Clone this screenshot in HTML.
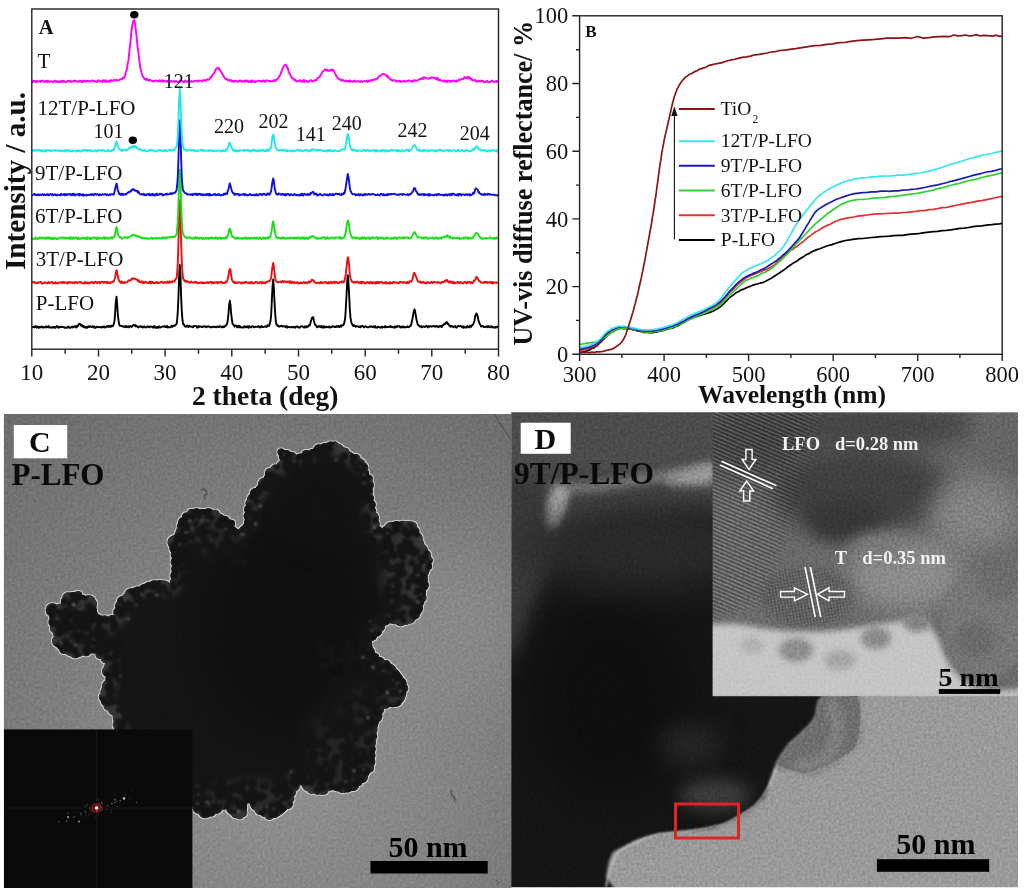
<!DOCTYPE html>
<html><head><meta charset="utf-8"><style>
html,body{margin:0;padding:0;background:#fff;}
body{width:1024px;height:891px;position:relative;overflow:hidden;font-family:"Liberation Serif",serif;}
</style></head><body>
<svg width="1024" height="891" viewBox="0 0 1024 891" style="position:absolute;left:0;top:0;will-change:transform">
<defs>
<clipPath id="clipC"><rect x="3.9" y="414" width="507.3" height="474"/></clipPath>
<clipPath id="clipD"><rect x="511.2" y="412.2" width="506.8" height="475.1"/></clipPath>
<clipPath id="clipI"><rect x="712.6" y="412.3" width="305.4" height="283.9"/></clipPath>
<radialGradient id="gC" cx="280" cy="760" r="480" gradientUnits="userSpaceOnUse"><stop offset="0" stop-color="#929292"/><stop offset="1" stop-color="#686868"/></radialGradient>
<radialGradient id="glowC" cx="470" cy="610" r="130" gradientUnits="userSpaceOnUse"><stop offset="0" stop-color="#fff" stop-opacity="0.09"/><stop offset="1" stop-color="#fff" stop-opacity="0"/></radialGradient>
<filter id="b0_8" x="-50%" y="-50%" width="200%" height="200%" color-interpolation-filters="sRGB"><feGaussianBlur stdDeviation="0.8"/></filter>
<filter id="b1_5" x="-50%" y="-50%" width="200%" height="200%" color-interpolation-filters="sRGB"><feGaussianBlur stdDeviation="1.5"/></filter>
<filter id="b3" x="-50%" y="-50%" width="200%" height="200%" color-interpolation-filters="sRGB"><feGaussianBlur stdDeviation="3"/></filter>
<filter id="b5" x="-50%" y="-50%" width="200%" height="200%" color-interpolation-filters="sRGB"><feGaussianBlur stdDeviation="5"/></filter>
<filter id="b8" x="-50%" y="-50%" width="200%" height="200%" color-interpolation-filters="sRGB"><feGaussianBlur stdDeviation="8"/></filter>
<filter id="b12" x="-50%" y="-50%" width="200%" height="200%" color-interpolation-filters="sRGB"><feGaussianBlur stdDeviation="12"/></filter>
<filter id="b18" x="-50%" y="-50%" width="200%" height="200%" color-interpolation-filters="sRGB"><feGaussianBlur stdDeviation="18"/></filter>
<filter id="b25" x="-50%" y="-50%" width="200%" height="200%" color-interpolation-filters="sRGB"><feGaussianBlur stdDeviation="25"/></filter>
<filter id="noise" x="0" y="0" width="100%" height="100%" color-interpolation-filters="sRGB"><feTurbulence type="fractalNoise" baseFrequency="0.38" numOctaves="2" seed="4"/><feColorMatrix type="matrix" values="1 0 0 0 0  1 0 0 0 0  1 0 0 0 0  0 0 0 0 1"/></filter>
<filter id="spots" x="0" y="0" width="100%" height="100%" color-interpolation-filters="sRGB"><feTurbulence type="fractalNoise" baseFrequency="0.11" numOctaves="2" seed="9"/><feColorMatrix type="matrix" values="0 0 0 0 1  0 0 0 0 1  0 0 0 0 1  2.2 0 0 0 -1.15"/></filter>
<filter id="rim" x="-5%" y="-5%" width="110%" height="110%" color-interpolation-filters="sRGB"><feMorphology in="SourceAlpha" operator="dilate" radius="1.1" result="d"/><feGaussianBlur in="d" stdDeviation="0.7" result="db"/><feFlood flood-color="#cfcfcf" result="f"/><feComposite in="f" in2="db" operator="in" result="r"/><feMerge><feMergeNode in="r"/><feMergeNode in="SourceGraphic"/></feMerge></filter>
<g id="blobCshape"><path d="M49.8,609.3 L50.0,607.6 L50.3,606.2 L50.8,605.1 L51.7,604.4 L53.3,604.5 L55.4,605.2 L57.5,605.8 L59.5,605.4 L61.0,603.5 L62.3,600.7 L63.7,597.8 L65.4,595.6 L67.5,594.2 L69.9,593.3 L72.5,592.8 L75.2,592.7 L78.1,593.2 L81.2,594.2 L84.2,595.4 L86.9,596.6 L89.2,597.6 L91.4,598.6 L93.2,599.8 L94.7,601.5 L95.7,604.2 L96.2,607.5 L96.7,610.7 L97.6,613.2 L99.0,614.6 L100.6,615.4 L102.5,615.8 L104.5,616.1 L106.9,616.4 L109.5,616.7 L112.1,616.4 L114.2,615.2 L115.5,612.5 L116.3,608.8 L117.0,604.8 L118.1,601.5 L119.7,599.1 L121.5,597.1 L123.6,595.4 L125.9,593.7 L128.6,592.1 L131.7,590.6 L134.8,589.2 L137.7,587.8 L140.2,586.4 L142.4,585.0 L144.7,583.7 L147.3,582.7 L150.3,581.9 L153.7,581.3 L157.0,581.0 L160.0,581.0 L162.6,581.6 L165.1,582.8 L167.2,583.8 L168.9,584.0 L170.0,583.2 L170.6,581.9 L171.0,579.9 L171.4,577.4 L171.9,574.2 L172.3,570.3 L172.5,566.0 L172.5,561.5 L171.9,556.6 L170.8,551.2 L169.9,546.0 L169.7,541.8 L170.5,539.0 L172.1,537.2 L173.8,535.5 L175.3,533.4 L176.3,530.5 L177.1,527.2 L178.0,523.9 L179.5,520.8 L181.8,518.0 L184.7,515.2 L187.7,512.8 L190.7,511.0 L193.5,510.0 L196.2,509.5 L199.0,509.5 L202.0,509.6 L205.3,509.9 L208.8,510.4 L212.4,511.2 L216.0,512.4 L219.7,514.1 L223.4,516.2 L227.0,518.6 L230.0,520.8 L232.2,523.2 L233.9,525.9 L235.4,528.1 L237.0,529.2 L238.8,529.1 L240.8,528.2 L242.5,526.4 L244.0,523.6 L245.0,519.1 L245.6,513.3 L246.1,507.3 L246.8,502.6 L247.6,499.7 L248.5,498.0 L249.6,496.4 L251.2,494.2 L253.7,491.0 L256.8,487.2 L259.9,483.4 L262.5,480.2 L264.1,477.7 L265.2,475.7 L266.4,473.8 L268.0,471.8 L270.7,469.7 L274.0,467.7 L277.1,465.6 L279.3,463.3 L279.9,460.4 L279.5,457.1 L279.0,454.1 L279.3,452.0 L280.8,451.1 L283.0,451.1 L285.4,451.5 L287.7,452.0 L289.6,452.7 L291.3,453.9 L293.3,454.8 L296.0,455.0 L299.8,454.2 L304.3,452.7 L309.0,450.9 L313.0,449.3 L316.2,447.8 L319.0,446.2 L321.5,444.8 L324.2,443.7 L327.0,442.9 L329.8,442.2 L332.6,442.0 L335.4,442.3 L338.2,443.4 L341.1,445.2 L343.9,447.3 L346.7,449.3 L349.6,451.3 L352.5,453.4 L355.3,455.6 L357.9,457.7 L360.3,459.7 L362.5,461.5 L364.6,463.6 L366.3,466.1 L367.7,469.1 L368.8,472.5 L369.7,476.2 L370.5,480.2 L371.0,484.8 L371.3,489.8 L371.5,495.0 L372.0,499.8 L372.8,504.3 L373.9,508.6 L375.0,512.7 L376.1,516.7 L377.1,520.9 L378.0,525.1 L379.0,528.6 L380.4,530.7 L382.1,530.6 L384.0,529.0 L386.2,526.8 L388.8,525.1 L392.0,524.1 L395.6,523.3 L399.4,522.6 L402.8,522.3 L405.9,522.1 L408.9,522.0 L411.7,522.5 L414.0,523.7 L415.8,526.0 L417.1,529.2 L418.2,532.8 L419.6,536.3 L421.3,539.8 L423.2,543.3 L425.1,546.9 L426.7,550.4 L428.2,553.6 L429.5,556.6 L430.5,559.7 L430.9,563.0 L430.4,566.6 L429.1,570.4 L427.7,574.4 L426.7,578.4 L426.3,582.5 L426.1,586.8 L425.9,591.0 L425.3,595.3 L424.3,599.6 L423.1,604.1 L421.5,608.3 L419.6,612.1 L417.4,615.6 L414.9,618.8 L411.9,621.4 L408.4,623.3 L403.8,623.9 L398.4,623.5 L393.1,623.0 L388.8,623.3 L385.9,624.8 L383.9,627.0 L382.2,629.5 L380.4,631.8 L378.0,633.8 L375.5,635.8 L373.3,637.9 L372.0,640.2 L371.7,643.0 L372.2,646.1 L373.2,649.2 L374.6,652.0 L376.5,654.5 L379.0,656.9 L381.7,659.0 L384.3,661.0 L386.8,662.6 L389.3,664.0 L391.7,665.4 L394.0,667.0 L396.2,669.0 L398.4,671.1 L400.3,673.5 L402.0,676.0 L403.4,678.8 L404.6,681.8 L405.5,684.9 L406.0,688.0 L406.1,691.1 L405.8,694.3 L405.1,697.4 L404.0,700.0 L402.5,702.1 L400.6,703.9 L398.4,705.4 L396.0,706.5 L393.2,707.0 L390.0,707.0 L386.8,707.2 L384.3,708.0 L382.6,709.7 L381.3,712.0 L380.3,714.7 L379.4,717.8 L378.4,721.4 L377.6,725.5 L376.8,729.8 L376.2,734.0 L375.7,738.0 L375.4,741.9 L375.1,745.9 L374.6,750.2 L374.0,755.0 L373.5,760.2 L372.6,765.2 L371.3,769.7 L369.4,773.5 L367.1,776.9 L364.4,779.9 L361.6,782.7 L358.7,785.3 L355.5,787.6 L352.2,789.5 L348.6,790.8 L344.6,791.1 L340.3,790.6 L336.1,790.0 L332.4,789.8 L329.6,790.4 L327.3,791.5 L325.2,792.5 L322.7,793.0 L319.6,793.0 L316.2,792.6 L312.8,791.9 L309.7,790.8 L306.9,788.8 L304.3,786.0 L302.0,783.6 L300.0,782.7 L298.4,783.8 L297.2,786.2 L296.2,789.3 L295.1,792.4 L294.1,795.5 L293.2,798.8 L292.0,802.2 L290.2,805.4 L287.5,808.6 L284.3,811.9 L280.7,814.7 L277.3,816.7 L274.0,817.7 L270.6,817.9 L267.3,817.5 L264.3,816.7 L261.6,815.2 L259.0,813.1 L256.7,810.7 L254.6,808.6 L252.7,806.4 L250.9,804.0 L249.4,802.2 L248.1,802.0 L247.2,804.1 L246.7,808.0 L246.1,812.1 L244.9,815.0 L242.9,816.4 L240.3,817.2 L237.6,817.2 L235.0,816.7 L232.6,815.1 L230.2,812.6 L227.8,810.1 L225.4,808.6 L223.0,808.6 L220.6,809.4 L218.1,810.7 L215.7,811.9 L213.3,813.2 L210.9,814.8 L208.4,816.1 L206.0,816.7 L203.5,816.3 L200.9,815.2 L198.4,813.7 L196.2,811.9 L194.5,810.1 L193.1,808.0 L191.7,805.4 L190.0,802.0 L188.2,797.3 L186.5,791.6 L184.0,785.6 L180.0,780.0 L173.9,774.9 L166.2,769.9 L158.0,765.0 L150.0,760.0 L141.9,754.8 L133.4,749.5 L125.7,744.4 L120.0,740.0 L116.9,736.3 L115.8,733.2 L115.5,730.6 L115.2,728.4 L114.7,727.0 L114.5,726.3 L114.4,725.7 L114.2,724.5 L113.9,722.4 L113.7,719.9 L113.2,717.2 L112.3,714.8 L110.7,712.7 L108.5,710.8 L106.3,708.9 L104.5,707.0 L103.1,705.1 L101.9,703.2 L101.0,701.2 L100.5,699.1 L100.5,696.8 L101.0,694.5 L101.7,692.0 L102.5,689.4 L103.5,686.5 L104.7,683.3 L105.8,680.3 L106.4,677.7 L106.3,675.9 L105.6,674.6 L104.9,673.4 L104.5,671.8 L104.7,669.5 L105.1,666.8 L105.5,664.2 L105.4,662.0 L104.6,660.4 L103.4,659.2 L101.9,658.1 L100.5,657.1 L99.2,655.9 L97.8,654.8 L96.3,653.8 L94.7,653.2 L93.0,653.1 L91.2,653.3 L89.2,653.7 L86.9,654.2 L84.3,655.0 L81.3,656.0 L78.2,656.9 L75.2,657.1 L72.2,656.5 L69.1,655.4 L66.1,653.9 L63.4,652.3 L61.0,650.6 L58.9,648.7 L57.0,646.7 L55.6,644.5 L54.8,642.3 L54.4,640.1 L54.2,637.6 L53.7,634.7 L52.8,631.0 L51.6,626.8 L50.5,622.6 L49.8,619.0 L49.5,616.0 L49.4,613.5 L49.6,611.2 Z"/><circle cx="53.3" cy="609.7" r="5.1"/><circle cx="52.4" cy="609.9" r="6.7"/><circle cx="59.6" cy="609.1" r="5.3"/><circle cx="65.0" cy="601.5" r="4.1"/><circle cx="68.1" cy="598.0" r="5.7"/><circle cx="72.8" cy="595.8" r="3.8"/><circle cx="78.2" cy="594.8" r="3.8"/><circle cx="82.4" cy="600.9" r="5.9"/><circle cx="88.9" cy="602.1" r="6.9"/><circle cx="91.3" cy="604.1" r="5.8"/><circle cx="92.5" cy="609.6" r="4.1"/><circle cx="96.8" cy="619.4" r="5.3"/><circle cx="104.9" cy="619.7" r="4.2"/><circle cx="112.1" cy="618.7" r="3.6"/><circle cx="118.3" cy="612.2" r="5.0"/><circle cx="120.4" cy="605.9" r="5.3"/><circle cx="122.3" cy="601.3" r="5.2"/><circle cx="126.7" cy="598.5" r="5.1"/><circle cx="131.5" cy="595.3" r="7.0"/><circle cx="137.5" cy="592.8" r="6.4"/><circle cx="143.4" cy="589.1" r="4.6"/><circle cx="148.7" cy="586.8" r="4.5"/><circle cx="154.3" cy="586.4" r="6.2"/><circle cx="159.9" cy="586.4" r="6.5"/><circle cx="164.0" cy="587.3" r="6.9"/><circle cx="173.6" cy="581.9" r="3.5"/><circle cx="177.1" cy="575.7" r="6.7"/><circle cx="178.2" cy="568.8" r="6.9"/><circle cx="174.5" cy="561.9" r="3.8"/><circle cx="177.0" cy="554.4" r="6.2"/><circle cx="173.3" cy="548.6" r="3.8"/><circle cx="174.5" cy="542.4" r="6.9"/><circle cx="174.5" cy="539.3" r="3.9"/><circle cx="179.4" cy="532.8" r="3.9"/><circle cx="183.1" cy="527.0" r="6.3"/><circle cx="183.7" cy="522.3" r="5.5"/><circle cx="186.3" cy="516.6" r="4.2"/><circle cx="191.4" cy="513.1" r="4.0"/><circle cx="196.5" cy="512.2" r="3.9"/><circle cx="202.7" cy="513.2" r="4.2"/><circle cx="208.4" cy="515.1" r="6.9"/><circle cx="215.0" cy="514.3" r="4.6"/><circle cx="219.9" cy="517.9" r="4.2"/><circle cx="224.2" cy="522.3" r="6.5"/><circle cx="231.1" cy="523.6" r="3.9"/><circle cx="233.5" cy="531.1" r="4.2"/><circle cx="245.1" cy="531.4" r="6.2"/><circle cx="248.6" cy="523.0" r="4.5"/><circle cx="247.5" cy="515.9" r="3.8"/><circle cx="248.6" cy="509.4" r="4.4"/><circle cx="250.3" cy="503.3" r="4.8"/><circle cx="253.8" cy="500.0" r="6.9"/><circle cx="255.6" cy="493.5" r="5.5"/><circle cx="260.1" cy="489.0" r="4.1"/><circle cx="264.8" cy="484.3" r="6.7"/><circle cx="268.4" cy="478.0" r="4.4"/><circle cx="271.0" cy="473.8" r="6.1"/><circle cx="275.2" cy="468.8" r="4.2"/><circle cx="282.9" cy="466.7" r="6.6"/><circle cx="284.1" cy="456.2" r="5.0"/><circle cx="281.1" cy="452.1" r="3.6"/><circle cx="286.5" cy="454.2" r="4.3"/><circle cx="292.0" cy="456.5" r="4.4"/><circle cx="300.2" cy="459.0" r="5.6"/><circle cx="306.1" cy="454.2" r="4.1"/><circle cx="312.6" cy="452.8" r="3.7"/><circle cx="318.8" cy="449.8" r="5.5"/><circle cx="325.0" cy="448.7" r="5.7"/><circle cx="330.7" cy="448.3" r="6.7"/><circle cx="334.7" cy="445.0" r="3.6"/><circle cx="338.6" cy="449.4" r="5.1"/><circle cx="344.9" cy="451.8" r="4.1"/><circle cx="349.0" cy="457.2" r="5.5"/><circle cx="355.7" cy="458.8" r="4.8"/><circle cx="358.9" cy="465.1" r="6.9"/><circle cx="362.4" cy="468.0" r="5.9"/><circle cx="365.0" cy="473.4" r="4.0"/><circle cx="369.2" cy="478.7" r="3.6"/><circle cx="367.8" cy="485.1" r="6.0"/><circle cx="369.5" cy="491.5" r="3.6"/><circle cx="368.7" cy="498.2" r="5.2"/><circle cx="371.1" cy="504.8" r="4.6"/><circle cx="372.3" cy="511.2" r="3.8"/><circle cx="372.7" cy="517.7" r="6.1"/><circle cx="373.6" cy="524.1" r="6.1"/><circle cx="376.4" cy="531.5" r="6.3"/><circle cx="386.5" cy="530.4" r="4.7"/><circle cx="391.0" cy="528.8" r="6.7"/><circle cx="396.5" cy="525.9" r="5.0"/><circle cx="403.0" cy="527.2" r="6.5"/><circle cx="408.3" cy="526.6" r="5.7"/><circle cx="411.6" cy="526.9" r="5.5"/><circle cx="415.6" cy="531.1" r="3.8"/><circle cx="415.7" cy="538.6" r="7.0"/><circle cx="418.3" cy="544.6" r="6.0"/><circle cx="421.6" cy="550.0" r="6.1"/><circle cx="425.9" cy="555.1" r="5.0"/><circle cx="428.9" cy="560.3" r="3.8"/><circle cx="428.5" cy="566.3" r="3.6"/><circle cx="424.1" cy="571.2" r="5.2"/><circle cx="422.1" cy="578.5" r="5.9"/><circle cx="423.1" cy="585.3" r="5.7"/><circle cx="421.4" cy="591.4" r="4.4"/><circle cx="422.0" cy="597.7" r="4.6"/><circle cx="419.4" cy="603.3" r="4.2"/><circle cx="416.1" cy="608.4" r="6.7"/><circle cx="414.9" cy="614.5" r="5.0"/><circle cx="410.7" cy="618.8" r="4.6"/><circle cx="406.4" cy="620.5" r="4.2"/><circle cx="400.6" cy="619.9" r="6.3"/><circle cx="394.3" cy="617.6" r="6.6"/><circle cx="385.3" cy="619.9" r="5.5"/><circle cx="380.8" cy="627.0" r="4.0"/><circle cx="376.0" cy="630.2" r="6.4"/><circle cx="371.4" cy="635.1" r="6.0"/><circle cx="367.8" cy="644.1" r="4.5"/><circle cx="369.6" cy="651.6" r="5.1"/><circle cx="375.0" cy="657.3" r="4.2"/><circle cx="379.4" cy="662.7" r="5.7"/><circle cx="386.3" cy="664.9" r="4.6"/><circle cx="389.7" cy="670.9" r="6.9"/><circle cx="395.2" cy="673.2" r="3.8"/><circle cx="396.4" cy="679.3" r="6.6"/><circle cx="400.5" cy="683.2" r="6.0"/><circle cx="403.6" cy="688.3" r="4.6"/><circle cx="402.6" cy="693.7" r="3.6"/><circle cx="399.5" cy="697.6" r="5.1"/><circle cx="395.9" cy="700.1" r="6.4"/><circle cx="392.9" cy="703.2" r="4.0"/><circle cx="385.1" cy="703.1" r="5.7"/><circle cx="378.3" cy="709.4" r="5.7"/><circle cx="376.0" cy="716.3" r="6.3"/><circle cx="372.7" cy="722.6" r="5.9"/><circle cx="372.2" cy="729.4" r="5.2"/><circle cx="373.7" cy="736.2" r="3.5"/><circle cx="369.8" cy="742.5" r="6.0"/><circle cx="371.2" cy="749.1" r="4.5"/><circle cx="369.5" cy="755.4" r="5.9"/><circle cx="369.6" cy="761.8" r="5.7"/><circle cx="369.1" cy="767.9" r="4.9"/><circle cx="363.5" cy="770.8" r="6.7"/><circle cx="361.2" cy="776.5" r="6.8"/><circle cx="358.3" cy="782.0" r="4.0"/><circle cx="353.3" cy="785.3" r="5.7"/><circle cx="347.9" cy="787.6" r="4.8"/><circle cx="343.0" cy="786.5" r="6.6"/><circle cx="336.9" cy="784.5" r="6.8"/><circle cx="328.5" cy="785.3" r="5.8"/><circle cx="322.9" cy="789.1" r="6.0"/><circle cx="317.6" cy="789.0" r="5.7"/><circle cx="311.5" cy="789.6" r="4.2"/><circle cx="308.8" cy="784.6" r="6.9"/><circle cx="302.2" cy="780.2" r="5.4"/><circle cx="295.0" cy="786.4" r="4.6"/><circle cx="289.6" cy="791.4" r="6.5"/><circle cx="290.5" cy="798.6" r="3.8"/><circle cx="287.4" cy="803.7" r="5.4"/><circle cx="282.4" cy="806.5" r="5.2"/><circle cx="277.2" cy="809.6" r="6.3"/><circle cx="273.6" cy="811.7" r="6.3"/><circle cx="269.2" cy="815.3" r="4.7"/><circle cx="264.4" cy="812.7" r="4.0"/><circle cx="260.1" cy="809.4" r="5.3"/><circle cx="256.6" cy="804.1" r="6.4"/><circle cx="250.0" cy="796.8" r="6.8"/><circle cx="240.3" cy="806.5" r="6.8"/><circle cx="242.9" cy="812.6" r="4.3"/><circle cx="239.8" cy="814.8" r="4.5"/><circle cx="236.5" cy="812.6" r="5.7"/><circle cx="232.9" cy="808.4" r="6.5"/><circle cx="224.1" cy="805.1" r="4.6"/><circle cx="216.3" cy="807.2" r="6.5"/><circle cx="211.3" cy="812.3" r="4.2"/><circle cx="205.3" cy="811.3" r="6.9"/><circle cx="202.9" cy="810.7" r="5.5"/><circle cx="198.1" cy="808.2" r="5.4"/><circle cx="196.7" cy="803.0" r="5.6"/><circle cx="194.2" cy="797.6" r="6.9"/><circle cx="189.6" cy="792.6" r="4.9"/><circle cx="188.5" cy="785.7" r="5.5"/><circle cx="186.0" cy="778.5" r="5.9"/><circle cx="179.4" cy="774.0" r="5.4"/><circle cx="173.9" cy="769.7" r="6.8"/><circle cx="167.7" cy="767.1" r="4.4"/><circle cx="161.9" cy="764.1" r="3.9"/><circle cx="157.0" cy="759.8" r="6.4"/><circle cx="151.8" cy="756.0" r="5.2"/><circle cx="145.3" cy="754.1" r="4.2"/><circle cx="141.9" cy="747.2" r="6.7"/><circle cx="136.4" cy="744.0" r="6.2"/><circle cx="129.5" cy="742.6" r="4.2"/><circle cx="125.4" cy="737.8" r="5.9"/><circle cx="120.0" cy="735.3" r="4.7"/><circle cx="117.4" cy="731.1" r="3.9"/><circle cx="116.7" cy="724.4" r="3.9"/><circle cx="117.2" cy="717.8" r="4.4"/><circle cx="113.4" cy="709.6" r="5.4"/><circle cx="108.5" cy="705.9" r="4.8"/><circle cx="106.1" cy="700.6" r="5.4"/><circle cx="103.0" cy="697.0" r="4.2"/><circle cx="106.2" cy="691.9" r="5.7"/><circle cx="108.7" cy="686.2" r="6.5"/><circle cx="111.9" cy="679.7" r="6.5"/><circle cx="108.3" cy="671.3" r="6.1"/><circle cx="111.0" cy="666.7" r="6.7"/><circle cx="105.4" cy="658.4" r="4.6"/><circle cx="99.9" cy="654.6" r="4.3"/><circle cx="93.7" cy="646.9" r="6.6"/><circle cx="86.2" cy="652.0" r="4.3"/><circle cx="79.5" cy="652.2" r="4.4"/><circle cx="75.2" cy="651.8" r="6.4"/><circle cx="70.7" cy="649.6" r="6.3"/><circle cx="64.2" cy="649.2" r="4.9"/><circle cx="59.9" cy="645.3" r="3.6"/><circle cx="57.9" cy="641.1" r="5.9"/><circle cx="60.3" cy="634.1" r="6.9"/><circle cx="55.2" cy="628.1" r="5.3"/><circle cx="53.8" cy="622.0" r="5.3"/><circle cx="53.4" cy="615.8" r="4.2"/><circle cx="53.5" cy="610.2" r="3.9"/></g>
<mask id="mBlobC"><use href="#blobCshape" fill="#fff"/></mask>
<pattern id="fringeA" width="3.6" height="3.6" patternUnits="userSpaceOnUse" patternTransform="rotate(23)"><rect width="3.6" height="1.6" fill="#000" fill-opacity="0.32"/><rect y="1.8" width="3.6" height="1.6" fill="#fff" fill-opacity="0.10"/></pattern>
<pattern id="fringeB" width="3.2" height="3.2" patternUnits="userSpaceOnUse" patternTransform="rotate(80)"><rect width="3.2" height="1.5" fill="#000" fill-opacity="0.18"/></pattern>
<pattern id="fringeC" width="3.2" height="3.2" patternUnits="userSpaceOnUse" patternTransform="rotate(-10)"><rect width="3.2" height="1.5" fill="#000" fill-opacity="0.12"/></pattern>
</defs>
<g clip-path="url(#clipC)">
<rect x="0" y="410" width="512" height="481" fill="url(#gC)"/>
<rect x="0" y="410" width="512" height="481" fill="url(#glowC)"/>
<use href="#blobCshape" fill="#151515" filter="url(#rim)"/>
<g mask="url(#mBlobC)">
<path d="M49.8,609.3 L50.0,607.6 L50.3,606.2 L50.8,605.1 L51.7,604.4 L53.3,604.5 L55.4,605.2 L57.5,605.8 L59.5,605.4 L61.0,603.5 L62.3,600.7 L63.7,597.8 L65.4,595.6 L67.5,594.2 L69.9,593.3 L72.5,592.8 L75.2,592.7 L78.1,593.2 L81.2,594.2 L84.2,595.4 L86.9,596.6 L89.2,597.6 L91.4,598.6 L93.2,599.8 L94.7,601.5 L95.7,604.2 L96.2,607.5 L96.7,610.7 L97.6,613.2 L99.0,614.6 L100.6,615.4 L102.5,615.8 L104.5,616.1 L106.9,616.4 L109.5,616.7 L112.1,616.4 L114.2,615.2 L115.5,612.5 L116.3,608.8 L117.0,604.8 L118.1,601.5 L119.7,599.1 L121.5,597.1 L123.6,595.4 L125.9,593.7 L128.6,592.1 L131.7,590.6 L134.8,589.2 L137.7,587.8 L140.2,586.4 L142.4,585.0 L144.7,583.7 L147.3,582.7 L150.3,581.9 L153.7,581.3 L157.0,581.0 L160.0,581.0 L162.6,581.6 L165.1,582.8 L167.2,583.8 L168.9,584.0 L170.0,583.2 L170.6,581.9 L171.0,579.9 L171.4,577.4 L171.9,574.2 L172.3,570.3 L172.5,566.0 L172.5,561.5 L171.9,556.6 L170.8,551.2 L169.9,546.0 L169.7,541.8 L170.5,539.0 L172.1,537.2 L173.8,535.5 L175.3,533.4 L176.3,530.5 L177.1,527.2 L178.0,523.9 L179.5,520.8 L181.8,518.0 L184.7,515.2 L187.7,512.8 L190.7,511.0 L193.5,510.0 L196.2,509.5 L199.0,509.5 L202.0,509.6 L205.3,509.9 L208.8,510.4 L212.4,511.2 L216.0,512.4 L219.7,514.1 L223.4,516.2 L227.0,518.6 L230.0,520.8 L232.2,523.2 L233.9,525.9 L235.4,528.1 L237.0,529.2 L238.8,529.1 L240.8,528.2 L242.5,526.4 L244.0,523.6 L245.0,519.1 L245.6,513.3 L246.1,507.3 L246.8,502.6 L247.6,499.7 L248.5,498.0 L249.6,496.4 L251.2,494.2 L253.7,491.0 L256.8,487.2 L259.9,483.4 L262.5,480.2 L264.1,477.7 L265.2,475.7 L266.4,473.8 L268.0,471.8 L270.7,469.7 L274.0,467.7 L277.1,465.6 L279.3,463.3 L279.9,460.4 L279.5,457.1 L279.0,454.1 L279.3,452.0 L280.8,451.1 L283.0,451.1 L285.4,451.5 L287.7,452.0 L289.6,452.7 L291.3,453.9 L293.3,454.8 L296.0,455.0 L299.8,454.2 L304.3,452.7 L309.0,450.9 L313.0,449.3 L316.2,447.8 L319.0,446.2 L321.5,444.8 L324.2,443.7 L327.0,442.9 L329.8,442.2 L332.6,442.0 L335.4,442.3 L338.2,443.4 L341.1,445.2 L343.9,447.3 L346.7,449.3 L349.6,451.3 L352.5,453.4 L355.3,455.6 L357.9,457.7 L360.3,459.7 L362.5,461.5 L364.6,463.6 L366.3,466.1 L367.7,469.1 L368.8,472.5 L369.7,476.2 L370.5,480.2 L371.0,484.8 L371.3,489.8 L371.5,495.0 L372.0,499.8 L372.8,504.3 L373.9,508.6 L375.0,512.7 L376.1,516.7 L377.1,520.9 L378.0,525.1 L379.0,528.6 L380.4,530.7 L382.1,530.6 L384.0,529.0 L386.2,526.8 L388.8,525.1 L392.0,524.1 L395.6,523.3 L399.4,522.6 L402.8,522.3 L405.9,522.1 L408.9,522.0 L411.7,522.5 L414.0,523.7 L415.8,526.0 L417.1,529.2 L418.2,532.8 L419.6,536.3 L421.3,539.8 L423.2,543.3 L425.1,546.9 L426.7,550.4 L428.2,553.6 L429.5,556.6 L430.5,559.7 L430.9,563.0 L430.4,566.6 L429.1,570.4 L427.7,574.4 L426.7,578.4 L426.3,582.5 L426.1,586.8 L425.9,591.0 L425.3,595.3 L424.3,599.6 L423.1,604.1 L421.5,608.3 L419.6,612.1 L417.4,615.6 L414.9,618.8 L411.9,621.4 L408.4,623.3 L403.8,623.9 L398.4,623.5 L393.1,623.0 L388.8,623.3 L385.9,624.8 L383.9,627.0 L382.2,629.5 L380.4,631.8 L378.0,633.8 L375.5,635.8 L373.3,637.9 L372.0,640.2 L371.7,643.0 L372.2,646.1 L373.2,649.2 L374.6,652.0 L376.5,654.5 L379.0,656.9 L381.7,659.0 L384.3,661.0 L386.8,662.6 L389.3,664.0 L391.7,665.4 L394.0,667.0 L396.2,669.0 L398.4,671.1 L400.3,673.5 L402.0,676.0 L403.4,678.8 L404.6,681.8 L405.5,684.9 L406.0,688.0 L406.1,691.1 L405.8,694.3 L405.1,697.4 L404.0,700.0 L402.5,702.1 L400.6,703.9 L398.4,705.4 L396.0,706.5 L393.2,707.0 L390.0,707.0 L386.8,707.2 L384.3,708.0 L382.6,709.7 L381.3,712.0 L380.3,714.7 L379.4,717.8 L378.4,721.4 L377.6,725.5 L376.8,729.8 L376.2,734.0 L375.7,738.0 L375.4,741.9 L375.1,745.9 L374.6,750.2 L374.0,755.0 L373.5,760.2 L372.6,765.2 L371.3,769.7 L369.4,773.5 L367.1,776.9 L364.4,779.9 L361.6,782.7 L358.7,785.3 L355.5,787.6 L352.2,789.5 L348.6,790.8 L344.6,791.1 L340.3,790.6 L336.1,790.0 L332.4,789.8 L329.6,790.4 L327.3,791.5 L325.2,792.5 L322.7,793.0 L319.6,793.0 L316.2,792.6 L312.8,791.9 L309.7,790.8 L306.9,788.8 L304.3,786.0 L302.0,783.6 L300.0,782.7 L298.4,783.8 L297.2,786.2 L296.2,789.3 L295.1,792.4 L294.1,795.5 L293.2,798.8 L292.0,802.2 L290.2,805.4 L287.5,808.6 L284.3,811.9 L280.7,814.7 L277.3,816.7 L274.0,817.7 L270.6,817.9 L267.3,817.5 L264.3,816.7 L261.6,815.2 L259.0,813.1 L256.7,810.7 L254.6,808.6 L252.7,806.4 L250.9,804.0 L249.4,802.2 L248.1,802.0 L247.2,804.1 L246.7,808.0 L246.1,812.1 L244.9,815.0 L242.9,816.4 L240.3,817.2 L237.6,817.2 L235.0,816.7 L232.6,815.1 L230.2,812.6 L227.8,810.1 L225.4,808.6 L223.0,808.6 L220.6,809.4 L218.1,810.7 L215.7,811.9 L213.3,813.2 L210.9,814.8 L208.4,816.1 L206.0,816.7 L203.5,816.3 L200.9,815.2 L198.4,813.7 L196.2,811.9 L194.5,810.1 L193.1,808.0 L191.7,805.4 L190.0,802.0 L188.2,797.3 L186.5,791.6 L184.0,785.6 L180.0,780.0 L173.9,774.9 L166.2,769.9 L158.0,765.0 L150.0,760.0 L141.9,754.8 L133.4,749.5 L125.7,744.4 L120.0,740.0 L116.9,736.3 L115.8,733.2 L115.5,730.6 L115.2,728.4 L114.7,727.0 L114.5,726.3 L114.4,725.7 L114.2,724.5 L113.9,722.4 L113.7,719.9 L113.2,717.2 L112.3,714.8 L110.7,712.7 L108.5,710.8 L106.3,708.9 L104.5,707.0 L103.1,705.1 L101.9,703.2 L101.0,701.2 L100.5,699.1 L100.5,696.8 L101.0,694.5 L101.7,692.0 L102.5,689.4 L103.5,686.5 L104.7,683.3 L105.8,680.3 L106.4,677.7 L106.3,675.9 L105.6,674.6 L104.9,673.4 L104.5,671.8 L104.7,669.5 L105.1,666.8 L105.5,664.2 L105.4,662.0 L104.6,660.4 L103.4,659.2 L101.9,658.1 L100.5,657.1 L99.2,655.9 L97.8,654.8 L96.3,653.8 L94.7,653.2 L93.0,653.1 L91.2,653.3 L89.2,653.7 L86.9,654.2 L84.3,655.0 L81.3,656.0 L78.2,656.9 L75.2,657.1 L72.2,656.5 L69.1,655.4 L66.1,653.9 L63.4,652.3 L61.0,650.6 L58.9,648.7 L57.0,646.7 L55.6,644.5 L54.8,642.3 L54.4,640.1 L54.2,637.6 L53.7,634.7 L52.8,631.0 L51.6,626.8 L50.5,622.6 L49.8,619.0 L49.5,616.0 L49.4,613.5 L49.6,611.2 Z" fill="none" stroke="#363636" stroke-width="24" filter="url(#b3)"/>
<ellipse cx="90" cy="625" rx="24" ry="22" fill="#303030" filter="url(#b5)"/>
<ellipse cx="405" cy="575" rx="24" ry="45" fill="#363636" filter="url(#b5)"/>
<ellipse cx="210" cy="535" rx="28" ry="20" fill="#2c2c2c" filter="url(#b5)"/>
<ellipse cx="350" cy="730" rx="45" ry="55" fill="#2a2a2a" filter="url(#b8)"/>
<ellipse cx="250" cy="795" rx="45" ry="16" fill="#2a2a2a" filter="url(#b5)"/>
<ellipse cx="290" cy="630" rx="90" ry="110" fill="#0f0f0f" filter="url(#b25)"/>
<ellipse cx="320" cy="505" rx="35" ry="40" fill="#121212" filter="url(#b12)"/>
<g fill="#141414" filter="url(#b0_8)"><circle cx="112.4" cy="701.3" r="3.9"/><circle cx="351.8" cy="745.7" r="3.6"/><circle cx="242.1" cy="530.7" r="2.6"/><circle cx="331.2" cy="770.9" r="3.8"/><circle cx="412.6" cy="580.5" r="2.9"/><circle cx="361.3" cy="488.9" r="4.5"/><circle cx="379.7" cy="530.3" r="4.2"/><circle cx="340.4" cy="660.3" r="4.1"/><circle cx="96.2" cy="621.0" r="4.3"/><circle cx="388.0" cy="596.0" r="3.3"/><circle cx="204.7" cy="813.8" r="4.5"/><circle cx="356.6" cy="732.9" r="3.6"/><circle cx="369.2" cy="740.9" r="4.4"/><circle cx="374.3" cy="661.6" r="3.1"/><circle cx="204.2" cy="802.4" r="4.4"/><circle cx="380.3" cy="688.3" r="2.9"/><circle cx="320.6" cy="770.5" r="4.1"/><circle cx="259.0" cy="798.4" r="2.8"/><circle cx="422.1" cy="575.5" r="3.2"/><circle cx="360.1" cy="727.7" r="3.5"/><circle cx="202.6" cy="526.7" r="2.7"/><circle cx="215.0" cy="534.8" r="4.0"/><circle cx="361.2" cy="714.1" r="3.5"/><circle cx="139.6" cy="586.9" r="3.6"/><circle cx="290.5" cy="804.0" r="2.8"/><circle cx="323.0" cy="776.7" r="4.2"/><circle cx="304.3" cy="764.9" r="4.0"/><circle cx="399.1" cy="587.1" r="3.8"/><circle cx="412.3" cy="563.1" r="3.1"/><circle cx="371.9" cy="499.6" r="4.0"/><circle cx="155.3" cy="584.4" r="4.5"/><circle cx="318.2" cy="449.1" r="3.6"/><circle cx="351.4" cy="751.1" r="3.7"/><circle cx="135.3" cy="743.6" r="4.3"/><circle cx="334.4" cy="727.4" r="3.0"/><circle cx="178.4" cy="543.4" r="3.3"/><circle cx="75.2" cy="634.4" r="4.0"/><circle cx="365.0" cy="522.3" r="2.7"/><circle cx="357.2" cy="782.7" r="4.0"/><circle cx="132.3" cy="734.3" r="4.4"/><circle cx="252.9" cy="783.5" r="4.5"/><circle cx="198.3" cy="796.0" r="4.5"/><circle cx="345.3" cy="720.2" r="4.4"/><circle cx="141.0" cy="601.5" r="3.9"/><circle cx="343.5" cy="724.4" r="3.9"/><circle cx="363.3" cy="662.4" r="4.2"/><circle cx="330.4" cy="716.7" r="4.6"/><circle cx="364.7" cy="629.9" r="3.5"/><circle cx="192.5" cy="536.1" r="4.2"/><circle cx="385.3" cy="688.1" r="2.6"/><circle cx="325.9" cy="665.5" r="3.5"/><circle cx="240.4" cy="803.7" r="3.3"/><circle cx="337.4" cy="681.0" r="3.5"/><circle cx="245.4" cy="526.0" r="4.2"/><circle cx="223.0" cy="525.2" r="3.8"/><circle cx="271.8" cy="474.6" r="3.6"/><circle cx="174.2" cy="565.4" r="3.0"/><circle cx="107.3" cy="676.6" r="4.3"/><circle cx="62.5" cy="629.3" r="4.4"/><circle cx="343.7" cy="659.9" r="3.0"/><circle cx="324.0" cy="641.5" r="2.9"/><circle cx="355.1" cy="462.0" r="3.2"/><circle cx="351.9" cy="725.2" r="2.9"/><circle cx="188.2" cy="516.5" r="3.6"/><circle cx="211.8" cy="517.2" r="2.7"/><circle cx="366.8" cy="702.0" r="3.6"/><circle cx="308.5" cy="732.2" r="4.0"/><circle cx="174.4" cy="584.8" r="4.6"/><circle cx="350.8" cy="769.8" r="4.4"/><circle cx="245.5" cy="806.4" r="3.9"/><circle cx="91.9" cy="633.8" r="3.2"/><circle cx="181.4" cy="522.1" r="2.7"/><circle cx="403.7" cy="557.9" r="3.1"/><circle cx="132.1" cy="590.9" r="4.2"/><circle cx="375.5" cy="722.4" r="4.1"/><circle cx="399.8" cy="615.2" r="4.0"/><circle cx="284.4" cy="811.0" r="4.4"/><circle cx="258.8" cy="487.3" r="4.2"/><circle cx="325.1" cy="453.7" r="3.2"/><circle cx="289.8" cy="465.5" r="4.5"/><circle cx="417.7" cy="607.6" r="3.7"/><circle cx="206.2" cy="559.8" r="3.1"/><circle cx="93.7" cy="642.4" r="2.7"/><circle cx="160.5" cy="756.6" r="3.9"/><circle cx="290.8" cy="790.8" r="3.1"/><circle cx="250.9" cy="782.3" r="2.8"/><circle cx="193.2" cy="516.0" r="3.9"/><circle cx="414.4" cy="530.0" r="3.0"/><circle cx="115.3" cy="665.7" r="4.0"/><circle cx="416.7" cy="570.9" r="3.9"/><circle cx="249.4" cy="536.1" r="3.3"/><circle cx="239.6" cy="561.9" r="2.8"/><circle cx="360.7" cy="728.3" r="4.4"/><circle cx="295.2" cy="462.3" r="4.2"/><circle cx="229.6" cy="544.1" r="4.2"/><circle cx="350.1" cy="726.3" r="3.2"/><circle cx="219.7" cy="803.5" r="2.8"/><circle cx="420.3" cy="565.8" r="3.1"/><circle cx="102.7" cy="647.5" r="4.5"/><circle cx="201.7" cy="806.2" r="4.5"/><circle cx="330.0" cy="655.3" r="4.5"/><circle cx="311.7" cy="755.4" r="3.1"/><circle cx="181.1" cy="582.5" r="3.6"/><circle cx="255.2" cy="490.0" r="4.5"/><circle cx="320.3" cy="784.1" r="3.8"/><circle cx="347.7" cy="740.4" r="3.3"/><circle cx="112.1" cy="641.3" r="3.6"/><circle cx="401.1" cy="680.6" r="3.0"/><circle cx="169.2" cy="767.1" r="2.9"/><circle cx="413.8" cy="554.3" r="3.4"/><circle cx="383.8" cy="542.2" r="3.7"/><circle cx="109.2" cy="694.9" r="3.5"/><circle cx="65.6" cy="623.0" r="4.5"/><circle cx="422.8" cy="602.2" r="3.1"/><circle cx="406.6" cy="548.9" r="2.6"/><circle cx="359.4" cy="634.5" r="4.6"/><circle cx="359.6" cy="713.3" r="3.6"/><circle cx="357.4" cy="730.3" r="4.3"/><circle cx="230.0" cy="810.6" r="2.8"/><circle cx="361.6" cy="637.7" r="4.2"/><circle cx="353.3" cy="667.6" r="2.6"/><circle cx="286.7" cy="471.0" r="2.6"/><circle cx="347.2" cy="760.9" r="4.6"/><circle cx="221.9" cy="556.7" r="3.9"/><circle cx="215.0" cy="810.2" r="2.9"/><circle cx="392.3" cy="681.5" r="3.5"/><circle cx="321.2" cy="641.8" r="2.8"/><circle cx="107.7" cy="649.4" r="3.5"/><circle cx="379.8" cy="713.5" r="3.9"/><circle cx="183.2" cy="517.0" r="4.1"/><circle cx="94.9" cy="609.8" r="3.7"/><circle cx="158.2" cy="582.2" r="3.2"/><circle cx="232.3" cy="563.9" r="3.6"/><circle cx="259.3" cy="515.2" r="3.8"/><circle cx="413.3" cy="609.2" r="3.3"/><circle cx="223.0" cy="788.3" r="4.5"/><circle cx="429.0" cy="569.0" r="2.7"/><circle cx="360.3" cy="641.0" r="3.8"/><circle cx="131.5" cy="737.8" r="3.8"/><circle cx="285.7" cy="797.1" r="4.5"/><circle cx="420.9" cy="608.4" r="2.9"/><circle cx="360.7" cy="494.5" r="4.5"/><circle cx="186.4" cy="527.9" r="3.6"/><circle cx="399.8" cy="703.1" r="3.5"/><circle cx="88.0" cy="640.1" r="2.8"/><circle cx="214.0" cy="787.1" r="2.9"/><circle cx="382.8" cy="674.7" r="3.7"/><circle cx="184.3" cy="525.2" r="2.8"/><circle cx="408.6" cy="533.8" r="3.6"/><circle cx="99.4" cy="647.2" r="3.5"/><circle cx="418.2" cy="610.4" r="2.8"/><circle cx="238.9" cy="804.0" r="2.6"/><circle cx="336.6" cy="735.1" r="2.8"/><circle cx="87.5" cy="638.0" r="3.2"/><circle cx="274.4" cy="789.6" r="4.4"/><circle cx="359.8" cy="649.8" r="4.3"/><circle cx="285.5" cy="790.0" r="2.6"/><circle cx="364.2" cy="751.5" r="3.4"/><circle cx="313.3" cy="780.4" r="2.9"/><circle cx="73.5" cy="595.1" r="4.5"/><circle cx="352.2" cy="654.2" r="3.0"/><circle cx="416.5" cy="551.8" r="3.7"/><circle cx="384.1" cy="601.9" r="4.1"/><circle cx="185.9" cy="785.1" r="3.2"/><circle cx="365.1" cy="488.6" r="3.9"/><circle cx="207.4" cy="810.7" r="4.5"/><circle cx="261.3" cy="797.0" r="3.1"/><circle cx="118.5" cy="709.7" r="2.8"/><circle cx="370.8" cy="499.4" r="4.4"/><circle cx="306.8" cy="740.6" r="3.5"/><circle cx="346.6" cy="784.8" r="4.3"/><circle cx="98.9" cy="644.3" r="4.2"/><circle cx="74.5" cy="612.6" r="3.6"/><circle cx="77.7" cy="656.7" r="3.9"/><circle cx="362.5" cy="650.4" r="2.8"/><circle cx="126.1" cy="717.3" r="4.0"/><circle cx="388.9" cy="665.1" r="2.8"/><circle cx="353.1" cy="658.6" r="4.5"/><circle cx="269.5" cy="487.9" r="4.3"/><circle cx="314.2" cy="766.6" r="3.8"/><circle cx="357.4" cy="782.7" r="4.2"/><circle cx="82.1" cy="613.8" r="4.3"/><circle cx="322.6" cy="744.2" r="4.2"/><circle cx="239.4" cy="550.3" r="2.9"/><circle cx="314.6" cy="742.5" r="3.7"/><circle cx="219.4" cy="559.3" r="4.0"/><circle cx="261.4" cy="814.1" r="3.0"/><circle cx="250.5" cy="524.6" r="4.1"/><circle cx="356.6" cy="757.3" r="3.8"/><circle cx="222.4" cy="781.0" r="2.8"/><circle cx="321.5" cy="664.5" r="3.2"/><circle cx="389.7" cy="544.9" r="2.7"/><circle cx="141.6" cy="589.1" r="4.1"/><circle cx="158.3" cy="752.5" r="3.0"/><circle cx="189.0" cy="548.0" r="4.1"/><circle cx="314.8" cy="754.3" r="3.7"/><circle cx="343.5" cy="756.0" r="4.5"/><circle cx="365.2" cy="501.5" r="3.3"/><circle cx="281.4" cy="807.3" r="3.5"/><circle cx="104.9" cy="620.9" r="2.8"/><circle cx="148.9" cy="749.4" r="3.1"/><circle cx="360.8" cy="470.6" r="2.8"/><circle cx="208.8" cy="782.1" r="3.4"/><circle cx="367.6" cy="724.7" r="3.3"/><circle cx="346.6" cy="667.4" r="3.8"/><circle cx="214.3" cy="811.5" r="2.9"/><circle cx="87.0" cy="653.5" r="3.0"/><circle cx="344.1" cy="783.9" r="2.7"/><circle cx="97.0" cy="634.0" r="3.0"/><circle cx="137.8" cy="747.9" r="2.9"/><circle cx="361.0" cy="731.8" r="4.4"/><circle cx="198.3" cy="808.4" r="3.4"/><circle cx="360.6" cy="759.3" r="4.1"/><circle cx="217.1" cy="788.7" r="3.7"/><circle cx="185.0" cy="523.5" r="3.9"/><circle cx="428.6" cy="568.8" r="3.3"/><circle cx="223.4" cy="545.3" r="3.5"/><circle cx="353.9" cy="729.0" r="4.5"/><circle cx="405.5" cy="542.5" r="4.2"/><circle cx="235.5" cy="788.0" r="3.7"/><circle cx="234.2" cy="557.3" r="3.6"/><circle cx="241.3" cy="787.4" r="4.3"/><circle cx="363.2" cy="644.7" r="3.8"/><circle cx="283.3" cy="808.5" r="3.2"/><circle cx="311.5" cy="784.2" r="2.7"/><circle cx="353.3" cy="456.1" r="3.2"/><circle cx="349.5" cy="709.8" r="2.8"/><circle cx="345.6" cy="749.1" r="2.9"/><circle cx="325.2" cy="779.1" r="3.9"/><circle cx="227.1" cy="805.8" r="3.2"/><circle cx="181.1" cy="552.8" r="3.3"/><circle cx="404.1" cy="573.2" r="3.1"/><circle cx="351.6" cy="786.4" r="4.6"/><circle cx="330.9" cy="690.3" r="3.4"/><circle cx="209.1" cy="510.9" r="3.2"/><circle cx="280.1" cy="793.4" r="4.3"/><circle cx="341.7" cy="784.9" r="3.7"/><circle cx="367.9" cy="633.0" r="3.3"/><circle cx="392.9" cy="694.1" r="2.7"/><circle cx="75.7" cy="620.1" r="4.2"/><circle cx="365.7" cy="642.3" r="3.8"/><circle cx="330.9" cy="695.2" r="4.2"/><circle cx="230.2" cy="787.8" r="3.4"/><circle cx="297.0" cy="775.9" r="4.5"/><circle cx="224.2" cy="523.7" r="4.2"/><circle cx="176.5" cy="542.8" r="4.3"/><circle cx="403.4" cy="692.5" r="3.0"/><circle cx="365.5" cy="673.1" r="3.5"/><circle cx="116.5" cy="647.5" r="4.3"/><circle cx="374.2" cy="636.5" r="3.9"/><circle cx="58.7" cy="612.1" r="3.2"/><circle cx="229.0" cy="521.1" r="3.0"/><circle cx="423.0" cy="584.1" r="4.1"/><circle cx="224.1" cy="518.8" r="4.1"/><circle cx="331.7" cy="721.8" r="3.1"/><circle cx="215.3" cy="561.1" r="3.6"/><circle cx="416.9" cy="534.2" r="3.3"/><circle cx="390.3" cy="609.2" r="4.0"/><circle cx="378.7" cy="657.6" r="4.2"/><circle cx="275.3" cy="483.7" r="3.8"/><circle cx="172.2" cy="762.7" r="3.4"/><circle cx="227.0" cy="537.6" r="4.0"/><circle cx="366.7" cy="525.2" r="4.3"/><circle cx="193.2" cy="782.1" r="3.6"/><circle cx="181.2" cy="533.5" r="3.5"/><circle cx="356.7" cy="775.2" r="3.2"/><circle cx="417.9" cy="591.6" r="3.5"/><circle cx="315.7" cy="448.2" r="3.2"/><circle cx="356.3" cy="739.0" r="3.3"/><circle cx="330.2" cy="778.0" r="2.8"/><circle cx="357.9" cy="782.0" r="4.2"/><circle cx="347.2" cy="671.7" r="3.4"/><circle cx="102.8" cy="700.1" r="4.0"/><circle cx="406.3" cy="551.0" r="3.4"/><circle cx="380.4" cy="681.4" r="3.9"/><circle cx="350.5" cy="777.7" r="2.7"/><circle cx="305.1" cy="454.9" r="3.3"/><circle cx="82.7" cy="637.8" r="3.2"/><circle cx="395.1" cy="523.5" r="4.2"/><circle cx="277.0" cy="467.1" r="3.1"/><circle cx="319.0" cy="457.1" r="3.7"/><circle cx="343.3" cy="752.7" r="3.2"/><circle cx="186.4" cy="540.1" r="2.7"/><circle cx="155.6" cy="758.0" r="4.5"/><circle cx="218.1" cy="524.6" r="3.5"/><circle cx="301.1" cy="775.7" r="4.1"/><circle cx="395.7" cy="605.7" r="4.5"/><circle cx="306.6" cy="739.1" r="3.8"/><circle cx="172.3" cy="548.8" r="4.4"/><circle cx="371.6" cy="538.7" r="2.6"/><circle cx="108.6" cy="641.7" r="4.3"/><circle cx="227.3" cy="531.8" r="3.8"/><circle cx="350.7" cy="789.8" r="3.7"/><circle cx="118.9" cy="702.5" r="2.7"/><circle cx="375.0" cy="705.6" r="3.2"/><circle cx="68.9" cy="642.7" r="4.3"/><circle cx="197.2" cy="516.5" r="3.3"/><circle cx="252.3" cy="496.4" r="3.7"/><circle cx="160.2" cy="590.7" r="3.0"/><circle cx="335.6" cy="719.1" r="3.3"/><circle cx="373.9" cy="541.3" r="3.7"/><circle cx="407.2" cy="533.8" r="4.4"/><circle cx="389.6" cy="596.2" r="2.9"/><circle cx="399.6" cy="687.1" r="2.6"/><circle cx="185.6" cy="567.4" r="3.0"/><circle cx="219.5" cy="552.6" r="3.9"/><circle cx="368.4" cy="674.3" r="3.6"/><circle cx="313.7" cy="736.2" r="3.4"/><circle cx="364.4" cy="645.4" r="4.0"/><circle cx="386.6" cy="620.6" r="4.1"/><circle cx="415.0" cy="606.1" r="4.2"/><circle cx="362.1" cy="726.4" r="3.1"/><circle cx="410.1" cy="525.3" r="2.7"/><circle cx="378.7" cy="679.6" r="4.2"/><circle cx="184.8" cy="517.5" r="3.9"/><circle cx="85.4" cy="597.6" r="2.8"/><circle cx="394.0" cy="589.6" r="2.7"/><circle cx="348.5" cy="769.2" r="3.6"/><circle cx="174.5" cy="546.3" r="3.3"/><circle cx="149.8" cy="596.0" r="3.7"/><circle cx="355.0" cy="754.2" r="4.4"/><circle cx="266.0" cy="482.8" r="4.6"/><circle cx="377.2" cy="678.3" r="2.8"/><circle cx="351.2" cy="785.3" r="3.9"/><circle cx="168.6" cy="594.5" r="3.7"/><circle cx="122.7" cy="723.3" r="3.4"/><circle cx="329.8" cy="778.6" r="4.0"/><circle cx="98.0" cy="628.8" r="4.0"/><circle cx="343.3" cy="756.8" r="3.5"/><circle cx="133.0" cy="591.2" r="3.4"/><circle cx="397.2" cy="582.8" r="4.5"/><circle cx="399.0" cy="598.6" r="3.6"/><circle cx="324.0" cy="455.3" r="3.1"/><circle cx="322.8" cy="753.6" r="2.8"/><circle cx="418.1" cy="590.5" r="3.4"/><circle cx="283.9" cy="810.8" r="3.3"/><circle cx="349.2" cy="751.9" r="4.4"/><circle cx="253.3" cy="494.3" r="4.3"/><circle cx="91.0" cy="611.7" r="3.9"/><circle cx="358.5" cy="699.5" r="3.6"/><circle cx="404.0" cy="531.6" r="3.0"/><circle cx="102.3" cy="632.4" r="2.6"/><circle cx="346.2" cy="768.6" r="4.4"/><circle cx="75.7" cy="651.8" r="3.4"/><circle cx="254.6" cy="494.2" r="3.7"/><circle cx="351.2" cy="769.4" r="3.1"/><circle cx="119.0" cy="722.4" r="4.0"/><circle cx="354.9" cy="763.8" r="3.8"/><circle cx="356.8" cy="462.4" r="3.4"/><circle cx="234.1" cy="809.5" r="4.2"/><circle cx="208.2" cy="545.5" r="4.0"/><circle cx="388.3" cy="530.4" r="2.7"/><circle cx="384.9" cy="701.7" r="3.5"/><circle cx="408.6" cy="581.7" r="3.3"/><circle cx="356.6" cy="477.9" r="3.1"/><circle cx="308.4" cy="735.8" r="4.6"/><circle cx="407.3" cy="532.8" r="4.4"/><circle cx="289.3" cy="455.0" r="2.8"/><circle cx="305.4" cy="782.9" r="3.1"/><circle cx="331.7" cy="786.2" r="3.8"/><circle cx="262.4" cy="785.2" r="2.8"/><circle cx="398.2" cy="615.0" r="2.6"/><circle cx="137.0" cy="603.1" r="3.6"/><circle cx="327.9" cy="748.6" r="3.6"/><circle cx="130.8" cy="744.0" r="2.9"/><circle cx="366.4" cy="693.8" r="4.4"/><circle cx="64.6" cy="601.6" r="4.1"/><circle cx="366.2" cy="690.3" r="3.3"/><circle cx="374.0" cy="667.9" r="3.4"/><circle cx="322.1" cy="452.6" r="4.5"/><circle cx="234.6" cy="789.4" r="3.4"/><circle cx="141.0" cy="741.8" r="4.0"/><circle cx="177.8" cy="777.7" r="3.0"/><circle cx="412.4" cy="564.3" r="2.6"/><circle cx="272.7" cy="808.0" r="3.3"/><circle cx="64.6" cy="648.1" r="4.4"/><circle cx="398.2" cy="592.7" r="2.7"/><circle cx="329.0" cy="448.3" r="4.4"/><circle cx="96.0" cy="649.1" r="2.9"/><circle cx="372.4" cy="698.3" r="3.1"/><circle cx="121.0" cy="614.3" r="4.2"/><circle cx="72.1" cy="649.8" r="4.2"/><circle cx="401.4" cy="677.3" r="4.4"/><circle cx="113.8" cy="623.6" r="3.6"/><circle cx="366.5" cy="493.0" r="3.9"/><circle cx="113.5" cy="658.5" r="3.4"/><circle cx="322.2" cy="655.4" r="3.3"/><circle cx="173.7" cy="571.6" r="3.8"/><circle cx="363.9" cy="759.0" r="3.9"/><circle cx="187.4" cy="556.0" r="4.6"/><circle cx="185.1" cy="551.8" r="2.7"/><circle cx="340.4" cy="692.2" r="3.3"/><circle cx="350.2" cy="751.3" r="3.3"/><circle cx="349.6" cy="719.5" r="3.5"/><circle cx="57.7" cy="646.0" r="3.2"/><circle cx="175.7" cy="575.3" r="3.5"/><circle cx="388.5" cy="546.0" r="3.9"/><circle cx="323.3" cy="787.7" r="4.0"/><circle cx="331.2" cy="652.8" r="3.2"/><circle cx="257.1" cy="795.6" r="4.6"/><circle cx="243.9" cy="541.5" r="2.8"/><circle cx="286.6" cy="465.7" r="4.3"/><circle cx="351.6" cy="714.9" r="3.5"/><circle cx="307.1" cy="733.2" r="4.2"/><circle cx="358.1" cy="683.9" r="3.1"/><circle cx="339.7" cy="701.4" r="4.5"/><circle cx="337.6" cy="680.0" r="3.2"/><circle cx="307.8" cy="771.3" r="3.6"/><circle cx="203.8" cy="787.2" r="3.2"/><circle cx="330.7" cy="711.3" r="3.2"/><circle cx="220.6" cy="557.2" r="3.5"/><circle cx="156.7" cy="581.6" r="2.8"/><circle cx="349.9" cy="714.8" r="3.4"/><circle cx="386.2" cy="678.0" r="4.1"/><circle cx="245.9" cy="512.7" r="4.4"/><circle cx="332.7" cy="682.7" r="2.7"/><circle cx="277.2" cy="808.2" r="2.8"/><circle cx="387.4" cy="588.5" r="4.4"/><circle cx="258.8" cy="492.6" r="3.3"/><circle cx="132.1" cy="738.6" r="2.8"/><circle cx="393.2" cy="532.2" r="2.8"/><circle cx="57.1" cy="624.0" r="4.3"/><circle cx="204.5" cy="541.8" r="3.7"/><circle cx="412.5" cy="562.1" r="2.9"/><circle cx="330.1" cy="662.8" r="4.5"/><circle cx="51.6" cy="614.5" r="4.4"/><circle cx="381.6" cy="548.1" r="4.2"/><circle cx="334.5" cy="733.5" r="4.2"/><circle cx="378.4" cy="694.6" r="2.7"/><circle cx="196.9" cy="547.2" r="3.9"/><circle cx="387.0" cy="556.5" r="3.6"/><circle cx="417.3" cy="567.7" r="4.0"/><circle cx="332.2" cy="658.6" r="4.0"/><circle cx="394.6" cy="615.5" r="4.5"/><circle cx="70.7" cy="606.0" r="2.6"/><circle cx="374.4" cy="671.6" r="4.1"/><circle cx="361.7" cy="654.3" r="3.3"/><circle cx="399.2" cy="686.8" r="2.8"/><circle cx="91.8" cy="610.1" r="3.3"/><circle cx="403.7" cy="619.8" r="3.3"/><circle cx="377.1" cy="686.5" r="2.8"/><circle cx="179.6" cy="571.9" r="2.8"/><circle cx="353.8" cy="696.5" r="3.1"/><circle cx="309.4" cy="734.6" r="4.2"/><circle cx="201.2" cy="790.4" r="2.9"/><circle cx="345.2" cy="716.6" r="3.8"/><circle cx="295.8" cy="466.9" r="3.9"/><circle cx="357.9" cy="676.6" r="3.6"/><circle cx="393.3" cy="617.4" r="3.1"/><circle cx="212.5" cy="545.8" r="3.0"/><circle cx="321.6" cy="780.2" r="2.7"/><circle cx="344.1" cy="456.4" r="4.2"/><circle cx="263.6" cy="811.1" r="3.6"/><circle cx="376.8" cy="617.1" r="2.7"/><circle cx="106.2" cy="642.5" r="4.1"/><circle cx="254.1" cy="497.8" r="2.8"/><circle cx="361.5" cy="781.0" r="4.4"/><circle cx="245.3" cy="526.1" r="3.6"/><circle cx="148.6" cy="752.8" r="3.9"/><circle cx="78.0" cy="618.6" r="2.6"/><circle cx="203.7" cy="510.9" r="4.5"/><circle cx="75.8" cy="619.4" r="3.8"/><circle cx="352.1" cy="641.6" r="2.8"/><circle cx="390.1" cy="680.5" r="4.2"/><circle cx="367.9" cy="727.4" r="3.6"/><circle cx="253.9" cy="497.8" r="3.1"/><circle cx="204.3" cy="563.2" r="2.8"/><circle cx="182.9" cy="777.4" r="4.3"/><circle cx="365.0" cy="717.4" r="2.6"/><circle cx="101.6" cy="643.3" r="4.3"/><circle cx="383.8" cy="531.2" r="3.9"/><circle cx="264.7" cy="486.5" r="4.2"/><circle cx="405.0" cy="597.1" r="3.3"/><circle cx="220.9" cy="519.8" r="3.3"/><circle cx="119.7" cy="727.8" r="2.7"/><circle cx="250.6" cy="532.1" r="3.9"/><circle cx="394.0" cy="578.3" r="2.9"/><circle cx="283.0" cy="789.3" r="4.0"/><circle cx="272.7" cy="480.2" r="2.8"/><circle cx="367.1" cy="628.8" r="3.8"/><circle cx="413.7" cy="576.6" r="2.9"/><circle cx="197.2" cy="549.3" r="4.4"/><circle cx="204.9" cy="780.1" r="3.4"/><circle cx="224.0" cy="544.8" r="4.3"/><circle cx="375.5" cy="706.9" r="4.5"/><circle cx="75.0" cy="637.7" r="2.9"/><circle cx="103.3" cy="651.2" r="3.8"/><circle cx="243.6" cy="559.3" r="3.6"/><circle cx="122.2" cy="614.4" r="3.2"/><circle cx="60.1" cy="645.1" r="3.4"/><circle cx="230.6" cy="800.3" r="3.7"/><circle cx="51.2" cy="611.3" r="3.3"/><circle cx="336.6" cy="734.7" r="4.3"/><circle cx="311.1" cy="731.1" r="4.2"/><circle cx="304.1" cy="781.2" r="4.0"/><circle cx="356.0" cy="673.5" r="4.4"/><circle cx="346.6" cy="734.2" r="3.7"/><circle cx="246.1" cy="507.4" r="2.9"/><circle cx="51.2" cy="616.6" r="4.5"/><circle cx="377.1" cy="619.7" r="3.9"/><circle cx="356.8" cy="480.3" r="3.8"/><circle cx="148.5" cy="584.8" r="4.5"/><circle cx="213.0" cy="551.9" r="2.7"/><circle cx="359.6" cy="750.0" r="2.8"/><circle cx="63.3" cy="629.9" r="4.5"/><circle cx="353.6" cy="736.5" r="2.9"/><circle cx="253.0" cy="514.2" r="3.8"/><circle cx="347.4" cy="684.7" r="3.0"/><circle cx="309.7" cy="741.4" r="3.5"/><circle cx="206.6" cy="799.9" r="3.9"/><circle cx="352.2" cy="754.0" r="3.5"/><circle cx="168.8" cy="762.5" r="4.4"/><circle cx="282.6" cy="455.9" r="4.4"/><circle cx="193.5" cy="510.7" r="3.1"/><circle cx="391.7" cy="678.3" r="3.2"/><circle cx="317.2" cy="767.8" r="3.2"/><circle cx="113.8" cy="668.9" r="3.2"/><circle cx="122.0" cy="731.0" r="4.1"/><circle cx="354.9" cy="768.3" r="3.3"/><circle cx="325.8" cy="755.5" r="3.0"/><circle cx="109.9" cy="686.3" r="4.3"/><circle cx="385.1" cy="530.8" r="3.0"/><circle cx="395.9" cy="570.4" r="2.7"/><circle cx="346.8" cy="706.9" r="4.1"/><circle cx="361.3" cy="714.0" r="3.1"/><circle cx="341.0" cy="718.2" r="3.2"/><circle cx="383.2" cy="702.1" r="4.2"/><circle cx="376.0" cy="678.8" r="4.1"/><circle cx="373.6" cy="669.6" r="3.4"/><circle cx="393.8" cy="555.7" r="4.1"/><circle cx="366.3" cy="497.2" r="4.3"/><circle cx="198.3" cy="557.8" r="2.9"/><circle cx="322.2" cy="446.6" r="4.2"/><circle cx="355.2" cy="467.5" r="3.0"/><circle cx="416.4" cy="581.1" r="2.9"/><circle cx="369.9" cy="630.8" r="4.1"/><circle cx="424.4" cy="558.0" r="4.6"/><circle cx="322.1" cy="742.1" r="4.1"/><circle cx="191.6" cy="776.5" r="2.9"/><circle cx="186.7" cy="536.5" r="3.4"/><circle cx="388.0" cy="593.6" r="2.9"/><circle cx="347.9" cy="790.6" r="3.5"/><circle cx="303.7" cy="774.6" r="4.0"/><circle cx="328.9" cy="445.4" r="2.9"/><circle cx="237.2" cy="791.0" r="2.9"/><circle cx="245.2" cy="519.6" r="3.8"/><circle cx="116.5" cy="611.3" r="3.0"/><circle cx="60.3" cy="613.8" r="3.3"/><circle cx="196.7" cy="793.1" r="4.1"/><circle cx="72.2" cy="603.3" r="4.1"/><circle cx="354.4" cy="757.6" r="2.9"/><circle cx="304.3" cy="770.7" r="4.6"/><circle cx="108.2" cy="657.2" r="2.6"/><circle cx="417.7" cy="581.0" r="4.5"/><circle cx="104.6" cy="651.3" r="3.6"/><circle cx="332.1" cy="770.7" r="4.1"/><circle cx="183.1" cy="528.9" r="3.4"/><circle cx="386.8" cy="602.6" r="3.1"/><circle cx="185.4" cy="556.9" r="3.4"/><circle cx="109.7" cy="640.7" r="3.4"/><circle cx="217.5" cy="806.6" r="4.5"/><circle cx="193.8" cy="560.0" r="3.2"/><circle cx="368.2" cy="695.8" r="4.5"/><circle cx="168.7" cy="767.3" r="2.8"/><circle cx="280.8" cy="795.0" r="4.2"/><circle cx="400.0" cy="574.6" r="4.3"/><circle cx="362.4" cy="630.9" r="3.2"/><circle cx="53.1" cy="622.8" r="3.1"/><circle cx="196.4" cy="518.1" r="4.5"/><circle cx="284.2" cy="451.9" r="4.3"/><circle cx="385.3" cy="562.2" r="4.1"/><circle cx="362.6" cy="477.2" r="4.5"/><circle cx="65.2" cy="620.8" r="2.9"/><circle cx="389.5" cy="668.2" r="3.7"/><circle cx="287.9" cy="789.4" r="3.2"/><circle cx="410.9" cy="562.3" r="2.7"/><circle cx="99.6" cy="629.0" r="3.3"/><circle cx="387.0" cy="537.7" r="4.5"/><circle cx="174.5" cy="562.0" r="4.3"/><circle cx="370.3" cy="678.0" r="3.6"/><circle cx="364.8" cy="473.8" r="4.4"/><circle cx="245.6" cy="564.8" r="3.4"/><circle cx="339.8" cy="678.8" r="3.5"/><circle cx="68.0" cy="643.0" r="3.9"/><circle cx="181.9" cy="552.2" r="4.1"/><circle cx="385.8" cy="556.5" r="2.7"/><circle cx="350.2" cy="702.0" r="2.8"/><circle cx="404.2" cy="601.5" r="4.3"/><circle cx="305.1" cy="780.5" r="2.8"/><circle cx="388.8" cy="677.1" r="3.4"/><circle cx="289.4" cy="454.4" r="4.0"/><circle cx="366.8" cy="516.9" r="4.3"/><circle cx="62.6" cy="650.0" r="2.7"/><circle cx="182.5" cy="555.9" r="4.2"/><circle cx="347.4" cy="708.5" r="4.4"/><circle cx="89.9" cy="619.4" r="3.5"/><circle cx="196.2" cy="791.0" r="4.4"/><circle cx="175.1" cy="555.9" r="4.6"/><circle cx="270.7" cy="808.8" r="3.3"/><circle cx="338.6" cy="724.3" r="4.5"/><circle cx="114.9" cy="657.7" r="2.6"/><circle cx="347.3" cy="728.5" r="4.0"/><circle cx="256.5" cy="493.9" r="3.0"/><circle cx="371.8" cy="655.0" r="3.5"/><circle cx="294.6" cy="780.8" r="3.2"/><circle cx="87.7" cy="643.4" r="4.1"/><circle cx="385.6" cy="678.4" r="3.8"/><circle cx="344.1" cy="720.0" r="2.8"/><circle cx="325.6" cy="762.4" r="2.8"/><circle cx="338.9" cy="689.9" r="4.1"/><circle cx="154.1" cy="586.6" r="4.1"/><circle cx="218.1" cy="808.8" r="3.3"/><circle cx="396.9" cy="528.8" r="4.5"/><circle cx="232.5" cy="524.1" r="4.1"/><circle cx="333.6" cy="695.7" r="2.9"/><circle cx="321.2" cy="775.9" r="3.6"/><circle cx="235.8" cy="548.5" r="4.3"/><circle cx="252.0" cy="798.6" r="4.4"/><circle cx="313.2" cy="752.4" r="2.8"/><circle cx="396.1" cy="608.1" r="2.7"/><circle cx="157.4" cy="590.5" r="3.7"/><circle cx="118.6" cy="678.6" r="3.5"/><circle cx="198.2" cy="511.7" r="4.4"/><circle cx="198.3" cy="557.2" r="4.3"/><circle cx="373.4" cy="686.1" r="4.4"/><circle cx="110.7" cy="690.8" r="4.4"/><circle cx="347.7" cy="765.6" r="3.9"/><circle cx="366.7" cy="639.1" r="4.2"/><circle cx="341.2" cy="730.3" r="3.7"/><circle cx="203.7" cy="803.4" r="4.3"/><circle cx="281.0" cy="786.5" r="4.3"/><circle cx="398.5" cy="705.0" r="3.9"/><circle cx="359.6" cy="485.8" r="3.2"/><circle cx="365.6" cy="499.5" r="3.0"/><circle cx="83.1" cy="623.1" r="3.9"/><circle cx="381.2" cy="624.7" r="2.8"/><circle cx="208.2" cy="514.5" r="3.8"/><circle cx="96.0" cy="634.5" r="3.9"/><circle cx="331.6" cy="772.4" r="4.3"/><circle cx="210.3" cy="531.9" r="2.9"/><circle cx="349.8" cy="745.1" r="3.6"/><circle cx="345.2" cy="687.6" r="3.9"/><circle cx="369.6" cy="652.6" r="3.6"/><circle cx="339.5" cy="784.8" r="3.0"/><circle cx="209.3" cy="783.0" r="2.8"/><circle cx="310.1" cy="457.3" r="3.9"/><circle cx="81.4" cy="595.9" r="3.8"/><circle cx="175.1" cy="768.3" r="3.7"/><circle cx="113.5" cy="621.6" r="3.0"/><circle cx="229.1" cy="546.6" r="3.2"/><circle cx="203.7" cy="532.5" r="4.4"/><circle cx="176.1" cy="556.5" r="3.0"/><circle cx="124.4" cy="732.2" r="4.6"/><circle cx="308.6" cy="781.6" r="3.4"/><circle cx="195.4" cy="524.7" r="2.7"/><circle cx="337.6" cy="661.1" r="3.1"/><circle cx="361.1" cy="504.1" r="4.0"/><circle cx="396.3" cy="526.5" r="4.4"/><circle cx="201.8" cy="805.9" r="3.1"/><circle cx="241.5" cy="557.5" r="2.7"/><circle cx="219.4" cy="797.2" r="4.3"/><circle cx="112.8" cy="617.9" r="3.2"/><circle cx="389.3" cy="581.5" r="2.9"/><circle cx="338.7" cy="789.2" r="3.4"/><circle cx="356.5" cy="656.2" r="3.0"/><circle cx="171.6" cy="766.2" r="2.6"/><circle cx="350.0" cy="744.3" r="4.0"/><circle cx="212.6" cy="812.3" r="4.0"/><circle cx="299.2" cy="781.2" r="4.0"/><circle cx="189.9" cy="792.9" r="3.1"/><circle cx="328.2" cy="715.1" r="3.0"/><circle cx="380.6" cy="691.8" r="2.7"/><circle cx="217.3" cy="792.9" r="3.7"/><circle cx="396.6" cy="594.3" r="2.7"/><circle cx="371.6" cy="688.7" r="3.5"/><circle cx="369.0" cy="705.1" r="4.2"/><circle cx="66.2" cy="611.4" r="4.3"/><circle cx="365.3" cy="756.9" r="3.2"/><circle cx="400.0" cy="693.5" r="4.0"/><circle cx="332.2" cy="683.8" r="4.5"/><circle cx="88.3" cy="628.5" r="4.3"/><circle cx="305.6" cy="463.9" r="3.9"/><circle cx="135.4" cy="594.9" r="3.8"/><circle cx="307.4" cy="733.7" r="3.3"/><circle cx="335.1" cy="645.2" r="2.7"/><circle cx="95.8" cy="616.6" r="3.5"/><circle cx="64.6" cy="640.9" r="2.9"/><circle cx="280.1" cy="478.7" r="2.7"/><circle cx="126.0" cy="603.3" r="4.2"/><circle cx="373.6" cy="677.7" r="2.8"/><circle cx="362.1" cy="762.6" r="2.8"/><circle cx="401.6" cy="550.0" r="2.7"/><circle cx="341.6" cy="460.7" r="2.7"/><circle cx="140.1" cy="587.1" r="3.7"/><circle cx="379.5" cy="617.0" r="4.0"/><circle cx="371.4" cy="759.8" r="3.3"/><circle cx="398.2" cy="523.7" r="4.5"/><circle cx="383.6" cy="610.3" r="3.8"/><circle cx="397.3" cy="564.9" r="2.7"/><circle cx="371.3" cy="762.3" r="3.3"/><circle cx="380.9" cy="619.9" r="4.3"/><circle cx="347.5" cy="654.8" r="3.5"/><circle cx="131.4" cy="734.3" r="3.0"/><circle cx="89.0" cy="606.2" r="3.9"/><circle cx="358.8" cy="656.8" r="3.6"/><circle cx="122.0" cy="609.0" r="4.2"/><circle cx="82.1" cy="614.4" r="4.6"/><circle cx="165.1" cy="755.0" r="4.2"/><circle cx="147.7" cy="745.9" r="3.9"/><circle cx="197.8" cy="791.0" r="2.9"/><circle cx="87.0" cy="649.8" r="4.6"/><circle cx="201.9" cy="806.6" r="3.3"/><circle cx="245.7" cy="805.0" r="2.9"/><circle cx="369.0" cy="488.2" r="2.9"/><circle cx="322.9" cy="650.7" r="4.6"/><circle cx="116.3" cy="654.4" r="4.2"/><circle cx="337.2" cy="687.4" r="2.8"/><circle cx="161.4" cy="756.5" r="4.3"/><circle cx="317.2" cy="745.0" r="3.4"/><circle cx="320.5" cy="787.2" r="3.7"/><circle cx="123.8" cy="707.3" r="4.4"/><circle cx="412.8" cy="613.3" r="4.4"/><circle cx="288.8" cy="457.4" r="3.4"/><circle cx="235.4" cy="786.4" r="3.9"/><circle cx="344.7" cy="699.6" r="2.7"/><circle cx="424.1" cy="558.9" r="3.7"/><circle cx="115.6" cy="663.8" r="3.1"/><circle cx="325.4" cy="666.4" r="3.9"/><circle cx="106.7" cy="673.0" r="3.1"/><circle cx="418.6" cy="611.0" r="3.9"/><circle cx="89.0" cy="613.6" r="4.4"/><circle cx="163.4" cy="755.2" r="3.3"/><circle cx="129.1" cy="608.9" r="3.7"/><circle cx="391.0" cy="548.9" r="3.5"/><circle cx="78.5" cy="625.7" r="4.0"/><circle cx="162.7" cy="766.1" r="4.1"/><circle cx="169.4" cy="761.1" r="4.5"/><circle cx="353.7" cy="768.5" r="3.6"/><circle cx="371.4" cy="755.7" r="3.2"/><circle cx="325.6" cy="454.5" r="4.0"/><circle cx="390.2" cy="693.6" r="2.8"/><circle cx="296.7" cy="774.8" r="3.8"/><circle cx="374.0" cy="724.5" r="2.7"/><circle cx="338.2" cy="787.6" r="3.2"/><circle cx="272.8" cy="806.0" r="4.2"/><circle cx="190.8" cy="771.7" r="3.2"/><circle cx="179.8" cy="569.7" r="3.7"/><circle cx="119.9" cy="600.3" r="3.6"/><circle cx="231.7" cy="530.1" r="4.3"/><circle cx="273.0" cy="806.0" r="3.4"/><circle cx="173.1" cy="546.0" r="3.5"/><circle cx="204.2" cy="538.9" r="4.0"/><circle cx="99.9" cy="652.5" r="4.3"/><circle cx="189.6" cy="546.8" r="3.5"/><circle cx="293.8" cy="779.3" r="3.5"/><circle cx="117.1" cy="664.8" r="2.7"/><circle cx="369.1" cy="623.4" r="3.5"/><circle cx="323.5" cy="447.0" r="3.7"/><circle cx="390.0" cy="545.5" r="4.4"/><circle cx="353.0" cy="747.9" r="3.7"/><circle cx="398.7" cy="673.1" r="3.9"/><circle cx="391.1" cy="706.1" r="3.2"/><circle cx="110.4" cy="682.5" r="3.1"/><circle cx="228.1" cy="523.6" r="2.8"/><circle cx="299.5" cy="455.5" r="4.0"/><circle cx="392.4" cy="673.1" r="3.0"/><circle cx="275.5" cy="810.5" r="4.1"/><circle cx="99.4" cy="617.5" r="3.4"/><circle cx="375.7" cy="722.9" r="4.0"/><circle cx="375.6" cy="531.7" r="3.3"/><circle cx="399.3" cy="600.4" r="4.0"/><circle cx="212.3" cy="552.3" r="4.3"/><circle cx="237.1" cy="560.4" r="4.2"/><circle cx="327.4" cy="735.3" r="4.0"/><circle cx="333.4" cy="759.0" r="2.7"/><circle cx="96.3" cy="615.1" r="2.6"/><circle cx="278.5" cy="794.9" r="3.8"/><circle cx="430.6" cy="564.3" r="4.0"/><circle cx="347.1" cy="776.2" r="4.5"/><circle cx="253.9" cy="798.6" r="4.1"/><circle cx="345.4" cy="716.3" r="2.7"/><circle cx="332.8" cy="720.4" r="3.9"/><circle cx="405.6" cy="529.6" r="3.8"/><circle cx="286.7" cy="468.2" r="3.6"/><circle cx="224.8" cy="795.6" r="4.3"/><circle cx="101.2" cy="648.4" r="4.1"/><circle cx="135.1" cy="736.2" r="4.0"/><circle cx="409.8" cy="543.6" r="3.8"/><circle cx="348.5" cy="691.7" r="3.4"/><circle cx="219.2" cy="525.4" r="3.6"/><circle cx="362.0" cy="703.2" r="3.0"/><circle cx="380.5" cy="674.7" r="4.5"/><circle cx="303.7" cy="458.2" r="3.0"/><circle cx="425.2" cy="583.5" r="4.3"/><circle cx="268.1" cy="487.2" r="4.1"/><circle cx="361.9" cy="770.1" r="3.2"/><circle cx="158.5" cy="750.8" r="4.1"/><circle cx="410.5" cy="552.0" r="3.0"/><circle cx="371.5" cy="715.1" r="2.9"/><circle cx="244.8" cy="563.5" r="3.8"/><circle cx="244.9" cy="546.0" r="3.9"/><circle cx="99.1" cy="637.3" r="3.9"/><circle cx="325.1" cy="752.7" r="3.2"/><circle cx="413.2" cy="549.4" r="3.5"/><circle cx="216.3" cy="558.9" r="2.6"/><circle cx="80.3" cy="626.1" r="4.1"/><circle cx="337.1" cy="693.0" r="4.0"/><circle cx="370.5" cy="486.0" r="3.5"/><circle cx="358.5" cy="501.2" r="4.0"/><circle cx="327.6" cy="651.7" r="2.9"/><circle cx="362.9" cy="658.1" r="4.0"/><circle cx="200.4" cy="791.3" r="4.2"/><circle cx="117.1" cy="672.6" r="3.6"/><circle cx="298.3" cy="774.0" r="3.2"/><circle cx="354.8" cy="771.7" r="4.5"/><circle cx="346.8" cy="690.0" r="3.1"/><circle cx="423.5" cy="575.4" r="4.0"/><circle cx="90.3" cy="621.6" r="3.5"/><circle cx="73.7" cy="625.9" r="4.3"/><circle cx="284.8" cy="782.7" r="4.5"/><circle cx="199.5" cy="531.3" r="4.2"/><circle cx="179.2" cy="543.0" r="3.2"/><circle cx="277.6" cy="798.0" r="2.9"/><circle cx="373.0" cy="713.6" r="3.7"/><circle cx="77.0" cy="621.7" r="2.7"/><circle cx="106.8" cy="620.0" r="4.1"/><circle cx="367.4" cy="519.4" r="3.6"/><circle cx="322.4" cy="450.8" r="4.3"/><circle cx="270.8" cy="814.7" r="3.5"/><circle cx="397.6" cy="606.5" r="3.3"/><circle cx="223.2" cy="780.1" r="3.2"/><circle cx="399.9" cy="528.9" r="3.5"/><circle cx="367.5" cy="528.1" r="2.8"/><circle cx="395.3" cy="692.7" r="4.2"/><circle cx="400.5" cy="569.4" r="4.6"/><circle cx="382.8" cy="565.5" r="3.7"/><circle cx="80.2" cy="640.1" r="4.2"/><circle cx="289.2" cy="793.8" r="3.8"/><circle cx="61.2" cy="648.1" r="3.6"/><circle cx="358.0" cy="481.7" r="2.6"/><circle cx="250.4" cy="530.5" r="3.1"/><circle cx="163.3" cy="588.9" r="4.6"/><circle cx="312.2" cy="757.9" r="4.1"/><circle cx="294.8" cy="467.7" r="4.4"/><circle cx="117.8" cy="607.6" r="3.1"/><circle cx="301.2" cy="769.2" r="4.0"/><circle cx="365.2" cy="772.7" r="4.2"/><circle cx="335.0" cy="695.8" r="3.6"/><circle cx="407.8" cy="587.5" r="3.0"/><circle cx="59.0" cy="632.8" r="4.5"/><circle cx="292.9" cy="774.7" r="3.3"/><circle cx="314.4" cy="451.6" r="2.8"/><circle cx="333.9" cy="720.4" r="3.3"/><circle cx="205.4" cy="800.8" r="3.4"/><circle cx="356.8" cy="469.4" r="3.4"/><circle cx="313.2" cy="777.2" r="4.4"/><circle cx="300.7" cy="754.8" r="2.8"/><circle cx="365.1" cy="523.7" r="4.4"/><circle cx="255.7" cy="494.7" r="3.3"/><circle cx="334.1" cy="730.3" r="4.1"/><circle cx="120.4" cy="723.7" r="4.6"/><circle cx="333.6" cy="678.1" r="3.2"/><circle cx="331.8" cy="442.3" r="2.8"/><circle cx="400.9" cy="572.0" r="3.1"/><circle cx="383.0" cy="558.1" r="3.5"/><circle cx="332.3" cy="731.1" r="4.0"/><circle cx="208.6" cy="812.9" r="4.4"/><circle cx="400.4" cy="553.1" r="4.4"/><circle cx="226.1" cy="546.9" r="3.6"/><circle cx="340.0" cy="734.8" r="3.6"/><circle cx="183.4" cy="522.2" r="3.3"/><circle cx="332.7" cy="762.4" r="3.1"/><circle cx="252.5" cy="801.2" r="4.5"/><circle cx="239.5" cy="555.1" r="3.9"/><circle cx="368.8" cy="536.4" r="3.9"/><circle cx="180.0" cy="524.2" r="3.2"/><circle cx="187.0" cy="522.3" r="4.1"/><circle cx="400.2" cy="692.8" r="2.9"/><circle cx="367.7" cy="666.8" r="3.8"/><circle cx="336.8" cy="727.4" r="4.3"/><circle cx="388.4" cy="533.1" r="3.5"/><circle cx="353.6" cy="461.1" r="3.9"/><circle cx="130.8" cy="746.5" r="3.9"/><circle cx="194.1" cy="780.5" r="4.2"/><circle cx="223.0" cy="522.7" r="3.2"/><circle cx="329.0" cy="774.5" r="4.4"/><circle cx="177.8" cy="551.2" r="3.8"/><circle cx="349.1" cy="647.9" r="3.8"/><circle cx="356.1" cy="683.4" r="4.3"/><circle cx="110.6" cy="667.8" r="2.7"/><circle cx="120.9" cy="611.8" r="2.8"/><circle cx="82.1" cy="617.6" r="4.4"/><circle cx="196.2" cy="553.3" r="3.2"/><circle cx="325.5" cy="764.2" r="4.0"/><circle cx="332.2" cy="700.0" r="3.8"/><circle cx="114.1" cy="674.8" r="4.1"/><circle cx="409.5" cy="602.0" r="4.1"/><circle cx="114.0" cy="628.4" r="4.0"/><circle cx="186.9" cy="561.2" r="3.4"/><circle cx="114.7" cy="624.0" r="3.8"/><circle cx="328.9" cy="721.7" r="4.6"/><circle cx="167.9" cy="762.7" r="3.3"/><circle cx="182.4" cy="547.7" r="2.9"/><circle cx="202.6" cy="532.5" r="4.3"/><circle cx="285.4" cy="464.8" r="2.8"/><circle cx="331.3" cy="443.0" r="3.3"/><circle cx="329.9" cy="675.1" r="2.7"/><circle cx="75.4" cy="600.1" r="4.1"/><circle cx="172.0" cy="576.4" r="2.9"/><circle cx="388.0" cy="665.5" r="4.4"/><circle cx="114.7" cy="642.4" r="4.4"/><circle cx="331.4" cy="648.9" r="3.6"/><circle cx="176.0" cy="561.1" r="4.5"/><circle cx="372.8" cy="750.7" r="4.4"/><circle cx="399.7" cy="547.1" r="3.7"/><circle cx="421.8" cy="559.2" r="4.4"/><circle cx="195.0" cy="800.0" r="4.0"/><circle cx="195.1" cy="545.2" r="3.9"/><circle cx="252.2" cy="804.2" r="3.1"/><circle cx="350.3" cy="746.5" r="3.7"/><circle cx="191.3" cy="773.5" r="3.1"/><circle cx="345.3" cy="774.1" r="3.3"/><circle cx="83.6" cy="628.0" r="4.3"/><circle cx="375.6" cy="520.9" r="2.9"/><circle cx="301.8" cy="775.0" r="3.3"/><circle cx="241.7" cy="792.1" r="3.4"/><circle cx="208.1" cy="798.4" r="3.8"/><circle cx="190.1" cy="802.0" r="4.2"/><circle cx="329.8" cy="445.2" r="2.8"/><circle cx="370.3" cy="727.4" r="3.3"/><circle cx="392.2" cy="684.3" r="3.2"/><circle cx="100.0" cy="622.2" r="2.9"/><circle cx="265.5" cy="786.4" r="3.6"/><circle cx="254.0" cy="496.5" r="2.9"/><circle cx="373.5" cy="656.4" r="3.0"/><circle cx="107.7" cy="703.4" r="3.3"/><circle cx="182.4" cy="559.7" r="3.0"/><circle cx="66.5" cy="623.4" r="2.9"/><circle cx="376.5" cy="685.6" r="3.7"/><circle cx="372.9" cy="700.5" r="3.2"/><circle cx="332.2" cy="688.8" r="4.3"/><circle cx="410.6" cy="544.9" r="2.8"/><circle cx="419.5" cy="599.4" r="3.4"/><circle cx="366.6" cy="727.0" r="4.4"/><circle cx="320.8" cy="457.4" r="4.2"/><circle cx="68.2" cy="627.0" r="4.0"/><circle cx="382.0" cy="603.3" r="2.8"/><circle cx="340.3" cy="729.9" r="3.6"/><circle cx="281.9" cy="453.7" r="4.0"/><circle cx="91.8" cy="650.8" r="4.2"/><circle cx="351.7" cy="726.2" r="3.8"/><circle cx="368.8" cy="485.8" r="3.5"/><circle cx="216.5" cy="811.4" r="3.1"/><circle cx="342.2" cy="746.6" r="4.4"/><circle cx="205.9" cy="543.9" r="3.5"/><circle cx="414.7" cy="531.8" r="4.3"/><circle cx="156.7" cy="750.3" r="4.2"/><circle cx="191.0" cy="564.0" r="2.8"/><circle cx="279.4" cy="801.7" r="3.1"/><circle cx="72.1" cy="614.6" r="2.9"/><circle cx="113.2" cy="659.7" r="2.9"/><circle cx="223.1" cy="546.8" r="4.5"/><circle cx="335.9" cy="735.7" r="3.7"/><circle cx="62.9" cy="617.8" r="3.3"/><circle cx="198.0" cy="513.8" r="4.4"/><circle cx="359.7" cy="675.4" r="4.4"/><circle cx="236.5" cy="800.6" r="3.9"/><circle cx="235.1" cy="808.9" r="2.7"/><circle cx="328.9" cy="713.5" r="3.7"/><circle cx="100.9" cy="634.0" r="4.2"/><circle cx="248.8" cy="506.8" r="3.9"/><circle cx="184.6" cy="577.4" r="4.4"/><circle cx="67.3" cy="649.4" r="2.6"/><circle cx="184.3" cy="576.8" r="2.9"/><circle cx="213.1" cy="805.8" r="2.7"/><circle cx="227.7" cy="530.7" r="3.0"/><circle cx="218.0" cy="524.1" r="2.7"/><circle cx="110.6" cy="697.4" r="3.2"/><circle cx="173.7" cy="556.8" r="2.8"/><circle cx="209.6" cy="518.1" r="3.8"/><circle cx="417.3" cy="605.7" r="3.5"/><circle cx="166.7" cy="762.2" r="3.5"/><circle cx="373.2" cy="736.1" r="2.8"/><circle cx="415.3" cy="617.8" r="2.9"/><circle cx="367.7" cy="651.2" r="3.0"/><circle cx="262.8" cy="796.3" r="3.7"/><circle cx="127.4" cy="608.1" r="3.7"/><circle cx="365.5" cy="493.3" r="2.8"/><circle cx="208.0" cy="783.6" r="3.7"/><circle cx="254.3" cy="521.6" r="4.0"/><circle cx="365.7" cy="626.9" r="4.5"/><circle cx="357.1" cy="672.9" r="4.0"/><circle cx="354.7" cy="455.4" r="3.4"/><circle cx="335.6" cy="763.5" r="3.4"/><circle cx="308.5" cy="463.7" r="4.1"/><circle cx="115.0" cy="646.1" r="4.2"/><circle cx="246.3" cy="798.2" r="4.1"/><circle cx="123.9" cy="713.1" r="3.1"/><circle cx="276.5" cy="816.2" r="2.9"/><circle cx="412.6" cy="578.1" r="4.5"/><circle cx="204.0" cy="544.9" r="4.0"/><circle cx="52.5" cy="607.6" r="4.2"/><circle cx="321.6" cy="447.4" r="3.6"/><circle cx="194.3" cy="791.5" r="3.9"/><circle cx="335.7" cy="757.6" r="4.1"/><circle cx="218.7" cy="790.4" r="4.3"/><circle cx="364.8" cy="466.5" r="3.0"/><circle cx="402.9" cy="564.3" r="2.9"/><circle cx="124.3" cy="730.2" r="3.9"/><circle cx="393.8" cy="596.8" r="3.5"/><circle cx="346.2" cy="754.7" r="3.1"/><circle cx="317.6" cy="644.2" r="4.3"/><circle cx="367.7" cy="474.8" r="3.4"/><circle cx="352.4" cy="679.1" r="3.9"/><circle cx="228.6" cy="796.3" r="4.2"/><circle cx="207.2" cy="524.9" r="3.0"/><circle cx="172.9" cy="588.2" r="2.8"/><circle cx="128.9" cy="604.9" r="3.9"/><circle cx="262.5" cy="487.4" r="4.4"/><circle cx="342.9" cy="717.6" r="3.8"/><circle cx="360.2" cy="463.5" r="2.8"/><circle cx="418.4" cy="600.5" r="2.8"/><circle cx="402.7" cy="558.5" r="3.1"/><circle cx="404.0" cy="684.0" r="3.6"/><circle cx="221.9" cy="785.0" r="4.3"/><circle cx="236.1" cy="533.1" r="3.4"/><circle cx="220.9" cy="782.8" r="3.5"/><circle cx="321.3" cy="744.0" r="2.9"/><circle cx="380.1" cy="667.4" r="4.2"/><circle cx="424.8" cy="591.7" r="4.5"/><circle cx="363.6" cy="663.5" r="4.0"/><circle cx="170.6" cy="764.5" r="4.4"/><circle cx="196.6" cy="806.9" r="4.0"/><circle cx="422.7" cy="593.8" r="3.7"/><circle cx="367.2" cy="477.4" r="4.5"/><circle cx="119.9" cy="635.9" r="2.6"/><circle cx="243.5" cy="782.4" r="4.3"/><circle cx="177.4" cy="536.8" r="3.9"/><circle cx="87.4" cy="618.1" r="3.5"/><circle cx="244.2" cy="524.3" r="3.2"/><circle cx="296.5" cy="772.0" r="3.7"/><circle cx="252.2" cy="790.4" r="3.9"/><circle cx="367.6" cy="739.4" r="4.2"/><circle cx="181.1" cy="765.0" r="3.7"/><circle cx="103.6" cy="632.4" r="4.1"/><circle cx="372.7" cy="701.5" r="4.3"/><circle cx="74.3" cy="623.4" r="2.8"/><circle cx="371.9" cy="721.2" r="2.7"/><circle cx="173.5" cy="562.4" r="3.0"/><circle cx="370.0" cy="488.6" r="4.3"/><circle cx="347.9" cy="643.5" r="4.6"/><circle cx="422.1" cy="559.2" r="3.5"/><circle cx="260.8" cy="798.4" r="3.3"/><circle cx="302.7" cy="750.6" r="4.1"/><circle cx="107.0" cy="658.1" r="4.0"/><circle cx="332.0" cy="712.6" r="3.0"/><circle cx="344.9" cy="652.4" r="4.4"/><circle cx="116.9" cy="730.6" r="3.1"/><circle cx="355.6" cy="756.9" r="2.6"/><circle cx="176.5" cy="766.6" r="3.4"/><circle cx="101.5" cy="635.3" r="3.2"/><circle cx="325.7" cy="722.9" r="4.3"/><circle cx="375.0" cy="519.9" r="3.0"/><circle cx="241.8" cy="806.1" r="4.1"/><circle cx="363.5" cy="666.1" r="4.6"/><circle cx="367.2" cy="718.9" r="3.6"/><circle cx="297.4" cy="782.3" r="4.3"/><circle cx="426.6" cy="552.3" r="2.8"/><circle cx="279.4" cy="795.3" r="2.9"/><circle cx="275.6" cy="781.1" r="3.6"/><circle cx="293.3" cy="782.5" r="3.7"/><circle cx="208.7" cy="513.7" r="3.0"/><circle cx="415.8" cy="592.8" r="2.7"/><circle cx="266.3" cy="475.2" r="4.3"/><circle cx="373.1" cy="507.4" r="4.2"/><circle cx="126.9" cy="743.8" r="3.8"/><circle cx="51.5" cy="623.4" r="3.8"/><circle cx="356.5" cy="678.2" r="3.3"/><circle cx="68.0" cy="616.7" r="3.2"/><circle cx="74.2" cy="648.6" r="3.3"/><circle cx="349.3" cy="663.6" r="4.5"/><circle cx="377.6" cy="633.9" r="3.6"/><circle cx="285.7" cy="459.8" r="3.7"/><circle cx="367.2" cy="770.4" r="4.0"/><circle cx="351.7" cy="788.1" r="4.0"/><circle cx="122.9" cy="612.0" r="3.8"/><circle cx="107.6" cy="688.0" r="3.4"/><circle cx="366.7" cy="743.5" r="3.0"/><circle cx="106.5" cy="638.0" r="3.7"/><circle cx="76.6" cy="626.9" r="2.9"/><circle cx="192.3" cy="790.3" r="4.6"/><circle cx="371.0" cy="662.8" r="3.1"/><circle cx="364.6" cy="639.4" r="4.6"/><circle cx="340.8" cy="684.2" r="2.8"/><circle cx="97.3" cy="616.0" r="4.2"/><circle cx="358.7" cy="486.4" r="3.9"/><circle cx="50.7" cy="611.2" r="4.5"/><circle cx="370.9" cy="718.3" r="2.9"/><circle cx="81.3" cy="635.6" r="3.9"/><circle cx="88.9" cy="637.9" r="3.1"/><circle cx="169.7" cy="755.8" r="3.9"/><circle cx="384.6" cy="596.0" r="3.2"/><circle cx="179.4" cy="563.5" r="3.0"/><circle cx="229.8" cy="790.9" r="3.9"/><circle cx="360.6" cy="770.6" r="3.1"/><circle cx="65.0" cy="646.2" r="4.0"/><circle cx="390.4" cy="568.2" r="4.3"/><circle cx="295.2" cy="784.1" r="4.5"/><circle cx="403.2" cy="687.5" r="3.9"/><circle cx="72.8" cy="601.1" r="2.8"/><circle cx="364.2" cy="747.6" r="2.7"/><circle cx="358.7" cy="756.8" r="3.1"/><circle cx="275.7" cy="477.3" r="4.0"/><circle cx="246.4" cy="795.1" r="4.2"/><circle cx="256.3" cy="501.6" r="3.5"/><circle cx="403.5" cy="545.4" r="2.9"/><circle cx="376.1" cy="634.3" r="2.7"/><circle cx="313.3" cy="745.7" r="3.8"/><circle cx="226.7" cy="807.4" r="3.2"/><circle cx="144.5" cy="584.1" r="4.5"/><circle cx="309.6" cy="744.0" r="4.2"/><circle cx="392.2" cy="553.9" r="3.6"/><circle cx="58.2" cy="647.4" r="4.0"/><circle cx="307.4" cy="737.9" r="4.1"/><circle cx="136.7" cy="596.0" r="4.3"/><circle cx="213.2" cy="787.4" r="3.8"/><circle cx="353.5" cy="724.3" r="3.2"/><circle cx="309.4" cy="451.8" r="3.7"/><circle cx="317.6" cy="789.3" r="4.2"/><circle cx="352.1" cy="649.6" r="3.3"/><circle cx="110.7" cy="692.8" r="3.7"/><circle cx="80.6" cy="620.2" r="3.9"/><circle cx="316.8" cy="454.3" r="2.6"/><circle cx="424.0" cy="559.8" r="3.9"/><circle cx="183.6" cy="539.4" r="4.6"/><circle cx="365.7" cy="677.4" r="3.5"/><circle cx="309.3" cy="451.6" r="3.9"/><circle cx="333.0" cy="718.9" r="3.9"/><circle cx="403.9" cy="612.4" r="3.0"/><circle cx="117.3" cy="655.6" r="3.0"/><circle cx="84.5" cy="650.3" r="2.9"/><circle cx="395.2" cy="677.1" r="4.4"/><circle cx="200.5" cy="533.9" r="3.7"/><circle cx="370.8" cy="693.9" r="3.3"/><circle cx="384.1" cy="559.3" r="3.7"/><circle cx="362.4" cy="700.6" r="2.8"/><circle cx="384.3" cy="596.1" r="3.2"/><circle cx="347.6" cy="714.8" r="4.6"/><circle cx="64.9" cy="612.3" r="4.0"/><circle cx="200.4" cy="795.0" r="3.7"/></g>
<g fill="#b0b0b0" filter="url(#b0_8)"><circle cx="73.4" cy="604.5" r="1.5" fill-opacity="0.57"/><circle cx="73.8" cy="604.4" r="1.3" fill-opacity="0.43"/><circle cx="81.0" cy="609.5" r="1.3" fill-opacity="0.36"/><circle cx="95.2" cy="623.9" r="0.8" fill-opacity="0.46"/><circle cx="128.2" cy="618.8" r="1.5" fill-opacity="0.44"/><circle cx="125.2" cy="600.1" r="1.6" fill-opacity="0.35"/><circle cx="136.1" cy="604.8" r="1.4" fill-opacity="0.29"/><circle cx="141.2" cy="593.7" r="1.0" fill-opacity="0.25"/><circle cx="155.3" cy="590.0" r="0.9" fill-opacity="0.29"/><circle cx="157.0" cy="595.0" r="1.4" fill-opacity="0.45"/><circle cx="176.3" cy="582.9" r="0.9" fill-opacity="0.36"/><circle cx="179.3" cy="573.7" r="1.0" fill-opacity="0.32"/><circle cx="179.7" cy="544.3" r="1.4" fill-opacity="0.36"/><circle cx="185.9" cy="532.4" r="1.1" fill-opacity="0.52"/><circle cx="192.0" cy="528.1" r="0.8" fill-opacity="0.44"/><circle cx="189.7" cy="521.1" r="1.5" fill-opacity="0.50"/><circle cx="196.1" cy="519.6" r="1.3" fill-opacity="0.26"/><circle cx="200.9" cy="520.8" r="1.4" fill-opacity="0.41"/><circle cx="208.1" cy="520.6" r="1.0" fill-opacity="0.56"/><circle cx="225.6" cy="529.2" r="1.4" fill-opacity="0.36"/><circle cx="242.3" cy="534.4" r="1.4" fill-opacity="0.47"/><circle cx="255.7" cy="524.0" r="1.4" fill-opacity="0.59"/><circle cx="260.2" cy="505.8" r="1.5" fill-opacity="0.55"/><circle cx="284.1" cy="454.3" r="1.0" fill-opacity="0.45"/><circle cx="294.3" cy="461.2" r="1.6" fill-opacity="0.28"/><circle cx="335.7" cy="460.2" r="1.1" fill-opacity="0.57"/><circle cx="356.2" cy="462.1" r="0.8" fill-opacity="0.52"/><circle cx="363.8" cy="474.4" r="1.1" fill-opacity="0.53"/><circle cx="374.4" cy="527.3" r="1.5" fill-opacity="0.47"/><circle cx="387.4" cy="533.3" r="1.1" fill-opacity="0.37"/><circle cx="400.7" cy="529.0" r="0.9" fill-opacity="0.32"/><circle cx="408.2" cy="527.2" r="1.1" fill-opacity="0.30"/><circle cx="426.4" cy="561.0" r="0.9" fill-opacity="0.37"/><circle cx="423.1" cy="566.3" r="1.0" fill-opacity="0.54"/><circle cx="418.0" cy="574.7" r="1.1" fill-opacity="0.35"/><circle cx="420.9" cy="594.3" r="0.9" fill-opacity="0.59"/><circle cx="418.0" cy="602.2" r="1.6" fill-opacity="0.48"/><circle cx="405.2" cy="609.0" r="0.8" fill-opacity="0.33"/><circle cx="370.3" cy="621.2" r="0.9" fill-opacity="0.47"/><circle cx="372.0" cy="630.4" r="1.5" fill-opacity="0.40"/><circle cx="362.9" cy="657.2" r="1.5" fill-opacity="0.47"/><circle cx="373.0" cy="667.4" r="1.6" fill-opacity="0.53"/><circle cx="383.6" cy="670.9" r="0.9" fill-opacity="0.52"/><circle cx="390.9" cy="673.1" r="0.8" fill-opacity="0.31"/><circle cx="393.1" cy="680.2" r="0.9" fill-opacity="0.40"/><circle cx="400.4" cy="691.3" r="1.2" fill-opacity="0.57"/><circle cx="387.4" cy="692.6" r="1.6" fill-opacity="0.56"/><circle cx="367.9" cy="717.9" r="1.4" fill-opacity="0.60"/><circle cx="364.5" cy="746.3" r="1.2" fill-opacity="0.35"/><circle cx="363.5" cy="769.6" r="1.0" fill-opacity="0.55"/><circle cx="353.9" cy="770.7" r="1.5" fill-opacity="0.56"/><circle cx="345.8" cy="781.8" r="1.5" fill-opacity="0.34"/><circle cx="314.9" cy="786.8" r="0.8" fill-opacity="0.36"/><circle cx="291.2" cy="771.9" r="1.3" fill-opacity="0.47"/><circle cx="281.6" cy="796.0" r="1.1" fill-opacity="0.35"/><circle cx="278.0" cy="799.0" r="1.5" fill-opacity="0.26"/><circle cx="273.2" cy="808.7" r="1.1" fill-opacity="0.57"/><circle cx="267.7" cy="807.1" r="1.1" fill-opacity="0.34"/><circle cx="261.1" cy="808.4" r="0.8" fill-opacity="0.44"/><circle cx="230.4" cy="808.6" r="0.9" fill-opacity="0.40"/><circle cx="238.2" cy="811.1" r="1.6" fill-opacity="0.50"/><circle cx="234.2" cy="807.9" r="1.4" fill-opacity="0.38"/><circle cx="219.6" cy="801.8" r="1.1" fill-opacity="0.46"/><circle cx="208.7" cy="803.1" r="0.9" fill-opacity="0.44"/><circle cx="206.9" cy="802.0" r="1.5" fill-opacity="0.48"/><circle cx="197.5" cy="803.5" r="1.3" fill-opacity="0.35"/><circle cx="198.3" cy="794.5" r="1.0" fill-opacity="0.47"/><circle cx="190.7" cy="775.1" r="1.0" fill-opacity="0.37"/><circle cx="166.3" cy="754.7" r="1.1" fill-opacity="0.58"/><circle cx="158.3" cy="751.1" r="0.9" fill-opacity="0.45"/><circle cx="127.2" cy="730.6" r="1.3" fill-opacity="0.46"/><circle cx="120.0" cy="676.4" r="1.1" fill-opacity="0.54"/><circle cx="75.3" cy="645.2" r="1.5" fill-opacity="0.38"/><circle cx="70.9" cy="641.6" r="1.5" fill-opacity="0.32"/><circle cx="61.1" cy="643.2" r="1.2" fill-opacity="0.54"/><circle cx="67.6" cy="636.4" r="0.8" fill-opacity="0.32"/></g>
</g>
<path d="M494,414 Q503,428 512,441" stroke="#5a5a5a" stroke-width="1.6" fill="none"/>
<path d="M201,490 q3,-2 5,1 q2,3 -1,4 q-2,2 1,4" stroke="#555" stroke-width="1.8" fill="none"/>
<path d="M452,790 q-2,4 1,6 q3,2 1,6" stroke="#5a5a5a" stroke-width="1.8" fill="none"/>
<path d="M496,880 q3,2 1,5" stroke="#666" stroke-width="2" fill="none"/>
<rect x="0" y="410" width="512" height="481" filter="url(#noise)" opacity="0.16" style="mix-blend-mode:overlay"/>
<rect x="3.9" y="729.4" width="188.5" height="160" fill="#090909"/>
<path d="M3.9,808 H192.4 M96.7,729.4 V888" stroke="#262626" stroke-width="0.9" stroke-dasharray="1.5 1"/>
<circle cx="74.4" cy="816.8" r="0.8" fill="#ddd" fill-opacity="0.38"/><circle cx="66.7" cy="821.3" r="0.9" fill="#ddd" fill-opacity="0.29"/><circle cx="101.5" cy="803.2" r="0.7" fill="#ddd" fill-opacity="0.27"/><circle cx="101.7" cy="807.4" r="0.5" fill="#ddd" fill-opacity="0.37"/><circle cx="95.2" cy="808.2" r="0.7" fill="#ddd" fill-opacity="0.14"/><circle cx="97.0" cy="811.0" r="0.5" fill="#ddd" fill-opacity="0.16"/><circle cx="126.1" cy="794.7" r="0.7" fill="#ddd" fill-opacity="0.30"/><circle cx="136.5" cy="802.4" r="0.7" fill="#ddd" fill-opacity="0.39"/><circle cx="104.5" cy="803.0" r="0.5" fill="#ddd" fill-opacity="0.12"/><circle cx="101.9" cy="810.0" r="0.4" fill="#ddd" fill-opacity="0.30"/><circle cx="92.9" cy="812.2" r="0.6" fill="#ddd" fill-opacity="0.24"/><circle cx="80.7" cy="812.6" r="0.9" fill="#ddd" fill-opacity="0.11"/><circle cx="88.9" cy="814.1" r="0.6" fill="#ddd" fill-opacity="0.27"/><circle cx="100.9" cy="807.0" r="0.5" fill="#ddd" fill-opacity="0.39"/><circle cx="111.3" cy="812.5" r="0.6" fill="#ddd" fill-opacity="0.21"/><circle cx="74.6" cy="812.7" r="0.5" fill="#ddd" fill-opacity="0.32"/><circle cx="97.8" cy="813.0" r="0.4" fill="#ddd" fill-opacity="0.20"/><circle cx="98.1" cy="799.9" r="0.6" fill="#ddd" fill-opacity="0.38"/><circle cx="83.3" cy="811.7" r="0.4" fill="#ddd" fill-opacity="0.14"/><circle cx="100.2" cy="793.9" r="0.5" fill="#ddd" fill-opacity="0.11"/><circle cx="114.7" cy="799.1" r="0.7" fill="#ddd" fill-opacity="0.35"/><circle cx="98.8" cy="806.8" r="0.4" fill="#ddd" fill-opacity="0.37"/><circle cx="114.8" cy="802.7" r="0.8" fill="#ddd" fill-opacity="0.38"/><circle cx="85.1" cy="806.0" r="0.5" fill="#ddd" fill-opacity="0.23"/><circle cx="120.1" cy="800.7" r="0.9" fill="#ddd" fill-opacity="0.36"/><circle cx="116.9" cy="801.6" r="0.6" fill="#ddd" fill-opacity="0.32"/><circle cx="84.8" cy="810.9" r="0.6" fill="#ddd" fill-opacity="0.40"/><circle cx="106.9" cy="805.0" r="0.6" fill="#ddd" fill-opacity="0.20"/><circle cx="108.5" cy="805.7" r="0.6" fill="#ddd" fill-opacity="0.34"/><circle cx="68.1" cy="813.5" r="0.7" fill="#ddd" fill-opacity="0.33"/><circle cx="86.1" cy="812.8" r="0.8" fill="#ddd" fill-opacity="0.31"/><circle cx="111.0" cy="809.9" r="0.7" fill="#ddd" fill-opacity="0.27"/><circle cx="115.9" cy="801.1" r="0.6" fill="#ddd" fill-opacity="0.35"/><circle cx="114.8" cy="794.8" r="0.6" fill="#ddd" fill-opacity="0.29"/><circle cx="87.1" cy="804.8" r="0.8" fill="#ddd" fill-opacity="0.31"/><circle cx="129.9" cy="798.1" r="0.7" fill="#ddd" fill-opacity="0.26"/><circle cx="117.6" cy="806.4" r="0.7" fill="#ddd" fill-opacity="0.32"/><circle cx="89.8" cy="808.3" r="0.8" fill="#ddd" fill-opacity="0.27"/><circle cx="85.2" cy="806.6" r="0.7" fill="#ddd" fill-opacity="0.32"/><circle cx="80.9" cy="815.0" r="0.6" fill="#ddd" fill-opacity="0.30"/><circle cx="107.1" cy="805.7" r="0.6" fill="#ddd" fill-opacity="0.17"/><circle cx="95.5" cy="809.8" r="0.6" fill="#ddd" fill-opacity="0.15"/><circle cx="99.1" cy="804.1" r="0.7" fill="#ddd" fill-opacity="0.28"/><circle cx="100.5" cy="814.4" r="0.4" fill="#ddd" fill-opacity="0.22"/><circle cx="98.0" cy="814.0" r="0.6" fill="#ddd" fill-opacity="0.11"/><circle cx="114.1" cy="800.1" r="0.7" fill="#ddd" fill-opacity="0.20"/><circle cx="58.8" cy="821.6" r="0.8" fill="#ddd" fill-opacity="0.29"/><circle cx="81.0" cy="814.6" r="0.7" fill="#ddd" fill-opacity="0.27"/><circle cx="131.9" cy="791.6" r="0.8" fill="#ddd" fill-opacity="0.10"/><circle cx="91.9" cy="814.1" r="0.7" fill="#ddd" fill-opacity="0.14"/><circle cx="68.9" cy="813.3" r="0.5" fill="#ddd" fill-opacity="0.19"/><circle cx="111.8" cy="803.3" r="0.9" fill="#ddd" fill-opacity="0.37"/><circle cx="85.4" cy="815.6" r="0.6" fill="#ddd" fill-opacity="0.20"/><circle cx="99.2" cy="808.4" r="0.5" fill="#ddd" fill-opacity="0.24"/><circle cx="115.6" cy="799.7" r="0.8" fill="#ddd" fill-opacity="0.35"/><circle cx="106.0" cy="806.8" r="0.5" fill="#ddd" fill-opacity="0.38"/><circle cx="96.0" cy="807.0" r="0.9" fill="#ddd" fill-opacity="0.19"/><circle cx="101.8" cy="802.3" r="0.7" fill="#ddd" fill-opacity="0.28"/><circle cx="94.4" cy="808.3" r="0.7" fill="#ddd" fill-opacity="0.20"/><circle cx="82.6" cy="816.8" r="0.6" fill="#ddd" fill-opacity="0.21"/><circle cx="90.7" cy="810.8" r="0.6" fill="#ddd" fill-opacity="0.37"/><circle cx="103.1" cy="804.2" r="0.4" fill="#ddd" fill-opacity="0.33"/><circle cx="81.3" cy="813.2" r="0.6" fill="#ddd" fill-opacity="0.37"/><circle cx="73.2" cy="817.8" r="0.8" fill="#ddd" fill-opacity="0.16"/><circle cx="95.8" cy="817.1" r="0.7" fill="#ddd" fill-opacity="0.23"/><circle cx="106.6" cy="809.7" r="0.9" fill="#ddd" fill-opacity="0.14"/><circle cx="78.6" cy="811.7" r="0.5" fill="#ddd" fill-opacity="0.28"/><circle cx="97.5" cy="806.7" r="0.5" fill="#ddd" fill-opacity="0.35"/><circle cx="96.7" cy="811.4" r="0.9" fill="#ddd" fill-opacity="0.40"/><circle cx="100.2" cy="805.5" r="0.8" fill="#ddd" fill-opacity="0.17"/>
<circle cx="124" cy="798.5" r="1.2" fill="#ccc"/><circle cx="68" cy="817" r="1" fill="#aaa"/><circle cx="79" cy="821.5" r="1" fill="#999"/>
<ellipse cx="96.7" cy="808" rx="4.6" ry="3.3" fill="none" stroke="#c81e1e" stroke-width="1.8" filter="url(#b0_8)"/>
<circle cx="96.7" cy="808" r="1.7" fill="#fff"/>
<rect x="13.8" y="425" width="53.4" height="33.3" fill="#fff"/>
<text x="39.8" y="451.6" font-size="30" font-weight="bold" text-anchor="middle" font-family='"Liberation Serif", serif' fill="#0a0a0a">C</text>
<text x="11.5" y="485.2" font-size="31" font-weight="bold" font-family='"Liberation Serif", serif' fill="#0a0a0a">P-LFO</text>
<rect x="370.5" y="861" width="117.2" height="12.5" fill="#000"/>
<text x="428" y="857" font-size="30" font-weight="bold" text-anchor="middle" font-family='"Liberation Serif", serif' fill="#000">50 nm</text>
</g>
<g clip-path="url(#clipD)">
<rect x="500" y="400" width="530" height="500" fill="#9a9a9a"/>
<path d="M470.0,405.0 L494.1,370.5 L528.8,374.4 L566.6,393.5 L600.0,405.0 L628.5,405.0 L655.6,405.0 L679.9,405.0 L700.0,405.0 L713.8,402.3 L722.5,397.8 L730.0,396.9 L740.0,405.0 L754.3,426.5 L770.6,457.5 L786.6,491.0 L800.0,520.0 L809.8,542.9 L817.5,563.4 L823.9,582.2 L830.0,600.0 L836.0,616.9 L841.4,632.7 L846.1,647.1 L850.0,660.0 L853.9,671.7 L857.5,682.2 L859.4,690.9 L858.0,697.0 L851.4,699.1 L841.0,698.0 L830.0,696.4 L822.0,697.0 L818.3,700.9 L817.0,706.4 L816.3,712.5 L814.5,718.0 L811.1,722.7 L807.0,727.2 L802.7,731.3 L799.0,735.0 L796.0,737.8 L793.3,739.9 L790.7,742.0 L788.0,745.0 L784.9,749.2 L781.7,754.1 L778.6,759.2 L776.0,764.0 L774.1,768.2 L772.6,772.2 L771.3,776.1 L770.0,780.0 L768.8,784.1 L767.8,788.4 L766.6,792.4 L765.0,796.0 L763.0,798.9 L760.6,801.4 L758.0,803.6 L755.0,806.0 L751.6,808.5 L747.8,811.1 L743.9,813.6 L740.0,816.0 L736.2,818.2 L732.5,820.3 L728.8,822.3 L725.0,824.0 L721.5,825.5 L718.2,826.8 L714.5,828.0 L710.0,829.0 L704.2,829.8 L697.6,830.4 L690.7,830.9 L684.0,831.5 L677.6,832.1 L671.1,832.6 L664.9,833.2 L659.0,834.0 L653.5,835.0 L648.4,836.2 L643.5,837.5 L639.0,839.0 L634.8,840.8 L630.9,842.8 L627.3,844.8 L624.0,846.6 L621.0,847.9 L618.4,848.9 L616.0,850.1 L614.0,851.6 L612.3,853.6 L611.0,856.0 L610.0,858.7 L609.0,861.7 L608.2,865.1 L607.5,868.7 L606.9,872.7 L606.3,876.8 L608.7,881.6 L613.2,886.8 L613.6,891.7 L603.7,895.0 L576.4,907.8 L536.7,926.8 L497.1,929.9 L470.0,895.0 L457.6,795.5 L453.5,650.0 L457.7,504.5 Z" fill="#151515" filter="url(#b1_5)"/>
<path d="M495.0,400.0 L567.6,376.6 L667.4,382.1 L740.0,400.0 L759.1,433.2 L751.1,478.8 L740.0,512.0 L732.8,520.3 L722.6,516.1 L713.0,512.0 L706.3,512.1 L700.2,512.4 L692.0,513.0 L680.1,514.1 L666.2,515.6 L652.0,517.0 L637.7,518.1 L623.2,519.2 L610.0,521.0 L599.0,523.3 L589.4,526.2 L580.0,531.0 L570.2,538.3 L560.7,547.4 L552.0,558.0 L544.6,570.3 L538.1,584.0 L532.0,598.0 L526.2,612.7 L520.8,627.6 L515.0,640.0 L507.8,658.7 L500.3,674.9 L495.0,660.0 L484.4,584.4 L476.1,477.8 Z" fill="#444444" filter="url(#b12)"/>
<path d="M495,400 L740,400 L740,470 L495,470 Z" fill="#4c4c4c" filter="url(#b8)"/>
<path d="M505,470 L552,492 L548,530 L538,565 L525,600 L512,650 L505,650 Z" fill="#383838" filter="url(#b8)"/>
<path d="M552,528 Q548,505 556,487 Q580,490 610,485 Q650,478 690,472 L715,468" stroke="#8a8a8a" stroke-width="8" fill="none" filter="url(#b5)"/>
<path d="M548,524 L550,500 L558,486 L570,490 L566,512 L556,530 Z" fill="#a8a8a8" filter="url(#b3)"/>
<path d="M665,478 Q690,468 715,462 L715,484 Q690,488 665,484 Z" fill="#9a9a9a" filter="url(#b5)"/>
<ellipse cx="610" cy="700" rx="80" ry="100" fill="#0e0e0e" filter="url(#b25)"/>
<ellipse cx="640" cy="548" rx="120" ry="40" fill="#2a2a2a" filter="url(#b18)"/>
<ellipse cx="715" cy="795" rx="35" ry="16" fill="#3c3c3c" filter="url(#b8)"/>
<ellipse cx="690" cy="745" rx="30" ry="20" fill="#262626" filter="url(#b12)"/>
<path d="M822.0,697.0 L829.8,695.1 L840.4,694.5 L850.9,695.2 L858.4,697.2 L861.7,701.1 L862.6,706.6 L862.3,712.7 L862.2,718.2 L862.6,722.9 L862.8,727.3 L862.7,731.5 L862.2,735.4 L861.3,739.1 L860.1,742.5 L858.5,745.7 L856.5,748.7 L854.0,751.4 L851.1,753.9 L848.0,756.1 L845.0,758.3 L842.2,760.3 L839.5,762.2 L836.7,764.0 L833.6,765.9 L830.0,767.9 L826.2,770.1 L822.2,772.0 L818.3,773.5 L814.5,774.5 L810.6,775.2 L806.8,775.5 L803.1,775.4 L799.5,774.8 L796.0,773.7 L792.7,772.5 L789.7,771.6 L786.9,771.1 L784.4,770.8 L782.1,770.4 L780.2,769.7 L778.4,768.9 L776.8,767.9 L775.8,766.4 L776.0,764.0 L777.9,760.0 L781.0,754.8 L784.7,749.4 L788.0,745.0 L790.7,742.0 L793.3,739.9 L796.0,737.8 L799.0,735.0 L802.7,731.3 L807.0,727.2 L811.1,722.7 L814.5,718.0 L816.3,712.5 L816.9,706.4 L818.3,700.9 Z" fill="#6e6e6e" filter="url(#b1_5)"/>
<path d="M830,700 Q845,730 830,755 Q810,768 795,765" stroke="#8a8a8a" stroke-width="8" fill="none" filter="url(#b5)"/>
<path d="M776,768 Q770,790 755,806 Q740,816 725,824 Q700,831 660,834 Q635,840 618,852 Q610,865 606,887" stroke="#d0d0d0" stroke-width="1.4" fill="none" filter="url(#b0_8)"/>
<path d="M776,766 Q790,772 803,775 Q830,770 856,749 Q864,730 861,700" stroke="#b8b8b8" stroke-width="1.2" fill="none" filter="url(#b0_8)"/>
<rect x="505" y="405" width="520" height="490" filter="url(#noise)" opacity="0.24" style="mix-blend-mode:overlay"/>
<rect x="675.5" y="804" width="63" height="34" fill="none" stroke="#e02424" stroke-width="3"/>
<rect x="520.7" y="422.7" width="50" height="31.1" fill="#fff"/>
<text x="545.3" y="449.3" font-size="30" font-weight="bold" text-anchor="middle" font-family='"Liberation Serif", serif' fill="#0a0a0a">D</text>
<text x="514" y="483.7" font-size="31.5" font-weight="bold" font-family='"Liberation Serif", serif' fill="#0a0a0a">9T/P-LFO</text>
<rect x="876.9" y="859.2" width="112.3" height="12.6" fill="#000"/>
<text x="935.8" y="854" font-size="30" font-weight="bold" text-anchor="middle" font-family='"Liberation Serif", serif' fill="#000">50 nm</text>
<g clip-path="url(#clipI)">
<rect x="700" y="400" width="330" height="300" fill="#6a6a6a"/>
<ellipse cx="750" cy="440" rx="55" ry="40" fill="#474747" filter="url(#b12)"/>
<ellipse cx="870" cy="425" rx="110" ry="25" fill="#454545" filter="url(#b12)"/>
<ellipse cx="860" cy="490" rx="90" ry="45" fill="#404040" filter="url(#b12)"/>
<ellipse cx="845" cy="520" rx="40" ry="22" fill="#363636" filter="url(#b8)"/>
<ellipse cx="1005" cy="440" rx="25" ry="40" fill="#646464" filter="url(#b12)"/>
<ellipse cx="975" cy="515" rx="45" ry="38" fill="#828282" filter="url(#b12)"/>
<ellipse cx="905" cy="575" rx="60" ry="35" fill="#8c8c8c" filter="url(#b12)"/>
<ellipse cx="880" cy="548" rx="30" ry="14" fill="#7a7a7a" filter="url(#b8)"/>
<ellipse cx="990" cy="615" rx="35" ry="60" fill="#727272" filter="url(#b12)"/>
<ellipse cx="805" cy="598" rx="50" ry="32" fill="#707070" filter="url(#b12)"/>
<ellipse cx="740" cy="560" rx="32" ry="65" fill="#6e6e6e" filter="url(#b12)"/>
<mask id="mFrA" maskUnits="userSpaceOnUse" x="690" y="390" width="200" height="260"><path d="M700,400 L820,400 L805,470 L785,540 L765,600 L700,625 Z" fill="#fff" filter="url(#b8)"/></mask>
<rect x="700" y="400" width="140" height="240" fill="url(#fringeA)" mask="url(#mFrA)"/>
<mask id="mFrB" maskUnits="userSpaceOnUse" x="740" y="550" width="140" height="100"><ellipse cx="808" cy="597" rx="46" ry="30" fill="#fff" filter="url(#b5)"/></mask>
<rect x="740" y="550" width="140" height="100" fill="url(#fringeB)" mask="url(#mFrB)"/>
<rect x="740" y="550" width="140" height="100" fill="url(#fringeC)" mask="url(#mFrB)"/>
<path d="M700,626 Q730,620 760,628 Q800,634 840,630 Q880,624 920,618 Q936,628 942,648 Q950,672 972,686 Q1000,694 1022,688 L1022,700 L700,700 Z" fill="#c6c6c6" filter="url(#b3)"/>
<ellipse cx="796" cy="650" rx="17" ry="12" fill="#8e8e8e" filter="url(#b3)"/>
<ellipse cx="840" cy="660" rx="16" ry="10" fill="#a6a6a6" filter="url(#b3)"/>
<ellipse cx="876" cy="638" rx="15" ry="11" fill="#8a8a8a" filter="url(#b3)"/>
<ellipse cx="917" cy="622" rx="14" ry="10" fill="#828282" filter="url(#b3)"/>
<ellipse cx="752" cy="645" rx="12" ry="8" fill="#b0b0b0" filter="url(#b3)"/>
<ellipse cx="986" cy="625" rx="44" ry="52" fill="#767676" filter="url(#b3)"/>
<ellipse cx="1000" cy="575" rx="22" ry="25" fill="#6c6c6c" filter="url(#b5)"/>
<ellipse cx="975" cy="640" rx="20" ry="18" fill="#6a6a6a" filter="url(#b5)"/>
<rect x="700" y="400" width="330" height="300" filter="url(#noise)" opacity="0.22" style="mix-blend-mode:overlay"/>
<text x="782.0" y="449.6" font-size="18.5" font-weight="bold" font-family='"Liberation Serif", serif' fill="#f2f2f2">LFO</text>
<text x="835.0" y="449.6" font-size="18.5" font-weight="bold" font-family='"Liberation Serif", serif' fill="#f2f2f2">d=0.28 nm</text>
<text x="834.8" y="563.8" font-size="18.5" font-weight="bold" font-family='"Liberation Serif", serif' fill="#f2f2f2">T</text>
<text x="862.3" y="563.8" font-size="18.5" font-weight="bold" font-family='"Liberation Serif", serif' fill="#f2f2f2">d=0.35 nm</text>
<path d="M722.1,461.6 L775.8,485.6 M720.4,465.3 L772.4,488.4" stroke="#fff" stroke-width="1.6" stroke-linecap="round"/>
<path d="M749.0,469.5 L755.9,459.5 L752.1,459.5 L752.1,449.5 L745.9,449.5 L745.9,459.5 L742.1,459.5 Z" fill="none" stroke="#fff" stroke-width="1.4" stroke-linejoin="miter"/>
<path d="M746.7,481.0 L739.8,491.0 L743.6,491.0 L743.6,501.0 L749.8,501.0 L749.8,491.0 L753.6,491.0 Z" fill="none" stroke="#fff" stroke-width="1.4" stroke-linejoin="miter"/>
<path d="M805,566.8 L815.2,617 M810.4,566.8 L820.7,617" stroke="#fff" stroke-width="1.6"/>
<path d="M807.5,594.3 L794.5,587.8 L794.5,591.5 L780.5,591.5 L780.5,597.1 L794.5,597.1 L794.5,600.8 Z" fill="none" stroke="#fff" stroke-width="1.4" stroke-linejoin="miter"/>
<path d="M817.5,594.3 L829.0,600.8 L829.0,597.1 L844.5,597.1 L844.5,591.5 L829.0,591.5 L829.0,587.8 Z" fill="none" stroke="#fff" stroke-width="1.4" stroke-linejoin="miter"/>
<text x="938.5" y="686" font-size="26" font-weight="bold" font-family='"Liberation Serif", serif' fill="#000" textLength="60" lengthAdjust="spacingAndGlyphs">5 nm</text>
<rect x="938.8" y="689.1" width="61.4" height="4.8" fill="#000"/>
</g>
</g>
</svg>
<svg width="1024" height="891" viewBox="0 0 1024 891" style="position:absolute;left:0;top:0;will-change:transform;filter:blur(0.3px)">
<defs>
<clipPath id="clipA"><rect x="31.8" y="9" width="466.7" height="340.2"/></clipPath>
<clipPath id="clipB"><rect x="579.6" y="15.8" width="422.6" height="338.5"/></clipPath>
</defs>
<g clip-path="url(#clipA)" fill="none" stroke-width="1.9" stroke-linejoin="round">
<path stroke="#000000" d="M31.8,326.5 L32.5,327.1 L33.1,326.8 L33.8,327.2 L34.5,327.2 L35.1,326.2 L35.8,326.1 L36.5,327.6 L37.1,326.6 L37.8,326.5 L38.5,327.9 L39.1,326.9 L39.8,327.6 L40.5,326.9 L41.1,327.2 L41.8,326.4 L42.5,327.2 L43.1,327.7 L43.8,327.0 L44.5,327.4 L45.1,327.3 L45.8,326.2 L46.5,327.5 L47.1,327.2 L47.8,326.6 L48.5,326.1 L49.1,327.6 L49.8,326.9 L50.5,327.4 L51.1,327.7 L51.8,327.4 L52.5,327.7 L53.1,326.8 L53.8,327.5 L54.5,326.9 L55.1,327.8 L55.8,327.7 L56.5,326.3 L57.1,326.3 L57.8,326.5 L58.5,327.8 L59.1,326.9 L59.8,327.2 L60.5,326.6 L61.1,327.0 L61.8,326.8 L62.5,326.7 L63.1,327.1 L63.8,327.1 L64.5,327.7 L65.1,327.3 L65.8,327.7 L66.5,327.6 L67.1,327.9 L67.8,327.3 L68.5,326.4 L69.1,327.6 L69.8,327.8 L70.5,327.7 L71.1,327.1 L71.8,327.3 L72.5,326.4 L73.1,327.5 L73.8,327.0 L74.5,326.5 L75.1,326.1 L75.8,327.4 L76.5,327.5 L77.1,325.6 L77.8,326.4 L78.5,324.9 L79.1,323.7 L79.8,323.6 L80.5,324.8 L81.1,325.8 L81.8,325.0 L82.5,326.6 L83.1,325.8 L83.8,327.2 L84.5,326.5 L85.1,327.6 L85.8,327.8 L86.5,326.9 L87.1,327.8 L87.8,326.6 L88.5,326.2 L89.1,327.1 L89.8,326.1 L90.5,326.4 L91.1,326.8 L91.8,327.1 L92.5,326.3 L93.1,326.1 L93.8,327.6 L94.5,326.6 L95.1,327.8 L95.8,327.7 L96.5,326.7 L97.1,326.9 L97.8,327.0 L98.5,327.2 L99.1,327.1 L99.8,327.0 L100.5,327.1 L101.1,327.7 L101.8,326.9 L102.5,326.8 L103.1,327.3 L103.8,326.4 L104.5,326.5 L105.1,327.7 L105.8,326.9 L106.5,326.9 L107.1,325.9 L107.8,326.6 L108.5,326.9 L109.1,325.8 L109.8,326.8 L110.5,326.8 L111.1,325.6 L111.8,326.5 L112.5,326.0 L113.1,325.8 L113.8,323.9 L114.5,321.0 L115.1,313.6 L115.8,302.2 L116.5,296.7 L117.1,303.4 L117.8,314.0 L118.5,320.2 L119.1,324.1 L119.8,325.7 L120.5,325.7 L121.1,326.0 L121.8,326.1 L122.5,326.3 L123.1,326.8 L123.8,326.3 L124.5,326.5 L125.1,327.2 L125.8,325.9 L126.5,326.9 L127.1,327.2 L127.8,326.5 L128.5,326.3 L129.1,327.4 L129.8,326.3 L130.5,326.2 L131.1,326.6 L131.8,326.9 L132.5,325.6 L133.1,325.5 L133.8,324.9 L134.5,325.5 L135.1,325.1 L135.8,326.4 L136.5,325.7 L137.1,326.3 L137.8,327.0 L138.5,327.5 L139.1,326.8 L139.8,326.4 L140.5,326.2 L141.1,327.0 L141.8,326.4 L142.5,327.5 L143.1,327.5 L143.8,326.4 L144.5,326.5 L145.1,327.5 L145.8,327.2 L146.5,327.5 L147.1,326.7 L147.8,326.3 L148.5,326.6 L149.1,327.5 L149.8,326.5 L150.5,326.7 L151.1,326.8 L151.8,326.8 L152.5,326.8 L153.1,327.7 L153.8,326.3 L154.5,326.0 L155.1,327.7 L155.8,327.6 L156.5,327.8 L157.1,326.8 L157.8,327.7 L158.5,327.7 L159.1,326.4 L159.8,327.3 L160.5,327.5 L161.1,327.2 L161.8,326.9 L162.5,326.5 L163.1,326.6 L163.8,326.3 L164.5,326.0 L165.1,327.0 L165.8,326.4 L166.5,327.3 L167.1,325.9 L167.8,327.4 L168.5,327.0 L169.1,327.4 L169.8,327.3 L170.5,327.3 L171.1,326.6 L171.8,325.5 L172.5,326.7 L173.1,325.6 L173.8,325.6 L174.5,326.0 L175.1,325.4 L175.8,324.6 L176.5,324.2 L177.1,320.3 L177.8,311.5 L178.5,295.5 L179.1,276.4 L179.8,264.9 L180.5,276.2 L181.1,295.7 L181.8,311.3 L182.5,320.2 L183.1,324.0 L183.8,324.1 L184.5,325.9 L185.1,326.5 L185.8,326.5 L186.5,326.7 L187.1,325.4 L187.8,326.6 L188.5,327.1 L189.1,325.7 L189.8,326.2 L190.5,326.2 L191.1,326.7 L191.8,326.6 L192.5,326.7 L193.1,327.3 L193.8,325.9 L194.5,326.0 L195.1,326.1 L195.8,326.1 L196.5,326.1 L197.1,327.7 L197.8,327.5 L198.5,326.1 L199.1,326.9 L199.8,326.5 L200.5,326.5 L201.1,326.6 L201.8,327.1 L202.5,327.0 L203.1,326.6 L203.8,326.3 L204.5,326.6 L205.1,326.2 L205.8,327.0 L206.5,327.3 L207.1,326.7 L207.8,326.1 L208.5,326.3 L209.1,326.7 L209.8,327.1 L210.5,327.4 L211.1,326.7 L211.8,327.4 L212.5,327.1 L213.1,326.8 L213.8,326.7 L214.5,326.9 L215.1,327.2 L215.8,326.7 L216.5,327.2 L217.1,326.8 L217.8,326.4 L218.5,326.9 L219.1,327.2 L219.8,326.0 L220.5,326.6 L221.1,326.6 L221.8,327.4 L222.5,327.4 L223.1,326.3 L223.8,327.2 L224.5,326.9 L225.1,325.8 L225.8,325.8 L226.5,324.6 L227.1,324.1 L227.8,320.0 L228.5,313.6 L229.1,305.2 L229.8,300.8 L230.5,305.1 L231.1,313.0 L231.8,319.0 L232.5,323.7 L233.1,324.3 L233.8,325.2 L234.5,326.7 L235.1,325.5 L235.8,325.7 L236.5,325.8 L237.1,327.3 L237.8,326.1 L238.5,325.9 L239.1,327.4 L239.8,326.1 L240.5,327.4 L241.1,327.1 L241.8,327.4 L242.5,327.6 L243.1,327.0 L243.8,327.4 L244.5,326.0 L245.1,327.3 L245.8,326.9 L246.5,327.3 L247.1,326.2 L247.8,327.3 L248.5,327.7 L249.1,326.1 L249.8,326.6 L250.5,327.0 L251.1,327.5 L251.8,326.4 L252.5,326.3 L253.1,326.4 L253.8,327.1 L254.5,327.3 L255.1,326.7 L255.8,326.6 L256.5,326.7 L257.1,326.6 L257.8,326.7 L258.5,326.1 L259.1,326.8 L259.8,327.6 L260.5,326.6 L261.1,327.2 L261.8,326.1 L262.5,327.0 L263.1,327.1 L263.8,326.9 L264.5,326.6 L265.2,326.4 L265.8,326.6 L266.5,327.0 L267.2,325.5 L267.8,325.2 L268.5,326.0 L269.2,325.8 L269.8,323.9 L270.5,320.8 L271.2,314.5 L271.8,301.5 L272.5,287.0 L273.2,279.4 L273.8,287.6 L274.5,301.7 L275.2,313.7 L275.8,321.3 L276.5,324.7 L277.2,324.7 L277.8,326.0 L278.5,325.7 L279.2,326.8 L279.8,326.4 L280.5,326.0 L281.2,326.0 L281.8,325.7 L282.5,326.6 L283.2,326.4 L283.8,326.1 L284.5,326.5 L285.2,326.4 L285.8,327.3 L286.5,326.1 L287.2,327.7 L287.8,326.8 L288.5,327.0 L289.2,326.8 L289.8,327.4 L290.5,327.4 L291.2,327.0 L291.8,326.8 L292.5,327.3 L293.2,327.5 L293.8,326.7 L294.5,327.3 L295.2,327.7 L295.8,326.8 L296.5,326.4 L297.2,326.4 L297.8,327.3 L298.5,327.2 L299.2,327.7 L299.8,327.5 L300.5,326.4 L301.2,326.3 L301.8,326.4 L302.5,326.3 L303.2,327.2 L303.8,327.5 L304.5,327.5 L305.2,326.3 L305.8,327.4 L306.5,326.3 L307.2,326.5 L307.8,326.9 L308.5,325.6 L309.2,325.1 L309.8,325.5 L310.5,322.7 L311.2,320.4 L311.8,318.2 L312.5,317.2 L313.2,317.2 L313.8,320.3 L314.5,323.0 L315.2,324.8 L315.8,325.3 L316.5,326.4 L317.2,327.3 L317.8,326.4 L318.5,326.8 L319.2,326.0 L319.8,326.3 L320.5,327.1 L321.2,326.1 L321.8,327.5 L322.5,327.5 L323.2,326.1 L323.8,327.6 L324.5,326.6 L325.2,327.3 L325.8,327.3 L326.5,326.5 L327.2,327.1 L327.8,327.1 L328.5,327.4 L329.2,326.4 L329.8,327.3 L330.5,327.6 L331.2,327.1 L331.8,326.8 L332.5,326.1 L333.2,326.7 L333.8,326.5 L334.5,327.1 L335.2,327.0 L335.8,326.8 L336.5,326.0 L337.2,326.8 L337.8,326.8 L338.5,325.9 L339.2,327.1 L339.8,326.6 L340.5,325.5 L341.2,326.8 L341.8,325.1 L342.5,325.2 L343.2,325.4 L343.8,324.3 L344.5,322.1 L345.2,317.7 L345.8,308.7 L346.5,295.6 L347.2,281.8 L347.8,275.2 L348.5,282.8 L349.2,296.4 L349.8,308.9 L350.5,317.9 L351.2,321.7 L351.8,323.7 L352.5,324.8 L353.2,326.2 L353.8,325.0 L354.5,326.0 L355.2,325.7 L355.8,326.8 L356.5,326.1 L357.2,326.2 L357.8,326.4 L358.5,326.7 L359.2,327.1 L359.8,326.4 L360.5,327.3 L361.2,326.0 L361.8,326.3 L362.5,326.0 L363.2,326.1 L363.8,327.3 L364.5,327.2 L365.2,326.3 L365.8,326.3 L366.5,326.7 L367.2,327.3 L367.8,327.4 L368.5,327.3 L369.2,327.0 L369.8,326.2 L370.5,326.7 L371.2,326.3 L371.8,326.9 L372.5,327.0 L373.2,326.4 L373.8,326.5 L374.5,327.4 L375.2,326.1 L375.8,327.5 L376.5,327.6 L377.2,327.7 L377.8,326.7 L378.5,327.0 L379.2,327.1 L379.8,327.2 L380.5,327.8 L381.2,327.3 L381.8,326.6 L382.5,327.6 L383.2,326.9 L383.8,327.1 L384.5,327.3 L385.2,326.0 L385.8,327.4 L386.5,327.2 L387.2,326.9 L387.8,327.0 L388.5,326.9 L389.2,326.4 L389.8,327.0 L390.5,326.1 L391.2,326.9 L391.8,327.2 L392.5,326.8 L393.2,327.0 L393.8,327.7 L394.5,327.6 L395.2,326.3 L395.8,327.4 L396.5,327.1 L397.2,326.1 L397.8,326.6 L398.5,326.4 L399.2,326.1 L399.8,326.9 L400.5,327.6 L401.2,326.5 L401.8,327.5 L402.5,327.2 L403.2,326.2 L403.8,327.4 L404.5,327.0 L405.2,327.5 L405.8,327.1 L406.5,327.1 L407.2,326.3 L407.8,327.1 L408.5,327.2 L409.2,327.0 L409.8,325.9 L410.5,326.0 L411.2,324.4 L411.8,321.8 L412.5,318.6 L413.2,314.7 L413.8,311.1 L414.5,309.4 L415.2,311.6 L415.8,315.8 L416.5,319.5 L417.2,322.4 L417.8,324.7 L418.5,325.2 L419.2,326.0 L419.8,326.8 L420.5,326.3 L421.2,326.0 L421.8,327.3 L422.5,327.1 L423.2,326.5 L423.8,326.5 L424.5,326.8 L425.2,327.0 L425.8,326.3 L426.5,325.9 L427.2,326.3 L427.8,327.4 L428.5,326.2 L429.2,326.8 L429.8,326.3 L430.5,326.3 L431.2,326.3 L431.8,326.7 L432.5,326.3 L433.2,326.0 L433.8,326.2 L434.5,326.3 L435.2,326.8 L435.8,326.1 L436.5,326.0 L437.2,326.7 L437.8,326.7 L438.5,327.2 L439.2,326.0 L439.8,326.5 L440.5,326.5 L441.2,325.7 L441.8,327.1 L442.5,325.5 L443.2,324.8 L443.8,324.9 L444.5,323.7 L445.2,323.9 L445.8,322.9 L446.5,322.3 L447.2,322.3 L447.8,324.1 L448.5,323.9 L449.2,325.5 L449.8,325.5 L450.5,326.8 L451.2,325.9 L451.8,326.1 L452.5,326.2 L453.2,327.3 L453.8,327.0 L454.5,326.5 L455.2,326.1 L455.8,327.2 L456.5,327.7 L457.2,327.0 L457.8,326.0 L458.5,326.0 L459.2,326.1 L459.8,326.3 L460.5,326.0 L461.2,326.1 L461.8,327.1 L462.5,327.6 L463.2,326.3 L463.8,327.7 L464.5,326.8 L465.2,327.4 L465.8,327.5 L466.5,327.6 L467.2,325.9 L467.8,326.4 L468.5,326.9 L469.2,327.4 L469.8,325.8 L470.5,326.1 L471.2,326.9 L471.8,325.3 L472.5,325.2 L473.2,324.1 L473.8,322.9 L474.5,320.7 L475.2,316.3 L475.8,314.6 L476.5,313.4 L477.2,314.7 L477.8,317.0 L478.5,320.7 L479.2,322.3 L479.8,324.2 L480.5,324.9 L481.2,326.5 L481.8,326.3 L482.5,326.1 L483.2,326.0 L483.8,327.0 L484.5,326.9 L485.2,327.1 L485.8,326.6 L486.5,326.8 L487.2,326.2 L487.8,327.2 L488.5,326.0 L489.2,326.8 L489.8,327.3 L490.5,327.2 L491.2,326.2 L491.8,326.4 L492.5,327.5 L493.2,327.2 L493.8,327.6 L494.5,327.6 L495.2,326.8 L495.8,327.7 L496.5,327.4 L497.2,326.6 L497.8,326.7 L498.5,326.2"/>
<path stroke="#e81010" d="M31.8,282.2 L32.5,282.0 L33.1,282.5 L33.8,282.1 L34.5,281.9 L35.1,282.5 L35.8,283.4 L36.5,283.2 L37.1,283.2 L37.8,282.2 L38.5,282.8 L39.1,282.3 L39.8,282.1 L40.5,282.0 L41.1,282.2 L41.8,283.5 L42.5,283.3 L43.1,283.2 L43.8,283.2 L44.5,282.1 L45.1,282.3 L45.8,282.9 L46.5,283.1 L47.1,283.3 L47.8,283.4 L48.5,281.9 L49.1,282.9 L49.8,283.0 L50.5,282.7 L51.1,282.1 L51.8,282.6 L52.5,282.0 L53.1,283.5 L53.8,283.3 L54.5,282.8 L55.1,282.3 L55.8,283.4 L56.5,282.8 L57.1,283.4 L57.8,283.3 L58.5,282.7 L59.1,282.5 L59.8,282.9 L60.5,282.6 L61.1,282.1 L61.8,282.3 L62.5,283.3 L63.1,281.9 L63.8,281.9 L64.5,282.9 L65.1,282.3 L65.8,282.7 L66.5,282.6 L67.1,282.4 L67.8,283.6 L68.5,282.1 L69.1,282.5 L69.8,282.1 L70.5,282.9 L71.1,282.3 L71.8,282.4 L72.5,283.1 L73.1,282.4 L73.8,282.8 L74.5,283.4 L75.1,282.0 L75.8,281.9 L76.5,282.2 L77.1,283.2 L77.8,282.9 L78.5,282.2 L79.1,282.4 L79.8,282.1 L80.5,282.6 L81.1,281.9 L81.8,283.0 L82.5,283.4 L83.1,283.5 L83.8,283.1 L84.5,283.5 L85.1,281.8 L85.8,282.3 L86.5,283.5 L87.1,283.2 L87.8,282.5 L88.5,283.5 L89.1,282.9 L89.8,283.2 L90.5,282.3 L91.1,282.1 L91.8,282.6 L92.5,282.0 L93.1,282.5 L93.8,283.5 L94.5,282.4 L95.1,281.8 L95.8,281.8 L96.5,282.1 L97.1,283.2 L97.8,282.4 L98.5,282.3 L99.1,281.9 L99.8,283.5 L100.5,282.5 L101.1,282.1 L101.8,281.8 L102.5,281.8 L103.1,282.0 L103.8,282.9 L104.5,282.0 L105.1,281.8 L105.8,282.6 L106.5,282.1 L107.1,283.5 L107.8,281.9 L108.5,282.6 L109.1,283.0 L109.8,282.3 L110.5,283.3 L111.1,282.4 L111.8,281.9 L112.5,282.1 L113.1,281.2 L113.8,281.3 L114.5,279.5 L115.1,277.5 L115.8,273.1 L116.5,270.1 L117.1,271.6 L117.8,276.3 L118.5,279.4 L119.1,280.9 L119.8,281.5 L120.5,282.8 L121.1,281.6 L121.8,281.5 L122.5,283.1 L123.1,282.4 L123.8,283.1 L124.5,282.0 L125.1,282.8 L125.8,282.3 L126.5,282.4 L127.1,282.0 L127.8,281.3 L128.5,280.3 L129.1,280.1 L129.8,280.8 L130.5,280.4 L131.1,280.0 L131.8,278.5 L132.5,278.7 L133.1,278.8 L133.8,278.4 L134.5,278.8 L135.1,278.5 L135.8,279.1 L136.5,279.6 L137.1,279.3 L137.8,280.9 L138.5,281.4 L139.1,280.2 L139.8,282.2 L140.5,282.5 L141.1,282.2 L141.8,281.2 L142.5,282.9 L143.1,281.6 L143.8,283.2 L144.5,282.7 L145.1,281.7 L145.8,281.9 L146.5,282.7 L147.1,282.6 L147.8,283.0 L148.5,283.3 L149.1,282.0 L149.8,281.6 L150.5,283.3 L151.1,281.7 L151.8,283.2 L152.5,281.9 L153.1,283.1 L153.8,283.1 L154.5,283.2 L155.1,282.6 L155.8,283.2 L156.5,282.0 L157.1,282.9 L157.8,282.2 L158.5,283.2 L159.1,283.0 L159.8,282.5 L160.5,282.6 L161.1,281.7 L161.8,281.7 L162.5,282.7 L163.1,282.5 L163.8,283.1 L164.5,282.6 L165.1,281.8 L165.8,282.2 L166.5,282.9 L167.1,282.4 L167.8,281.4 L168.5,282.9 L169.1,282.8 L169.8,281.4 L170.5,282.2 L171.1,281.8 L171.8,282.4 L172.5,281.4 L173.1,281.1 L173.8,281.3 L174.5,281.8 L175.1,279.7 L175.8,279.0 L176.5,278.2 L177.1,274.2 L177.8,262.4 L178.5,241.1 L179.1,214.7 L179.8,200.2 L180.5,213.3 L181.1,241.9 L181.8,261.9 L182.5,273.1 L183.1,278.6 L183.8,279.5 L184.5,281.0 L185.1,280.4 L185.8,282.0 L186.5,281.0 L187.1,281.1 L187.8,281.9 L188.5,281.7 L189.1,282.2 L189.8,282.9 L190.5,282.6 L191.1,281.4 L191.8,282.0 L192.5,282.4 L193.1,282.4 L193.8,282.8 L194.5,282.4 L195.1,281.7 L195.8,282.0 L196.5,283.1 L197.1,282.2 L197.8,283.0 L198.5,283.4 L199.1,282.8 L199.8,282.9 L200.5,282.8 L201.1,282.2 L201.8,283.3 L202.5,282.5 L203.1,283.3 L203.8,282.2 L204.5,283.2 L205.1,283.1 L205.8,282.8 L206.5,282.5 L207.1,282.0 L207.8,283.1 L208.5,282.4 L209.1,282.9 L209.8,281.9 L210.5,281.9 L211.1,282.0 L211.8,283.2 L212.5,282.0 L213.1,283.3 L213.8,282.4 L214.5,282.7 L215.1,282.3 L215.8,282.8 L216.5,281.9 L217.1,282.4 L217.8,283.4 L218.5,282.0 L219.1,282.8 L219.8,282.2 L220.5,282.2 L221.1,281.7 L221.8,281.6 L222.5,283.3 L223.1,283.0 L223.8,282.9 L224.5,282.9 L225.1,283.1 L225.8,281.5 L226.5,281.9 L227.1,280.8 L227.8,278.8 L228.5,275.8 L229.1,270.9 L229.8,269.0 L230.5,269.8 L231.1,275.3 L231.8,279.0 L232.5,281.2 L233.1,281.9 L233.8,282.7 L234.5,281.9 L235.1,283.1 L235.8,282.2 L236.5,282.6 L237.1,283.2 L237.8,282.9 L238.5,282.2 L239.1,282.1 L239.8,282.3 L240.5,282.8 L241.1,283.5 L241.8,283.3 L242.5,282.4 L243.1,282.4 L243.8,283.2 L244.5,282.2 L245.1,282.5 L245.8,281.7 L246.5,282.1 L247.1,282.7 L247.8,283.0 L248.5,282.8 L249.1,282.4 L249.8,283.4 L250.5,282.9 L251.1,282.0 L251.8,281.9 L252.5,283.5 L253.1,283.5 L253.8,283.4 L254.5,282.8 L255.1,282.3 L255.8,281.9 L256.5,282.2 L257.1,282.1 L257.8,283.4 L258.5,283.3 L259.1,283.1 L259.8,282.0 L260.5,282.1 L261.1,282.2 L261.8,283.4 L262.5,281.9 L263.1,283.1 L263.8,282.8 L264.5,282.6 L265.2,283.3 L265.8,282.0 L266.5,282.4 L267.2,281.7 L267.8,281.5 L268.5,281.2 L269.2,281.5 L269.8,280.7 L270.5,279.3 L271.2,278.1 L271.8,271.7 L272.5,266.5 L273.2,263.0 L273.8,266.2 L274.5,272.3 L275.2,278.0 L275.8,280.7 L276.5,281.7 L277.2,281.8 L277.8,282.3 L278.5,282.4 L279.2,282.1 L279.8,282.0 L280.5,281.4 L281.2,282.5 L281.8,281.8 L282.5,281.0 L283.2,281.1 L283.8,282.3 L284.5,281.2 L285.2,281.4 L285.8,281.9 L286.5,282.3 L287.2,281.4 L287.8,281.7 L288.5,281.8 L289.2,281.2 L289.8,282.9 L290.5,281.4 L291.2,283.2 L291.8,281.8 L292.5,281.8 L293.2,283.1 L293.8,283.1 L294.5,282.1 L295.2,282.7 L295.8,282.6 L296.5,283.0 L297.2,282.0 L297.8,283.2 L298.5,283.5 L299.2,283.0 L299.8,283.4 L300.5,283.4 L301.2,282.4 L301.8,283.2 L302.5,283.2 L303.2,282.8 L303.8,281.9 L304.5,282.8 L305.2,283.3 L305.8,282.2 L306.5,282.8 L307.2,283.3 L307.8,282.7 L308.5,281.6 L309.2,282.6 L309.8,281.6 L310.5,282.2 L311.2,281.1 L311.8,279.7 L312.5,280.4 L313.2,280.2 L313.8,280.5 L314.5,282.1 L315.2,282.7 L315.8,283.0 L316.5,283.2 L317.2,282.8 L317.8,282.9 L318.5,282.8 L319.2,282.6 L319.8,283.5 L320.5,282.3 L321.2,281.9 L321.8,283.0 L322.5,282.6 L323.2,282.7 L323.8,282.8 L324.5,282.2 L325.2,282.1 L325.8,281.9 L326.5,283.1 L327.2,283.4 L327.8,283.0 L328.5,281.9 L329.2,283.5 L329.8,283.2 L330.5,282.6 L331.2,281.7 L331.8,283.2 L332.5,282.8 L333.2,282.8 L333.8,281.7 L334.5,283.0 L335.2,281.7 L335.8,282.5 L336.5,281.9 L337.2,282.2 L337.8,283.2 L338.5,282.9 L339.2,283.0 L339.8,282.0 L340.5,282.1 L341.2,282.4 L341.8,281.3 L342.5,281.8 L343.2,282.6 L343.8,281.7 L344.5,280.8 L345.2,277.5 L345.8,273.9 L346.5,267.7 L347.2,260.8 L347.8,257.1 L348.5,259.8 L349.2,266.3 L349.8,274.3 L350.5,278.7 L351.2,279.8 L351.8,281.7 L352.5,281.5 L353.2,282.2 L353.8,282.7 L354.5,281.9 L355.2,282.5 L355.8,281.9 L356.5,282.4 L357.2,281.6 L357.8,282.0 L358.5,282.1 L359.2,283.3 L359.8,281.9 L360.5,283.0 L361.2,281.8 L361.8,283.4 L362.5,282.0 L363.2,281.9 L363.8,282.1 L364.5,283.4 L365.2,282.9 L365.8,283.3 L366.5,282.6 L367.2,281.9 L367.8,282.3 L368.5,282.6 L369.2,283.5 L369.8,282.0 L370.5,282.2 L371.2,283.3 L371.8,282.0 L372.5,283.5 L373.2,282.3 L373.8,282.8 L374.5,282.9 L375.2,283.4 L375.8,281.9 L376.5,283.3 L377.2,282.1 L377.8,283.1 L378.5,281.8 L379.2,283.1 L379.8,282.1 L380.5,282.1 L381.2,281.8 L381.8,282.3 L382.5,282.4 L383.2,283.5 L383.8,282.9 L384.5,282.4 L385.2,283.5 L385.8,282.1 L386.5,282.2 L387.2,283.5 L387.8,283.5 L388.5,283.0 L389.2,283.5 L389.8,281.9 L390.5,283.4 L391.2,283.0 L391.8,283.0 L392.5,283.3 L393.2,281.9 L393.8,282.1 L394.5,282.0 L395.2,282.6 L395.8,282.7 L396.5,282.7 L397.2,282.4 L397.8,283.1 L398.5,283.3 L399.2,283.1 L399.8,281.8 L400.5,282.0 L401.2,282.1 L401.8,282.1 L402.5,282.7 L403.2,282.1 L403.8,282.8 L404.5,282.3 L405.2,282.3 L405.8,282.9 L406.5,283.3 L407.2,281.9 L407.8,282.2 L408.5,283.3 L409.2,281.8 L409.8,281.3 L410.5,281.3 L411.2,281.9 L411.8,280.6 L412.5,279.3 L413.2,276.2 L413.8,273.3 L414.5,272.8 L415.2,274.5 L415.8,276.0 L416.5,277.8 L417.2,280.0 L417.8,281.2 L418.5,281.6 L419.2,282.1 L419.8,281.7 L420.5,281.5 L421.2,283.0 L421.8,282.9 L422.5,282.4 L423.2,281.8 L423.8,282.2 L424.5,282.7 L425.2,283.3 L425.8,282.6 L426.5,283.5 L427.2,282.7 L427.8,282.0 L428.5,282.8 L429.2,282.8 L429.8,282.8 L430.5,283.0 L431.2,281.8 L431.8,282.5 L432.5,283.2 L433.2,282.0 L433.8,281.8 L434.5,282.1 L435.2,282.2 L435.8,282.5 L436.5,282.3 L437.2,282.9 L437.8,282.0 L438.5,282.3 L439.2,282.9 L439.8,282.6 L440.5,283.3 L441.2,283.2 L441.8,281.9 L442.5,281.9 L443.2,282.0 L443.8,281.8 L444.5,281.1 L445.2,281.7 L445.8,280.2 L446.5,280.6 L447.2,280.1 L447.8,281.7 L448.5,281.5 L449.2,282.6 L449.8,281.3 L450.5,282.6 L451.2,282.5 L451.8,281.6 L452.5,283.1 L453.2,283.2 L453.8,281.8 L454.5,283.4 L455.2,283.1 L455.8,282.8 L456.5,282.7 L457.2,282.2 L457.8,281.8 L458.5,282.6 L459.2,283.3 L459.8,282.1 L460.5,282.6 L461.2,282.2 L461.8,283.0 L462.5,283.5 L463.2,283.3 L463.8,282.3 L464.5,282.5 L465.2,281.7 L465.8,282.7 L466.5,283.2 L467.2,283.2 L467.8,281.8 L468.5,282.5 L469.2,281.8 L469.8,282.4 L470.5,283.2 L471.2,282.1 L471.8,283.0 L472.5,283.0 L473.2,282.3 L473.8,280.6 L474.5,280.9 L475.2,279.8 L475.8,279.0 L476.5,276.8 L477.2,277.2 L477.8,278.7 L478.5,280.2 L479.2,281.0 L479.8,281.0 L480.5,282.4 L481.2,282.6 L481.8,282.7 L482.5,282.5 L483.2,282.6 L483.8,282.9 L484.5,281.8 L485.2,282.5 L485.8,282.0 L486.5,281.9 L487.2,283.1 L487.8,282.3 L488.5,282.4 L489.2,282.2 L489.8,282.8 L490.5,282.0 L491.2,282.9 L491.8,281.9 L492.5,283.5 L493.2,282.1 L493.8,283.2 L494.5,282.8 L495.2,282.5 L495.8,282.3 L496.5,282.4 L497.2,283.1 L497.8,282.7 L498.5,282.7"/>
<path stroke="#18e018" d="M31.8,238.4 L32.5,238.6 L33.1,238.7 L33.8,239.0 L34.5,238.6 L35.1,239.0 L35.8,237.3 L36.5,238.1 L37.1,239.0 L37.8,238.5 L38.5,238.9 L39.1,237.5 L39.8,238.1 L40.5,237.7 L41.1,238.3 L41.8,238.3 L42.5,237.3 L43.1,237.7 L43.8,237.8 L44.5,238.9 L45.1,238.7 L45.8,237.6 L46.5,238.7 L47.1,237.5 L47.8,238.4 L48.5,237.5 L49.1,237.3 L49.8,238.9 L50.5,237.7 L51.1,237.7 L51.8,239.1 L52.5,238.9 L53.1,237.8 L53.8,239.0 L54.5,238.3 L55.1,238.5 L55.8,237.7 L56.5,239.0 L57.1,238.5 L57.8,239.0 L58.5,238.9 L59.1,237.8 L59.8,237.9 L60.5,237.6 L61.1,237.6 L61.8,237.4 L62.5,237.8 L63.1,238.4 L63.8,237.3 L64.5,238.5 L65.1,237.9 L65.8,237.8 L66.5,238.8 L67.1,238.2 L67.8,237.9 L68.5,238.2 L69.1,238.6 L69.8,237.4 L70.5,239.0 L71.1,237.3 L71.8,238.6 L72.5,238.8 L73.1,237.3 L73.8,238.7 L74.5,237.9 L75.1,238.3 L75.8,237.3 L76.5,237.4 L77.1,237.6 L77.8,239.0 L78.5,237.6 L79.1,238.6 L79.8,239.0 L80.5,239.0 L81.1,237.9 L81.8,237.9 L82.5,238.2 L83.1,238.7 L83.8,237.5 L84.5,238.6 L85.1,238.7 L85.8,238.8 L86.5,237.3 L87.1,239.0 L87.8,237.4 L88.5,237.9 L89.1,238.4 L89.8,238.9 L90.5,237.9 L91.1,238.9 L91.8,238.3 L92.5,237.8 L93.1,237.8 L93.8,237.6 L94.5,237.4 L95.1,237.5 L95.8,238.5 L96.5,239.1 L97.1,237.6 L97.8,237.3 L98.5,239.0 L99.1,238.2 L99.8,238.0 L100.5,237.7 L101.1,238.3 L101.8,238.7 L102.5,238.1 L103.1,238.0 L103.8,237.3 L104.5,238.9 L105.1,237.3 L105.8,238.1 L106.5,238.7 L107.1,237.4 L107.8,238.5 L108.5,238.9 L109.1,238.3 L109.8,238.5 L110.5,237.3 L111.1,237.8 L111.8,237.3 L112.5,238.4 L113.1,237.2 L113.8,237.0 L114.5,236.7 L115.1,233.6 L115.8,230.1 L116.5,227.0 L117.1,229.2 L117.8,233.4 L118.5,235.7 L119.1,236.7 L119.8,237.4 L120.5,237.1 L121.1,237.6 L121.8,238.7 L122.5,238.7 L123.1,238.1 L123.8,237.9 L124.5,237.5 L125.1,237.0 L125.8,237.3 L126.5,238.1 L127.1,238.1 L127.8,237.0 L128.5,237.5 L129.1,237.2 L129.8,236.7 L130.5,236.4 L131.1,236.2 L131.8,235.2 L132.5,235.5 L133.1,234.6 L133.8,234.9 L134.5,235.5 L135.1,235.5 L135.8,235.1 L136.5,236.5 L137.1,236.3 L137.8,236.5 L138.5,235.8 L139.1,237.1 L139.8,236.8 L140.5,237.7 L141.1,237.5 L141.8,238.3 L142.5,238.1 L143.1,238.4 L143.8,237.7 L144.5,238.2 L145.1,238.4 L145.8,238.6 L146.5,237.8 L147.1,238.7 L147.8,238.7 L148.5,238.4 L149.1,238.9 L149.8,238.9 L150.5,238.1 L151.1,238.1 L151.8,237.5 L152.5,238.7 L153.1,238.9 L153.8,238.0 L154.5,238.4 L155.1,238.5 L155.8,238.5 L156.5,237.5 L157.1,238.6 L157.8,238.2 L158.5,238.4 L159.1,237.9 L159.8,238.3 L160.5,238.6 L161.1,238.3 L161.8,238.4 L162.5,237.2 L163.1,237.4 L163.8,237.9 L164.5,238.3 L165.1,237.5 L165.8,238.3 L166.5,238.2 L167.1,237.1 L167.8,237.8 L168.5,237.4 L169.1,237.0 L169.8,237.1 L170.5,237.4 L171.1,237.1 L171.8,237.0 L172.5,236.6 L173.1,237.2 L173.8,236.8 L174.5,237.0 L175.1,236.5 L175.8,235.2 L176.5,235.0 L177.1,229.8 L177.8,221.4 L178.5,203.8 L179.1,181.8 L179.8,169.5 L180.5,182.6 L181.1,204.0 L181.8,220.7 L182.5,230.9 L183.1,233.6 L183.8,235.8 L184.5,236.1 L185.1,236.9 L185.8,237.9 L186.5,237.8 L187.1,237.3 L187.8,238.1 L188.5,237.9 L189.1,237.5 L189.8,237.1 L190.5,238.0 L191.1,238.0 L191.8,238.7 L192.5,238.8 L193.1,238.1 L193.8,237.7 L194.5,238.7 L195.1,237.1 L195.8,237.3 L196.5,238.2 L197.1,238.3 L197.8,237.4 L198.5,238.3 L199.1,238.8 L199.8,237.9 L200.5,238.0 L201.1,237.6 L201.8,237.7 L202.5,239.0 L203.1,237.9 L203.8,238.9 L204.5,238.9 L205.1,238.3 L205.8,237.7 L206.5,239.0 L207.1,238.1 L207.8,238.0 L208.5,237.8 L209.1,239.0 L209.8,238.1 L210.5,237.7 L211.1,238.1 L211.8,237.4 L212.5,238.3 L213.1,238.0 L213.8,237.8 L214.5,238.6 L215.1,238.7 L215.8,237.2 L216.5,238.2 L217.1,237.7 L217.8,238.9 L218.5,238.6 L219.1,237.6 L219.8,237.7 L220.5,237.5 L221.1,239.0 L221.8,237.7 L222.5,238.2 L223.1,238.0 L223.8,238.3 L224.5,238.1 L225.1,238.3 L225.8,237.1 L226.5,238.0 L227.1,236.6 L227.8,235.6 L228.5,232.8 L229.1,229.7 L229.8,228.6 L230.5,230.0 L231.1,232.8 L231.8,236.0 L232.5,237.1 L233.1,236.7 L233.8,237.3 L234.5,237.8 L235.1,238.7 L235.8,238.7 L236.5,238.1 L237.1,237.2 L237.8,238.6 L238.5,238.0 L239.1,238.2 L239.8,238.5 L240.5,238.4 L241.1,238.1 L241.8,238.9 L242.5,237.9 L243.1,237.9 L243.8,238.8 L244.5,237.6 L245.1,237.8 L245.8,238.7 L246.5,237.4 L247.1,238.8 L247.8,238.5 L248.5,238.0 L249.1,237.8 L249.8,238.7 L250.5,238.9 L251.1,237.5 L251.8,238.1 L252.5,238.2 L253.1,238.1 L253.8,237.8 L254.5,237.5 L255.1,238.3 L255.8,238.7 L256.5,237.4 L257.1,237.7 L257.8,238.7 L258.5,238.7 L259.1,238.4 L259.8,237.3 L260.5,238.5 L261.1,239.0 L261.8,239.0 L262.5,238.4 L263.1,237.3 L263.8,238.7 L264.5,237.5 L265.2,238.3 L265.8,238.8 L266.5,238.3 L267.2,237.2 L267.8,237.4 L268.5,238.5 L269.2,236.9 L269.8,237.3 L270.5,236.0 L271.2,233.2 L271.8,229.8 L272.5,223.7 L273.2,221.3 L273.8,224.3 L274.5,228.8 L275.2,233.0 L275.8,236.2 L276.5,237.6 L277.2,238.2 L277.8,237.1 L278.5,237.7 L279.2,237.6 L279.8,238.1 L280.5,238.0 L281.2,238.8 L281.8,237.8 L282.5,237.3 L283.2,238.4 L283.8,237.5 L284.5,238.3 L285.2,238.1 L285.8,238.9 L286.5,238.2 L287.2,238.3 L287.8,237.7 L288.5,238.2 L289.2,237.7 L289.8,238.6 L290.5,238.2 L291.2,237.5 L291.8,237.7 L292.5,237.9 L293.2,238.6 L293.8,237.6 L294.5,238.5 L295.2,238.4 L295.8,237.4 L296.5,238.5 L297.2,237.4 L297.8,237.5 L298.5,238.3 L299.2,237.7 L299.8,238.8 L300.5,238.1 L301.2,237.8 L301.8,238.7 L302.5,237.3 L303.2,238.6 L303.8,237.3 L304.5,237.5 L305.2,239.0 L305.8,238.5 L306.5,237.6 L307.2,237.4 L307.8,238.9 L308.5,238.4 L309.2,238.5 L309.8,237.1 L310.5,237.7 L311.2,236.7 L311.8,236.0 L312.5,236.0 L313.2,236.7 L313.8,236.7 L314.5,237.2 L315.2,237.1 L315.8,238.6 L316.5,238.3 L317.2,238.6 L317.8,238.0 L318.5,238.8 L319.2,238.2 L319.8,238.3 L320.5,238.3 L321.2,238.6 L321.8,238.0 L322.5,237.4 L323.2,237.3 L323.8,237.6 L324.5,237.3 L325.2,238.8 L325.8,238.1 L326.5,238.6 L327.2,237.2 L327.8,238.1 L328.5,238.8 L329.2,238.4 L329.8,238.0 L330.5,238.1 L331.2,237.4 L331.8,237.5 L332.5,237.5 L333.2,237.9 L333.8,237.9 L334.5,238.8 L335.2,237.5 L335.8,237.6 L336.5,237.7 L337.2,237.4 L337.8,237.6 L338.5,237.5 L339.2,237.9 L339.8,237.1 L340.5,238.7 L341.2,237.6 L341.8,238.6 L342.5,238.0 L343.2,237.8 L343.8,237.1 L344.5,237.2 L345.2,234.1 L345.8,232.1 L346.5,226.9 L347.2,222.8 L347.8,220.6 L348.5,221.8 L349.2,226.7 L349.8,230.9 L350.5,234.3 L351.2,235.7 L351.8,237.0 L352.5,238.3 L353.2,237.4 L353.8,237.4 L354.5,237.8 L355.2,237.5 L355.8,238.4 L356.5,238.4 L357.2,237.4 L357.8,237.6 L358.5,238.4 L359.2,238.9 L359.8,238.3 L360.5,238.0 L361.2,239.0 L361.8,237.2 L362.5,237.3 L363.2,238.6 L363.8,238.0 L364.5,237.3 L365.2,238.2 L365.8,239.0 L366.5,238.2 L367.2,237.9 L367.8,237.4 L368.5,237.4 L369.2,238.9 L369.8,238.1 L370.5,238.9 L371.2,237.4 L371.8,237.7 L372.5,237.4 L373.2,238.0 L373.8,237.4 L374.5,237.7 L375.2,238.0 L375.8,237.8 L376.5,237.4 L377.2,237.3 L377.8,239.0 L378.5,237.6 L379.2,238.2 L379.8,238.0 L380.5,238.2 L381.2,237.4 L381.8,237.8 L382.5,237.5 L383.2,238.2 L383.8,238.9 L384.5,238.4 L385.2,238.8 L385.8,237.7 L386.5,237.3 L387.2,238.2 L387.8,238.1 L388.5,238.3 L389.2,238.0 L389.8,238.4 L390.5,238.6 L391.2,238.9 L391.8,237.8 L392.5,238.1 L393.2,238.8 L393.8,237.7 L394.5,237.5 L395.2,237.8 L395.8,237.4 L396.5,238.7 L397.2,238.7 L397.8,237.8 L398.5,237.5 L399.2,237.4 L399.8,237.7 L400.5,237.4 L401.2,238.0 L401.8,238.3 L402.5,237.7 L403.2,237.3 L403.8,238.5 L404.5,237.3 L405.2,237.6 L405.8,237.7 L406.5,237.8 L407.2,237.3 L407.8,237.9 L408.5,237.7 L409.2,238.4 L409.8,237.9 L410.5,238.3 L411.2,237.5 L411.8,236.9 L412.5,235.4 L413.2,233.7 L413.8,232.9 L414.5,232.0 L415.2,233.1 L415.8,234.2 L416.5,235.7 L417.2,236.1 L417.8,237.8 L418.5,237.4 L419.2,237.2 L419.8,237.2 L420.5,237.4 L421.2,237.6 L421.8,238.4 L422.5,237.7 L423.2,237.3 L423.8,238.6 L424.5,238.2 L425.2,237.3 L425.8,237.3 L426.5,237.5 L427.2,237.9 L427.8,238.8 L428.5,238.9 L429.2,238.3 L429.8,237.7 L430.5,238.0 L431.2,237.9 L431.8,237.8 L432.5,237.3 L433.2,238.3 L433.8,238.7 L434.5,238.5 L435.2,237.4 L435.8,238.2 L436.5,237.5 L437.2,238.5 L437.8,238.0 L438.5,238.9 L439.2,238.6 L439.8,237.4 L440.5,237.7 L441.2,238.7 L441.8,237.7 L442.5,237.5 L443.2,237.2 L443.8,237.5 L444.5,237.4 L445.2,236.3 L445.8,236.7 L446.5,236.0 L447.2,235.2 L447.8,236.8 L448.5,236.4 L449.2,236.2 L449.8,238.2 L450.5,236.8 L451.2,237.9 L451.8,237.9 L452.5,238.7 L453.2,237.8 L453.8,237.6 L454.5,237.7 L455.2,237.6 L455.8,238.2 L456.5,237.9 L457.2,238.6 L457.8,237.7 L458.5,237.9 L459.2,237.7 L459.8,239.0 L460.5,238.7 L461.2,238.8 L461.8,238.4 L462.5,238.0 L463.2,237.5 L463.8,238.7 L464.5,238.1 L465.2,237.3 L465.8,237.5 L466.5,237.4 L467.2,238.5 L467.8,238.8 L468.5,237.5 L469.2,238.6 L469.8,237.7 L470.5,238.3 L471.2,238.6 L471.8,238.1 L472.5,238.2 L473.2,237.0 L473.8,235.7 L474.5,235.7 L475.2,234.7 L475.8,233.0 L476.5,233.0 L477.2,233.3 L477.8,233.7 L478.5,235.4 L479.2,236.4 L479.8,237.2 L480.5,238.0 L481.2,237.7 L481.8,238.8 L482.5,238.6 L483.2,238.8 L483.8,238.4 L484.5,238.4 L485.2,238.2 L485.8,238.7 L486.5,237.9 L487.2,238.3 L487.8,238.5 L488.5,238.2 L489.2,237.8 L489.8,237.4 L490.5,237.4 L491.2,237.9 L491.8,238.3 L492.5,238.6 L493.2,238.6 L493.8,237.8 L494.5,238.9 L495.2,237.8 L495.8,238.6 L496.5,237.4 L497.2,238.6 L497.8,238.5 L498.5,239.0"/>
<path stroke="#1010d8" d="M31.8,195.2 L32.5,195.3 L33.1,194.7 L33.8,194.3 L34.5,193.8 L35.1,195.0 L35.8,194.6 L36.5,195.2 L37.1,194.5 L37.8,195.2 L38.5,194.3 L39.1,195.2 L39.8,195.1 L40.5,194.5 L41.1,194.8 L41.8,195.0 L42.5,194.1 L43.1,194.8 L43.8,195.2 L44.5,194.3 L45.1,195.2 L45.8,195.0 L46.5,195.3 L47.1,194.4 L47.8,194.0 L48.5,195.2 L49.1,195.2 L49.8,194.6 L50.5,194.0 L51.1,194.1 L51.8,194.9 L52.5,194.3 L53.1,195.5 L53.8,194.8 L54.5,194.2 L55.1,195.0 L55.8,194.4 L56.5,195.5 L57.1,195.4 L57.8,194.7 L58.5,194.9 L59.1,195.0 L59.8,195.2 L60.5,195.5 L61.1,193.8 L61.8,194.4 L62.5,194.9 L63.1,194.3 L63.8,194.8 L64.5,193.9 L65.1,195.4 L65.8,194.7 L66.5,194.0 L67.1,195.0 L67.8,194.3 L68.5,194.1 L69.1,194.7 L69.8,194.0 L70.5,194.2 L71.1,195.3 L71.8,195.0 L72.5,193.8 L73.1,195.2 L73.8,193.8 L74.5,194.4 L75.1,195.4 L75.8,194.9 L76.5,194.3 L77.1,194.5 L77.8,194.5 L78.5,194.0 L79.1,195.6 L79.8,193.9 L80.5,194.5 L81.1,195.1 L81.8,194.5 L82.5,195.5 L83.1,194.2 L83.8,195.5 L84.5,195.4 L85.1,195.0 L85.8,195.4 L86.5,194.6 L87.1,195.3 L87.8,195.2 L88.5,194.7 L89.1,194.6 L89.8,195.0 L90.5,194.5 L91.1,193.9 L91.8,195.1 L92.5,194.2 L93.1,194.6 L93.8,195.2 L94.5,194.1 L95.1,193.8 L95.8,194.0 L96.5,194.8 L97.1,194.4 L97.8,194.2 L98.5,194.6 L99.1,195.4 L99.8,194.2 L100.5,194.5 L101.1,195.3 L101.8,194.8 L102.5,194.2 L103.1,194.6 L103.8,194.6 L104.5,194.0 L105.1,194.4 L105.8,194.3 L106.5,195.1 L107.1,194.3 L107.8,194.9 L108.5,195.4 L109.1,195.3 L109.8,194.3 L110.5,194.7 L111.1,194.1 L111.8,194.2 L112.5,194.3 L113.1,194.6 L113.8,194.4 L114.5,192.0 L115.1,188.9 L115.8,186.2 L116.5,183.5 L117.1,185.4 L117.8,190.3 L118.5,191.7 L119.1,194.0 L119.8,193.8 L120.5,195.0 L121.1,194.9 L121.8,193.5 L122.5,193.8 L123.1,195.1 L123.8,194.5 L124.5,194.0 L125.1,194.6 L125.8,194.5 L126.5,193.7 L127.1,193.5 L127.8,192.5 L128.5,192.6 L129.1,191.7 L129.8,192.1 L130.5,191.6 L131.1,190.2 L131.8,190.6 L132.5,189.3 L133.1,189.0 L133.8,189.9 L134.5,189.7 L135.1,190.7 L135.8,190.6 L136.5,191.2 L137.1,190.7 L137.8,192.5 L138.5,191.6 L139.1,193.1 L139.8,194.0 L140.5,194.3 L141.1,194.5 L141.8,193.9 L142.5,194.5 L143.1,194.8 L143.8,193.7 L144.5,195.2 L145.1,195.2 L145.8,194.4 L146.5,195.0 L147.1,194.4 L147.8,194.1 L148.5,194.9 L149.1,193.7 L149.8,195.1 L150.5,195.4 L151.1,194.2 L151.8,195.3 L152.5,193.8 L153.1,195.2 L153.8,194.2 L154.5,195.4 L155.1,194.4 L155.8,195.3 L156.5,193.7 L157.1,193.8 L157.8,195.1 L158.5,194.8 L159.1,194.6 L159.8,193.7 L160.5,193.9 L161.1,194.3 L161.8,193.7 L162.5,195.4 L163.1,195.0 L163.8,195.3 L164.5,194.8 L165.1,194.2 L165.8,193.7 L166.5,194.8 L167.1,193.7 L167.8,194.4 L168.5,194.3 L169.1,194.3 L169.8,193.5 L170.5,193.4 L171.1,194.1 L171.8,193.1 L172.5,193.9 L173.1,193.1 L173.8,193.1 L174.5,192.5 L175.1,192.8 L175.8,191.8 L176.5,190.0 L177.1,186.0 L177.8,176.7 L178.5,158.4 L179.1,133.4 L179.8,120.1 L180.5,133.2 L181.1,157.2 L181.8,176.7 L182.5,187.0 L183.1,190.6 L183.8,191.4 L184.5,192.4 L185.1,192.9 L185.8,193.4 L186.5,193.5 L187.1,194.7 L187.8,194.1 L188.5,194.4 L189.1,194.6 L189.8,194.5 L190.5,194.8 L191.1,194.1 L191.8,194.7 L192.5,195.2 L193.1,193.8 L193.8,194.7 L194.5,194.3 L195.1,193.7 L195.8,193.7 L196.5,195.0 L197.1,193.8 L197.8,194.9 L198.5,193.8 L199.1,194.3 L199.8,193.7 L200.5,194.7 L201.1,195.1 L201.8,194.1 L202.5,194.7 L203.1,195.4 L203.8,194.2 L204.5,194.6 L205.1,195.0 L205.8,195.3 L206.5,194.0 L207.1,194.9 L207.8,193.9 L208.5,193.9 L209.1,195.5 L209.8,193.8 L210.5,195.4 L211.1,195.1 L211.8,194.9 L212.5,195.0 L213.1,194.9 L213.8,194.2 L214.5,194.5 L215.1,194.1 L215.8,195.3 L216.5,195.1 L217.1,195.1 L217.8,194.1 L218.5,194.8 L219.1,194.2 L219.8,195.1 L220.5,195.0 L221.1,195.5 L221.8,194.9 L222.5,194.9 L223.1,195.0 L223.8,193.7 L224.5,194.6 L225.1,193.5 L225.8,194.0 L226.5,193.2 L227.1,194.0 L227.8,190.7 L228.5,189.4 L229.1,186.0 L229.8,183.3 L230.5,185.8 L231.1,187.9 L231.8,190.9 L232.5,192.3 L233.1,193.2 L233.8,193.3 L234.5,194.9 L235.1,193.7 L235.8,194.6 L236.5,194.1 L237.1,193.9 L237.8,194.4 L238.5,194.0 L239.1,195.4 L239.8,194.4 L240.5,194.8 L241.1,194.7 L241.8,194.8 L242.5,194.6 L243.1,194.2 L243.8,194.0 L244.5,195.3 L245.1,194.1 L245.8,194.5 L246.5,195.2 L247.1,194.8 L247.8,195.5 L248.5,195.2 L249.1,194.7 L249.8,194.0 L250.5,194.8 L251.1,194.6 L251.8,195.3 L252.5,194.7 L253.1,195.0 L253.8,195.2 L254.5,194.6 L255.1,195.3 L255.8,195.4 L256.5,194.0 L257.1,195.4 L257.8,195.3 L258.5,195.3 L259.1,194.3 L259.8,194.2 L260.5,193.9 L261.1,194.4 L261.8,195.2 L262.5,194.3 L263.1,193.7 L263.8,194.2 L264.5,193.8 L265.2,194.7 L265.8,195.0 L266.5,195.2 L267.2,193.6 L267.8,194.1 L268.5,193.5 L269.2,194.8 L269.8,194.2 L270.5,192.6 L271.2,191.0 L271.8,186.1 L272.5,181.5 L273.2,178.4 L273.8,180.7 L274.5,186.9 L275.2,190.8 L275.8,192.8 L276.5,194.3 L277.2,194.3 L277.8,194.7 L278.5,193.5 L279.2,193.7 L279.8,193.7 L280.5,194.7 L281.2,194.9 L281.8,193.9 L282.5,194.6 L283.2,193.9 L283.8,194.9 L284.5,195.1 L285.2,193.9 L285.8,195.5 L286.5,194.9 L287.2,194.0 L287.8,194.4 L288.5,194.0 L289.2,195.0 L289.8,195.4 L290.5,194.1 L291.2,194.1 L291.8,194.9 L292.5,195.3 L293.2,195.1 L293.8,194.6 L294.5,194.0 L295.2,194.9 L295.8,194.6 L296.5,195.2 L297.2,194.8 L297.8,195.1 L298.5,195.5 L299.2,194.9 L299.8,195.4 L300.5,194.2 L301.2,193.8 L301.8,195.3 L302.5,193.8 L303.2,195.5 L303.8,194.6 L304.5,193.8 L305.2,194.2 L305.8,195.0 L306.5,194.4 L307.2,194.8 L307.8,193.9 L308.5,195.1 L309.2,194.2 L309.8,194.8 L310.5,193.1 L311.2,193.5 L311.8,192.5 L312.5,192.1 L313.2,191.7 L313.8,193.2 L314.5,194.4 L315.2,193.5 L315.8,194.3 L316.5,193.6 L317.2,195.5 L317.8,195.4 L318.5,194.9 L319.2,194.6 L319.8,193.9 L320.5,193.9 L321.2,195.0 L321.8,195.2 L322.5,195.5 L323.2,195.3 L323.8,194.5 L324.5,194.2 L325.2,194.7 L325.8,194.4 L326.5,194.7 L327.2,195.3 L327.8,194.6 L328.5,195.5 L329.2,195.0 L329.8,193.8 L330.5,195.1 L331.2,194.9 L331.8,194.8 L332.5,193.7 L333.2,195.3 L333.8,194.6 L334.5,194.7 L335.2,194.0 L335.8,193.7 L336.5,193.7 L337.2,194.0 L337.8,194.2 L338.5,193.9 L339.2,193.7 L339.8,194.8 L340.5,194.7 L341.2,195.0 L341.8,193.7 L342.5,194.5 L343.2,194.1 L343.8,192.8 L344.5,193.4 L345.2,190.6 L345.8,186.9 L346.5,181.8 L347.2,177.7 L347.8,173.9 L348.5,176.7 L349.2,182.4 L349.8,187.2 L350.5,191.2 L351.2,192.0 L351.8,193.4 L352.5,194.1 L353.2,194.3 L353.8,194.4 L354.5,193.9 L355.2,194.6 L355.8,195.3 L356.5,194.4 L357.2,194.7 L357.8,195.1 L358.5,194.1 L359.2,194.1 L359.8,195.4 L360.5,194.2 L361.2,194.5 L361.8,194.4 L362.5,195.5 L363.2,194.7 L363.8,195.3 L364.5,194.0 L365.2,194.2 L365.8,194.9 L366.5,194.3 L367.2,194.9 L367.8,194.7 L368.5,193.9 L369.2,194.0 L369.8,194.5 L370.5,194.7 L371.2,194.1 L371.8,194.2 L372.5,193.8 L373.2,194.2 L373.8,194.3 L374.5,194.5 L375.2,194.8 L375.8,195.3 L376.5,195.1 L377.2,195.1 L377.8,194.3 L378.5,194.7 L379.2,195.1 L379.8,195.4 L380.5,194.2 L381.2,193.8 L381.8,193.9 L382.5,194.7 L383.2,195.3 L383.8,194.0 L384.5,195.2 L385.2,194.9 L385.8,195.3 L386.5,195.4 L387.2,194.0 L387.8,195.2 L388.5,194.0 L389.2,194.0 L389.8,194.5 L390.5,194.7 L391.2,193.9 L391.8,194.3 L392.5,194.1 L393.2,194.0 L393.8,193.9 L394.5,193.8 L395.2,194.2 L395.8,194.4 L396.5,194.5 L397.2,195.0 L397.8,194.9 L398.5,194.6 L399.2,194.3 L399.8,194.9 L400.5,194.1 L401.2,194.1 L401.8,193.9 L402.5,194.9 L403.2,194.0 L403.8,194.1 L404.5,194.3 L405.2,194.7 L405.8,194.9 L406.5,194.7 L407.2,194.7 L407.8,194.0 L408.5,195.2 L409.2,194.9 L409.8,194.2 L410.5,193.9 L411.2,193.9 L411.8,192.3 L412.5,192.0 L413.2,190.9 L413.8,188.5 L414.5,188.1 L415.2,188.3 L415.8,190.9 L416.5,191.5 L417.2,192.7 L417.8,194.1 L418.5,193.9 L419.2,195.1 L419.8,194.3 L420.5,194.7 L421.2,194.2 L421.8,194.7 L422.5,194.5 L423.2,193.9 L423.8,195.3 L424.5,194.0 L425.2,194.8 L425.8,195.0 L426.5,194.6 L427.2,194.3 L427.8,194.6 L428.5,195.6 L429.2,193.8 L429.8,195.4 L430.5,194.9 L431.2,194.6 L431.8,194.9 L432.5,194.9 L433.2,195.3 L433.8,195.5 L434.5,194.7 L435.2,194.4 L435.8,194.4 L436.5,195.4 L437.2,194.6 L437.8,193.9 L438.5,194.8 L439.2,194.0 L439.8,194.4 L440.5,194.9 L441.2,194.9 L441.8,194.7 L442.5,195.3 L443.2,194.9 L443.8,195.5 L444.5,195.2 L445.2,194.3 L445.8,195.2 L446.5,194.4 L447.2,195.5 L447.8,194.9 L448.5,194.5 L449.2,194.1 L449.8,195.3 L450.5,194.4 L451.2,193.8 L451.8,195.2 L452.5,193.8 L453.2,193.9 L453.8,193.8 L454.5,194.9 L455.2,194.8 L455.8,194.6 L456.5,195.5 L457.2,194.6 L457.8,194.1 L458.5,195.6 L459.2,194.0 L459.8,193.9 L460.5,194.2 L461.2,195.5 L461.8,194.5 L462.5,194.4 L463.2,194.4 L463.8,194.4 L464.5,195.1 L465.2,194.9 L465.8,194.2 L466.5,194.1 L467.2,195.2 L467.8,194.7 L468.5,194.6 L469.2,194.0 L469.8,195.4 L470.5,194.5 L471.2,195.2 L471.8,194.6 L472.5,194.3 L473.2,192.7 L473.8,193.5 L474.5,192.2 L475.2,189.5 L475.8,188.3 L476.5,188.8 L477.2,189.3 L477.8,189.7 L478.5,192.5 L479.2,192.0 L479.8,193.7 L480.5,194.0 L481.2,194.0 L481.8,194.7 L482.5,194.4 L483.2,195.0 L483.8,195.0 L484.5,193.7 L485.2,194.3 L485.8,194.7 L486.5,194.2 L487.2,194.8 L487.8,193.8 L488.5,193.9 L489.2,194.7 L489.8,194.1 L490.5,194.1 L491.2,194.5 L491.8,194.8 L492.5,194.9 L493.2,194.8 L493.8,194.7 L494.5,194.6 L495.2,195.3 L495.8,195.3 L496.5,195.4 L497.2,195.5 L497.8,195.0 L498.5,194.1"/>
<path stroke="#20e8e8" d="M31.8,150.4 L32.5,150.1 L33.1,151.0 L33.8,149.9 L34.5,150.8 L35.1,150.5 L35.8,149.9 L36.5,150.7 L37.1,149.9 L37.8,150.6 L38.5,149.9 L39.1,150.0 L39.8,150.6 L40.5,151.3 L41.1,150.0 L41.8,150.2 L42.5,150.9 L43.1,151.5 L43.8,150.8 L44.5,150.5 L45.1,151.6 L45.8,149.9 L46.5,151.3 L47.1,150.3 L47.8,150.1 L48.5,150.0 L49.1,150.3 L49.8,151.3 L50.5,150.1 L51.1,150.8 L51.8,150.9 L52.5,150.5 L53.1,150.8 L53.8,149.9 L54.5,149.9 L55.1,150.2 L55.8,151.0 L56.5,150.6 L57.1,150.4 L57.8,150.8 L58.5,150.6 L59.1,150.3 L59.8,151.2 L60.5,151.0 L61.1,150.2 L61.8,150.8 L62.5,150.7 L63.1,151.4 L63.8,151.1 L64.5,150.3 L65.1,151.6 L65.8,150.0 L66.5,150.5 L67.1,151.2 L67.8,150.1 L68.5,150.7 L69.1,149.9 L69.8,151.0 L70.5,151.2 L71.1,150.8 L71.8,151.4 L72.5,150.4 L73.1,151.0 L73.8,150.9 L74.5,150.8 L75.1,150.6 L75.8,151.3 L76.5,151.5 L77.1,150.6 L77.8,151.0 L78.5,149.9 L79.1,151.0 L79.8,150.9 L80.5,151.6 L81.1,151.3 L81.8,150.3 L82.5,150.5 L83.1,151.0 L83.8,149.8 L84.5,150.6 L85.1,150.1 L85.8,150.0 L86.5,149.9 L87.1,151.2 L87.8,150.0 L88.5,150.2 L89.1,150.5 L89.8,151.3 L90.5,149.9 L91.1,150.6 L91.8,150.8 L92.5,151.4 L93.1,151.2 L93.8,151.3 L94.5,150.3 L95.1,150.5 L95.8,150.4 L96.5,151.4 L97.1,151.5 L97.8,150.0 L98.5,150.1 L99.1,150.2 L99.8,150.2 L100.5,150.6 L101.1,150.8 L101.8,150.2 L102.5,149.8 L103.1,150.5 L103.8,150.4 L104.5,150.8 L105.1,151.4 L105.8,151.0 L106.5,150.6 L107.1,150.8 L107.8,150.9 L108.5,149.8 L109.1,151.3 L109.8,151.1 L110.5,151.2 L111.1,151.0 L111.8,150.2 L112.5,150.2 L113.1,149.5 L113.8,150.1 L114.5,148.0 L115.1,145.9 L115.8,143.3 L116.5,141.6 L117.1,143.5 L117.8,145.9 L118.5,147.9 L119.1,149.2 L119.8,149.4 L120.5,150.0 L121.1,149.5 L121.8,151.0 L122.5,150.6 L123.1,149.7 L123.8,149.9 L124.5,150.0 L125.1,149.9 L125.8,149.4 L126.5,150.5 L127.1,150.6 L127.8,149.4 L128.5,149.1 L129.1,148.0 L129.8,147.6 L130.5,147.6 L131.1,147.1 L131.8,147.7 L132.5,146.1 L133.1,145.7 L133.8,147.3 L134.5,146.6 L135.1,146.1 L135.8,147.2 L136.5,146.6 L137.1,148.0 L137.8,149.2 L138.5,149.4 L139.1,149.5 L139.8,149.0 L140.5,149.5 L141.1,149.3 L141.8,150.6 L142.5,150.3 L143.1,150.8 L143.8,150.1 L144.5,149.9 L145.1,151.0 L145.8,151.4 L146.5,151.2 L147.1,151.1 L147.8,151.1 L148.5,151.0 L149.1,150.1 L149.8,150.6 L150.5,150.3 L151.1,149.7 L151.8,149.7 L152.5,150.2 L153.1,150.1 L153.8,150.9 L154.5,151.4 L155.1,150.5 L155.8,151.4 L156.5,151.5 L157.1,151.4 L157.8,150.3 L158.5,150.1 L159.1,150.1 L159.8,150.0 L160.5,150.0 L161.1,150.8 L161.8,151.3 L162.5,151.1 L163.1,150.5 L163.8,150.8 L164.5,151.0 L165.1,149.7 L165.8,150.8 L166.5,151.2 L167.1,150.9 L167.8,150.9 L168.5,150.3 L169.1,149.8 L169.8,150.8 L170.5,149.9 L171.1,150.7 L171.8,150.9 L172.5,149.8 L173.1,149.7 L173.8,150.4 L174.5,149.8 L175.1,148.4 L175.8,147.7 L176.5,146.5 L177.1,144.4 L177.8,135.8 L178.5,118.5 L179.1,99.2 L179.8,88.5 L180.5,98.9 L181.1,118.9 L181.8,135.4 L182.5,143.1 L183.1,146.2 L183.8,149.2 L184.5,149.3 L185.1,149.4 L185.8,150.4 L186.5,149.7 L187.1,150.6 L187.8,150.7 L188.5,149.7 L189.1,149.8 L189.8,149.9 L190.5,149.9 L191.1,150.5 L191.8,150.0 L192.5,150.3 L193.1,149.8 L193.8,151.2 L194.5,150.2 L195.1,150.4 L195.8,150.7 L196.5,151.3 L197.1,150.4 L197.8,151.3 L198.5,150.6 L199.1,150.6 L199.8,150.6 L200.5,149.7 L201.1,150.5 L201.8,150.0 L202.5,149.7 L203.1,151.1 L203.8,150.0 L204.5,150.6 L205.1,151.0 L205.8,150.7 L206.5,150.3 L207.1,150.7 L207.8,150.7 L208.5,151.1 L209.1,149.9 L209.8,150.7 L210.5,150.2 L211.1,150.2 L211.8,151.1 L212.5,150.6 L213.1,150.7 L213.8,151.1 L214.5,151.4 L215.1,150.5 L215.8,150.8 L216.5,150.6 L217.1,150.6 L217.8,151.0 L218.5,150.5 L219.1,150.7 L219.8,150.6 L220.5,151.4 L221.1,151.0 L221.8,151.3 L222.5,151.4 L223.1,150.1 L223.8,150.6 L224.5,151.3 L225.1,151.0 L225.8,149.7 L226.5,149.4 L227.1,149.5 L227.8,147.6 L228.5,145.8 L229.1,142.8 L229.8,142.6 L230.5,144.1 L231.1,146.9 L231.8,147.8 L232.5,150.0 L233.1,150.4 L233.8,149.7 L234.5,151.1 L235.1,151.3 L235.8,150.0 L236.5,151.4 L237.1,150.4 L237.8,150.6 L238.5,151.5 L239.1,151.2 L239.8,150.0 L240.5,150.5 L241.1,150.7 L241.8,150.3 L242.5,150.1 L243.1,150.3 L243.8,151.0 L244.5,149.8 L245.1,150.7 L245.8,150.5 L246.5,149.8 L247.1,150.3 L247.8,150.9 L248.5,150.7 L249.1,149.9 L249.8,151.5 L250.5,151.2 L251.1,151.5 L251.8,149.9 L252.5,150.2 L253.1,149.8 L253.8,151.2 L254.5,150.2 L255.1,150.0 L255.8,150.5 L256.5,151.4 L257.1,151.2 L257.8,150.2 L258.5,150.0 L259.1,151.4 L259.8,150.7 L260.5,151.0 L261.1,149.9 L261.8,149.8 L262.5,150.9 L263.1,150.4 L263.8,149.8 L264.5,151.3 L265.2,150.8 L265.8,151.0 L266.5,149.7 L267.2,151.0 L267.8,149.5 L268.5,150.9 L269.2,149.9 L269.8,149.3 L270.5,148.7 L271.2,147.0 L271.8,141.7 L272.5,136.4 L273.2,134.5 L273.8,136.6 L274.5,141.4 L275.2,145.7 L275.8,147.8 L276.5,149.1 L277.2,149.7 L277.8,149.9 L278.5,150.8 L279.2,150.0 L279.8,150.4 L280.5,149.9 L281.2,150.2 L281.8,149.7 L282.5,150.1 L283.2,149.7 L283.8,151.0 L284.5,150.7 L285.2,150.1 L285.8,150.6 L286.5,151.4 L287.2,149.9 L287.8,151.2 L288.5,150.5 L289.2,150.6 L289.8,151.2 L290.5,150.5 L291.2,150.7 L291.8,151.0 L292.5,151.5 L293.2,150.4 L293.8,151.3 L294.5,151.0 L295.2,150.9 L295.8,150.5 L296.5,150.4 L297.2,149.9 L297.8,150.0 L298.5,149.9 L299.2,151.1 L299.8,150.2 L300.5,150.1 L301.2,149.9 L301.8,151.3 L302.5,151.3 L303.2,151.0 L303.8,150.3 L304.5,150.2 L305.2,150.3 L305.8,150.6 L306.5,150.0 L307.2,150.5 L307.8,150.2 L308.5,151.4 L309.2,151.4 L309.8,150.6 L310.5,149.8 L311.2,150.9 L311.8,149.4 L312.5,149.4 L313.2,148.9 L313.8,149.8 L314.5,150.2 L315.2,150.5 L315.8,150.0 L316.5,150.6 L317.2,149.7 L317.8,150.2 L318.5,149.9 L319.2,150.5 L319.8,149.8 L320.5,149.8 L321.2,150.3 L321.8,150.2 L322.5,150.8 L323.2,150.7 L323.8,151.1 L324.5,150.9 L325.2,151.0 L325.8,151.3 L326.5,150.5 L327.2,150.3 L327.8,151.5 L328.5,150.0 L329.2,151.0 L329.8,150.9 L330.5,149.8 L331.2,151.2 L331.8,151.3 L332.5,150.9 L333.2,151.0 L333.8,151.2 L334.5,150.0 L335.2,150.6 L335.8,150.6 L336.5,151.2 L337.2,151.1 L337.8,151.1 L338.5,150.7 L339.2,151.2 L339.8,150.8 L340.5,150.8 L341.2,149.9 L341.8,149.5 L342.5,149.5 L343.2,149.8 L343.8,149.0 L344.5,149.7 L345.2,147.7 L345.8,145.0 L346.5,140.8 L347.2,136.4 L347.8,134.0 L348.5,135.2 L349.2,141.1 L349.8,145.2 L350.5,147.6 L351.2,149.1 L351.8,150.0 L352.5,149.3 L353.2,150.6 L353.8,149.9 L354.5,149.6 L355.2,150.0 L355.8,150.9 L356.5,150.0 L357.2,151.0 L357.8,151.4 L358.5,150.6 L359.2,150.4 L359.8,150.6 L360.5,150.9 L361.2,151.1 L361.8,150.8 L362.5,150.9 L363.2,149.9 L363.8,150.0 L364.5,150.2 L365.2,151.1 L365.8,150.3 L366.5,150.8 L367.2,149.8 L367.8,149.9 L368.5,150.2 L369.2,151.0 L369.8,151.0 L370.5,151.0 L371.2,150.3 L371.8,150.7 L372.5,150.6 L373.2,150.6 L373.8,150.0 L374.5,151.4 L375.2,150.1 L375.8,151.5 L376.5,151.5 L377.2,149.8 L377.8,150.6 L378.5,151.3 L379.2,151.5 L379.8,150.6 L380.5,150.3 L381.2,150.2 L381.8,151.5 L382.5,150.2 L383.2,150.8 L383.8,150.0 L384.5,150.7 L385.2,151.5 L385.8,150.0 L386.5,151.3 L387.2,150.7 L387.8,151.4 L388.5,151.0 L389.2,150.2 L389.8,151.4 L390.5,150.7 L391.2,149.8 L391.8,149.8 L392.5,150.7 L393.2,150.6 L393.8,150.3 L394.5,150.0 L395.2,150.4 L395.8,150.3 L396.5,151.3 L397.2,149.8 L397.8,151.1 L398.5,151.3 L399.2,150.0 L399.8,151.4 L400.5,151.0 L401.2,151.4 L401.8,150.3 L402.5,150.4 L403.2,150.4 L403.8,151.5 L404.5,150.8 L405.2,150.4 L405.8,150.5 L406.5,150.2 L407.2,149.7 L407.8,149.8 L408.5,151.1 L409.2,150.1 L409.8,151.1 L410.5,149.7 L411.2,149.3 L411.8,149.0 L412.5,147.2 L413.2,146.0 L413.8,145.7 L414.5,144.9 L415.2,145.4 L415.8,146.5 L416.5,148.5 L417.2,149.8 L417.8,149.8 L418.5,150.5 L419.2,149.5 L419.8,150.9 L420.5,150.4 L421.2,151.0 L421.8,150.8 L422.5,150.2 L423.2,149.8 L423.8,151.4 L424.5,149.9 L425.2,150.6 L425.8,150.4 L426.5,150.3 L427.2,151.1 L427.8,151.5 L428.5,150.2 L429.2,150.9 L429.8,150.3 L430.5,150.8 L431.2,150.5 L431.8,150.1 L432.5,150.1 L433.2,150.1 L433.8,151.4 L434.5,150.7 L435.2,150.2 L435.8,151.4 L436.5,151.6 L437.2,150.6 L437.8,150.0 L438.5,150.1 L439.2,149.9 L439.8,150.4 L440.5,149.9 L441.2,150.2 L441.8,150.2 L442.5,150.8 L443.2,151.4 L443.8,151.1 L444.5,150.5 L445.2,150.5 L445.8,150.7 L446.5,150.5 L447.2,150.4 L447.8,149.9 L448.5,150.3 L449.2,151.5 L449.8,150.0 L450.5,150.7 L451.2,150.9 L451.8,151.3 L452.5,150.2 L453.2,150.3 L453.8,150.2 L454.5,150.5 L455.2,150.6 L455.8,151.5 L456.5,151.3 L457.2,151.3 L457.8,149.8 L458.5,149.8 L459.2,151.1 L459.8,151.4 L460.5,150.6 L461.2,150.8 L461.8,149.8 L462.5,150.5 L463.2,151.4 L463.8,151.2 L464.5,151.3 L465.2,151.5 L465.8,150.2 L466.5,149.9 L467.2,150.0 L467.8,150.7 L468.5,150.9 L469.2,151.4 L469.8,151.0 L470.5,150.8 L471.2,151.0 L471.8,150.3 L472.5,150.3 L473.2,149.1 L473.8,149.9 L474.5,148.2 L475.2,148.6 L475.8,147.3 L476.5,146.3 L477.2,146.4 L477.8,147.4 L478.5,148.9 L479.2,149.8 L479.8,149.2 L480.5,149.5 L481.2,150.5 L481.8,150.7 L482.5,150.3 L483.2,150.1 L483.8,150.8 L484.5,149.7 L485.2,150.3 L485.8,150.6 L486.5,151.5 L487.2,150.9 L487.8,151.3 L488.5,150.6 L489.2,150.2 L489.8,150.2 L490.5,151.5 L491.2,151.0 L491.8,150.3 L492.5,149.8 L493.2,150.7 L493.8,151.0 L494.5,150.5 L495.2,150.2 L495.8,151.0 L496.5,151.4 L497.2,150.2 L497.8,149.8 L498.5,150.4"/>
<path stroke="#ff00ff" d="M31.8,81.0 L32.5,82.3 L33.1,80.8 L33.8,81.8 L34.5,80.7 L35.1,81.0 L35.8,82.4 L36.5,80.9 L37.1,81.7 L37.8,81.4 L38.5,81.4 L39.1,81.4 L39.8,80.9 L40.5,82.0 L41.1,80.7 L41.8,81.0 L42.5,80.6 L43.1,81.0 L43.8,81.3 L44.5,82.2 L45.1,81.2 L45.8,80.8 L46.5,81.0 L47.1,82.3 L47.8,80.7 L48.5,81.7 L49.1,81.2 L49.8,81.7 L50.5,81.2 L51.1,81.8 L51.8,81.4 L52.5,81.7 L53.1,82.2 L53.8,81.6 L54.5,80.8 L55.1,80.7 L55.8,82.2 L56.5,81.4 L57.1,80.9 L57.8,82.2 L58.5,81.6 L59.1,81.8 L59.8,82.1 L60.5,81.0 L61.1,81.2 L61.8,82.1 L62.5,80.8 L63.1,81.9 L63.8,80.7 L64.5,81.8 L65.1,81.8 L65.8,82.2 L66.5,82.0 L67.1,81.4 L67.8,80.9 L68.5,80.8 L69.1,81.5 L69.8,81.4 L70.5,80.6 L71.1,82.1 L71.8,81.4 L72.5,81.8 L73.1,80.9 L73.8,80.9 L74.5,80.5 L75.1,81.1 L75.8,81.0 L76.5,81.2 L77.1,81.2 L77.8,82.0 L78.5,82.1 L79.1,80.8 L79.8,81.2 L80.5,80.8 L81.1,81.7 L81.8,82.2 L82.5,80.8 L83.1,81.8 L83.8,81.0 L84.5,80.5 L85.1,81.8 L85.8,81.1 L86.5,80.7 L87.1,81.2 L87.8,80.8 L88.5,81.2 L89.1,81.2 L89.8,81.2 L90.5,81.5 L91.1,80.9 L91.8,80.6 L92.5,80.5 L93.1,80.6 L93.8,81.3 L94.5,81.0 L95.1,81.8 L95.8,81.3 L96.5,81.6 L97.1,82.1 L97.8,80.4 L98.5,80.3 L99.1,80.6 L99.8,81.0 L100.5,81.3 L101.1,81.6 L101.8,80.9 L102.5,82.0 L103.1,80.2 L103.8,81.7 L104.5,80.6 L105.1,81.7 L105.8,80.2 L106.5,81.9 L107.1,81.5 L107.8,81.9 L108.5,81.1 L109.1,80.4 L109.8,81.7 L110.5,80.8 L111.1,80.1 L111.8,81.0 L112.5,80.7 L113.1,80.7 L113.8,80.0 L114.5,79.9 L115.1,80.7 L115.8,80.4 L116.5,79.7 L117.1,80.2 L117.8,80.6 L118.5,80.5 L119.1,79.9 L119.8,79.6 L120.5,79.4 L121.1,78.9 L121.8,78.6 L122.5,78.7 L123.1,77.5 L123.8,77.9 L124.5,76.9 L125.1,75.3 L125.8,72.4 L126.5,70.5 L127.1,67.5 L127.8,63.0 L128.5,59.9 L129.1,54.1 L129.8,47.7 L130.5,41.7 L131.1,34.4 L131.8,28.6 L132.5,24.4 L133.1,21.5 L133.8,20.2 L134.5,20.2 L135.1,24.5 L135.8,29.9 L136.5,35.4 L137.1,42.1 L137.8,48.5 L138.5,53.2 L139.1,58.7 L139.8,63.8 L140.5,68.5 L141.1,70.5 L141.8,74.0 L142.5,75.7 L143.1,76.5 L143.8,77.7 L144.5,79.0 L145.1,79.2 L145.8,78.8 L146.5,80.0 L147.1,79.1 L147.8,79.6 L148.5,80.8 L149.1,80.7 L149.8,79.9 L150.5,79.9 L151.1,80.6 L151.8,81.1 L152.5,80.9 L153.1,81.4 L153.8,81.0 L154.5,81.3 L155.1,80.9 L155.8,80.5 L156.5,80.7 L157.1,80.8 L157.8,80.9 L158.5,81.5 L159.1,80.5 L159.8,80.2 L160.5,81.4 L161.1,80.6 L161.8,80.9 L162.5,80.3 L163.1,81.6 L163.8,80.7 L164.5,80.7 L165.1,81.6 L165.8,81.1 L166.5,80.7 L167.1,81.8 L167.8,81.0 L168.5,80.9 L169.1,82.0 L169.8,81.7 L170.5,81.6 L171.1,80.7 L171.8,81.8 L172.5,81.4 L173.1,81.8 L173.8,81.0 L174.5,81.7 L175.1,81.8 L175.8,81.0 L176.5,81.5 L177.1,81.7 L177.8,82.1 L178.5,82.0 L179.1,81.8 L179.8,80.6 L180.5,81.4 L181.1,81.6 L181.8,80.5 L182.5,81.2 L183.1,81.9 L183.8,82.0 L184.5,82.0 L185.1,80.5 L185.8,81.4 L186.5,81.9 L187.1,81.5 L187.8,80.9 L188.5,80.4 L189.1,82.0 L189.8,81.9 L190.5,81.5 L191.1,81.0 L191.8,81.8 L192.5,81.8 L193.1,81.6 L193.8,81.4 L194.5,80.9 L195.1,80.8 L195.8,80.9 L196.5,80.8 L197.1,81.2 L197.8,80.4 L198.5,81.5 L199.1,80.8 L199.8,80.5 L200.5,80.6 L201.1,80.8 L201.8,80.9 L202.5,81.5 L203.1,80.2 L203.8,80.3 L204.5,80.4 L205.1,80.1 L205.8,80.9 L206.5,79.6 L207.1,79.3 L207.8,79.9 L208.5,79.8 L209.1,79.5 L209.8,78.4 L210.5,77.3 L211.1,77.5 L211.8,76.3 L212.5,74.9 L213.1,74.0 L213.8,73.5 L214.5,72.6 L215.1,71.4 L215.8,69.1 L216.5,68.7 L217.1,68.4 L217.8,67.8 L218.5,69.0 L219.1,68.2 L219.8,70.4 L220.5,70.8 L221.1,71.9 L221.8,72.6 L222.5,74.6 L223.1,75.1 L223.8,76.6 L224.5,77.6 L225.1,78.0 L225.8,79.2 L226.5,78.9 L227.1,79.1 L227.8,80.4 L228.5,80.1 L229.1,80.0 L229.8,80.8 L230.5,80.6 L231.1,80.1 L231.8,81.5 L232.5,80.9 L233.1,81.8 L233.8,81.1 L234.5,81.8 L235.1,80.7 L235.8,80.6 L236.5,81.2 L237.1,81.6 L237.8,81.7 L238.5,81.4 L239.1,80.5 L239.8,81.0 L240.5,80.4 L241.1,81.0 L241.8,82.0 L242.5,80.9 L243.1,81.6 L243.8,81.5 L244.5,80.6 L245.1,81.6 L245.8,80.5 L246.5,80.7 L247.1,81.4 L247.8,80.6 L248.5,82.1 L249.1,81.1 L249.8,81.5 L250.5,82.1 L251.1,80.6 L251.8,82.2 L252.5,80.4 L253.1,81.5 L253.8,81.6 L254.5,82.1 L255.1,81.0 L255.8,82.1 L256.5,81.5 L257.1,81.2 L257.8,80.7 L258.5,80.8 L259.1,81.0 L259.8,81.0 L260.5,81.0 L261.1,81.8 L261.8,81.0 L262.5,81.4 L263.1,80.4 L263.8,80.5 L264.5,81.6 L265.2,81.9 L265.8,80.8 L266.5,80.3 L267.2,80.6 L267.8,80.9 L268.5,80.8 L269.2,81.2 L269.8,80.7 L270.5,81.3 L271.2,81.5 L271.8,81.4 L272.5,81.3 L273.2,80.9 L273.8,80.2 L274.5,81.1 L275.2,80.0 L275.8,80.7 L276.5,79.6 L277.2,79.4 L277.8,78.5 L278.5,78.0 L279.2,76.4 L279.8,75.5 L280.5,74.4 L281.2,72.1 L281.8,70.8 L282.5,68.8 L283.2,67.3 L283.8,65.8 L284.5,65.3 L285.2,65.3 L285.8,64.6 L286.5,65.4 L287.2,67.9 L287.8,68.2 L288.5,71.1 L289.2,72.8 L289.8,73.4 L290.5,75.6 L291.2,76.2 L291.8,78.3 L292.5,78.0 L293.2,78.5 L293.8,78.8 L294.5,80.4 L295.2,79.8 L295.8,80.1 L296.5,81.5 L297.2,81.1 L297.8,81.2 L298.5,81.0 L299.2,81.1 L299.8,80.0 L300.5,81.5 L301.2,80.7 L301.8,81.6 L302.5,80.8 L303.2,81.7 L303.8,80.1 L304.5,81.9 L305.2,80.3 L305.8,81.0 L306.5,81.0 L307.2,81.9 L307.8,81.4 L308.5,81.9 L309.2,81.7 L309.8,80.8 L310.5,80.3 L311.2,80.3 L311.8,81.2 L312.5,81.6 L313.2,81.1 L313.8,80.4 L314.5,80.7 L315.2,80.6 L315.8,79.7 L316.5,80.2 L317.2,78.9 L317.8,78.0 L318.5,77.4 L319.2,77.4 L319.8,76.9 L320.5,75.0 L321.2,74.2 L321.8,73.6 L322.5,71.8 L323.2,71.3 L323.8,70.7 L324.5,69.9 L325.2,69.3 L325.8,70.2 L326.5,70.4 L327.2,69.6 L327.8,70.9 L328.5,70.7 L329.2,71.0 L329.8,70.7 L330.5,70.0 L331.2,70.2 L331.8,69.5 L332.5,70.3 L333.2,69.8 L333.8,71.0 L334.5,72.3 L335.2,74.0 L335.8,74.8 L336.5,76.3 L337.2,77.2 L337.8,78.3 L338.5,78.5 L339.2,79.1 L339.8,79.4 L340.5,79.4 L341.2,80.7 L341.8,80.6 L342.5,80.0 L343.2,80.3 L343.8,80.3 L344.5,81.3 L345.2,81.1 L345.8,80.4 L346.5,81.4 L347.2,81.2 L347.8,80.7 L348.5,81.0 L349.2,82.0 L349.8,80.5 L350.5,80.7 L351.2,81.3 L351.8,81.8 L352.5,81.9 L353.2,81.0 L353.8,81.7 L354.5,80.5 L355.2,81.0 L355.8,81.8 L356.5,81.5 L357.2,81.1 L357.8,81.4 L358.5,81.2 L359.2,81.3 L359.8,81.9 L360.5,82.1 L361.2,80.7 L361.8,81.7 L362.5,82.0 L363.2,81.4 L363.8,81.2 L364.5,80.9 L365.2,81.1 L365.8,81.3 L366.5,81.3 L367.2,80.4 L367.8,82.0 L368.5,80.6 L369.2,81.1 L369.8,80.4 L370.5,81.1 L371.2,80.0 L371.8,80.3 L372.5,80.2 L373.2,79.9 L373.8,80.0 L374.5,79.1 L375.2,79.3 L375.8,79.5 L376.5,78.7 L377.2,78.8 L377.8,78.2 L378.5,76.7 L379.2,76.1 L379.8,76.1 L380.5,75.7 L381.2,74.7 L381.8,74.5 L382.5,74.3 L383.2,73.9 L383.8,74.0 L384.5,74.1 L385.2,74.5 L385.8,75.0 L386.5,76.2 L387.2,75.6 L387.8,76.1 L388.5,78.1 L389.2,78.0 L389.8,78.8 L390.5,79.7 L391.2,79.8 L391.8,79.8 L392.5,80.8 L393.2,80.5 L393.8,80.4 L394.5,80.1 L395.2,80.1 L395.8,81.4 L396.5,81.7 L397.2,80.8 L397.8,81.1 L398.5,81.4 L399.2,81.3 L399.8,80.7 L400.5,81.9 L401.2,81.3 L401.8,81.6 L402.5,81.5 L403.2,81.1 L403.8,81.6 L404.5,80.7 L405.2,81.3 L405.8,81.5 L406.5,81.5 L407.2,80.9 L407.8,80.7 L408.5,80.5 L409.2,80.5 L409.8,80.6 L410.5,81.2 L411.2,81.3 L411.8,81.5 L412.5,81.0 L413.2,81.6 L413.8,80.2 L414.5,80.7 L415.2,80.2 L415.8,80.8 L416.5,80.7 L417.2,80.6 L417.8,80.1 L418.5,79.8 L419.2,79.5 L419.8,78.8 L420.5,78.7 L421.2,79.0 L421.8,78.9 L422.5,77.8 L423.2,78.9 L423.8,77.3 L424.5,77.4 L425.2,77.9 L425.8,77.7 L426.5,78.0 L427.2,78.4 L427.8,78.3 L428.5,78.7 L429.2,78.1 L429.8,78.5 L430.5,78.0 L431.2,77.4 L431.8,77.3 L432.5,77.4 L433.2,77.9 L433.8,77.6 L434.5,78.1 L435.2,78.4 L435.8,79.1 L436.5,77.9 L437.2,79.6 L437.8,78.1 L438.5,80.0 L439.2,80.4 L439.8,79.6 L440.5,80.6 L441.2,80.3 L441.8,80.6 L442.5,81.2 L443.2,81.5 L443.8,80.5 L444.5,80.4 L445.2,81.8 L445.8,81.2 L446.5,81.8 L447.2,80.6 L447.8,81.8 L448.5,80.6 L449.2,80.6 L449.8,80.8 L450.5,82.0 L451.2,81.0 L451.8,81.1 L452.5,80.8 L453.2,80.4 L453.8,81.0 L454.5,81.0 L455.2,80.7 L455.8,81.3 L456.5,80.4 L457.2,81.5 L457.8,81.2 L458.5,80.4 L459.2,79.4 L459.8,79.9 L460.5,79.8 L461.2,79.5 L461.8,78.8 L462.5,79.0 L463.2,79.2 L463.8,78.4 L464.5,77.0 L465.2,77.8 L465.8,77.7 L466.5,77.5 L467.2,78.3 L467.8,76.8 L468.5,76.9 L469.2,78.5 L469.8,77.6 L470.5,78.0 L471.2,79.6 L471.8,79.0 L472.5,80.3 L473.2,80.4 L473.8,80.4 L474.5,80.1 L475.2,79.8 L475.8,81.6 L476.5,81.5 L477.2,81.7 L477.8,81.1 L478.5,80.7 L479.2,81.4 L479.8,81.1 L480.5,80.7 L481.2,80.6 L481.8,81.1 L482.5,80.7 L483.2,80.9 L483.8,82.2 L484.5,82.1 L485.2,82.1 L485.8,81.4 L486.5,81.8 L487.2,80.8 L487.8,81.6 L488.5,82.2 L489.2,81.9 L489.8,82.3 L490.5,81.6 L491.2,81.1 L491.8,80.5 L492.5,81.0 L493.2,82.0 L493.8,81.5 L494.5,81.6 L495.2,82.0 L495.8,81.1 L496.5,80.8 L497.2,82.1 L497.8,81.6 L498.5,80.6"/>
</g>
<rect x="31.8" y="9" width="466.7" height="340.2" fill="none" stroke="#222" stroke-width="1.4"/>
<path d="M31.8,349.2 V356.6 M65.1,349.2 V353.7 M98.5,349.2 V356.6 M131.8,349.2 V353.7 M165.1,349.2 V356.6 M198.5,349.2 V353.7 M231.8,349.2 V356.6 M265.1,349.2 V353.7 M298.5,349.2 V356.6 M331.8,349.2 V353.7 M365.2,349.2 V356.6 M398.5,349.2 V353.7 M431.8,349.2 V356.6 M465.2,349.2 V353.7 M498.5,349.2 V356.6" stroke="#222" stroke-width="1.4" fill="none"/>
<text x="31.8" y="380.3" font-size="23" text-anchor="middle" font-family='"Liberation Serif", serif' fill="#111">10</text>
<text x="98.5" y="380.3" font-size="23" text-anchor="middle" font-family='"Liberation Serif", serif' fill="#111">20</text>
<text x="165.1" y="380.3" font-size="23" text-anchor="middle" font-family='"Liberation Serif", serif' fill="#111">30</text>
<text x="231.8" y="380.3" font-size="23" text-anchor="middle" font-family='"Liberation Serif", serif' fill="#111">40</text>
<text x="298.5" y="380.3" font-size="23" text-anchor="middle" font-family='"Liberation Serif", serif' fill="#111">50</text>
<text x="365.2" y="380.3" font-size="23" text-anchor="middle" font-family='"Liberation Serif", serif' fill="#111">60</text>
<text x="431.8" y="380.3" font-size="23" text-anchor="middle" font-family='"Liberation Serif", serif' fill="#111">70</text>
<text x="498.5" y="380.3" font-size="23" text-anchor="middle" font-family='"Liberation Serif", serif' fill="#111">80</text>
<ellipse cx="134.3" cy="14.7" rx="4.2" ry="3.7" fill="#000"/>
<ellipse cx="132.8" cy="140.2" rx="4.2" ry="3.7" fill="#000"/>
<text x="38.8" y="33.8" font-size="20.5" font-family='"Liberation Serif", serif' font-weight="bold" text-anchor="start" fill="#111">A</text>
<text x="37.5" y="68.2" font-size="21.0" font-family='"Liberation Serif", serif' text-anchor="start" fill="#111">T</text>
<text x="37.5" y="114.6" font-size="21.0" font-family='"Liberation Serif", serif' text-anchor="start" fill="#111">12T/P-LFO</text>
<text x="35.0" y="180.2" font-size="21.0" font-family='"Liberation Serif", serif' text-anchor="start" fill="#111">9T/P-LFO</text>
<text x="35.0" y="222.5" font-size="21.0" font-family='"Liberation Serif", serif' text-anchor="start" fill="#111">6T/P-LFO</text>
<text x="35.8" y="266.2" font-size="21.0" font-family='"Liberation Serif", serif' text-anchor="start" fill="#111">3T/P-LFO</text>
<text x="35.8" y="310.3" font-size="21.0" font-family='"Liberation Serif", serif' text-anchor="start" fill="#111">P-LFO</text>
<text x="178.8" y="87.8" font-size="20.0" font-family='"Liberation Serif", serif' text-anchor="middle" fill="#111">121</text>
<text x="108.5" y="137.7" font-size="20.0" font-family='"Liberation Serif", serif' text-anchor="middle" fill="#111">101</text>
<text x="228.9" y="133.0" font-size="20.0" font-family='"Liberation Serif", serif' text-anchor="middle" fill="#111">220</text>
<text x="273.6" y="128.3" font-size="20.0" font-family='"Liberation Serif", serif' text-anchor="middle" fill="#111">202</text>
<text x="310.7" y="141.2" font-size="20.0" font-family='"Liberation Serif", serif' text-anchor="middle" fill="#111">141</text>
<text x="346.7" y="130.0" font-size="20.0" font-family='"Liberation Serif", serif' text-anchor="middle" fill="#111">240</text>
<text x="412.6" y="137.4" font-size="20.0" font-family='"Liberation Serif", serif' text-anchor="middle" fill="#111">242</text>
<text x="474.8" y="139.8" font-size="20.0" font-family='"Liberation Serif", serif' text-anchor="middle" fill="#111">204</text>
<text x="192.0" y="404.8" font-size="27.0" font-family='"Liberation Serif", serif' font-weight="bold" text-anchor="start" fill="#111" textLength="146.5" lengthAdjust="spacingAndGlyphs">2 theta (deg)</text>
<text transform="translate(24.7,270) rotate(-90)" font-size="29" font-weight="bold" font-family='"Liberation Serif", serif' fill="#111" textLength="178" lengthAdjust="spacingAndGlyphs">Intensity / a.u.</text>
<g clip-path="url(#clipB)" fill="none" stroke-width="1.7" stroke-linejoin="round">
<path stroke="#000000" d="M579.6,352.3 L580.5,352.5 L581.7,352.2 L583.2,351.7 L584.8,351.5 L586.4,351.0 L588.0,350.6 L589.5,350.0 L591.1,348.9 L592.7,348.1 L594.3,347.6 L595.9,346.3 L597.5,345.3 L599.1,343.5 L600.7,342.1 L602.4,340.5 L604.0,338.5 L605.7,337.2 L607.3,335.7 L608.9,334.0 L610.5,332.8 L612.1,332.0 L613.8,331.2 L615.4,330.1 L617.0,329.4 L618.6,329.0 L620.3,328.5 L621.9,328.5 L623.5,328.6 L625.2,328.7 L626.8,328.7 L628.4,328.8 L630.1,329.1 L631.7,329.5 L633.3,329.8 L635.0,330.0 L636.6,330.8 L638.2,331.0 L639.9,331.4 L641.5,331.5 L643.1,332.3 L644.8,332.5 L646.4,332.3 L648.0,332.5 L649.6,332.7 L651.2,332.6 L652.9,332.6 L654.5,332.2 L656.1,332.2 L657.7,331.8 L659.4,331.3 L661.0,331.0 L662.6,330.7 L664.3,330.2 L665.9,329.6 L667.5,329.2 L669.0,328.6 L670.5,328.3 L672.1,328.2 L673.8,327.4 L675.7,326.5 L677.8,325.7 L680.2,324.5 L682.6,323.1 L685.1,321.5 L687.6,320.2 L690.0,319.1 L692.3,318.3 L694.6,317.3 L696.9,316.5 L699.2,315.8 L701.4,314.9 L703.7,314.1 L706.0,313.6 L708.2,313.0 L710.5,312.1 L712.8,311.2 L715.0,310.0 L717.3,308.9 L719.6,307.4 L722.1,305.2 L724.5,302.8 L726.8,300.6 L729.0,298.2 L731.0,296.6 L732.6,295.5 L734.0,294.3 L735.2,293.4 L736.4,292.6 L737.7,292.0 L739.2,291.3 L741.0,289.9 L742.9,289.4 L745.0,288.4 L747.1,287.5 L749.3,286.6 L751.5,285.8 L753.7,284.9 L756.0,284.3 L758.3,283.7 L760.6,282.9 L762.9,282.6 L765.2,281.5 L767.5,280.2 L769.8,279.1 L772.1,277.7 L774.3,276.2 L776.6,274.7 L778.9,273.3 L781.2,271.8 L783.4,270.3 L785.7,268.6 L788.0,266.7 L790.2,265.2 L792.5,263.6 L794.8,262.3 L797.1,260.9 L799.3,259.3 L801.6,257.8 L803.9,256.4 L806.2,254.8 L808.3,253.9 L810.3,252.8 L812.3,251.5 L814.5,250.6 L816.9,249.6 L819.9,248.8 L823.5,247.3 L827.5,245.8 L831.9,244.6 L836.5,243.0 L841.1,241.6 L845.5,240.5 L849.8,239.9 L854.2,239.1 L858.6,238.7 L863.0,238.5 L867.4,238.0 L871.8,237.5 L876.2,237.2 L880.6,236.6 L885.0,236.5 L889.4,236.2 L893.8,235.7 L898.2,235.3 L902.6,235.3 L907.0,234.7 L911.4,234.1 L915.7,233.8 L920.1,233.4 L924.5,232.6 L928.9,232.1 L933.3,231.6 L937.7,231.4 L942.1,230.6 L946.5,230.3 L950.9,229.8 L955.3,229.2 L959.8,228.4 L964.2,228.2 L968.6,227.5 L973.0,226.7 L977.3,226.1 L981.8,225.8 L986.6,225.1 L991.4,224.7 L995.8,224.2 L999.5,223.9 L1002.2,223.4"/>
<path stroke="#e53030" d="M579.6,350.7 L580.5,350.6 L581.7,350.0 L583.2,349.9 L584.8,350.0 L586.4,349.6 L588.0,349.1 L589.5,348.3 L591.1,347.8 L592.7,347.1 L594.3,346.2 L595.9,345.0 L597.5,344.0 L599.1,342.5 L600.7,341.0 L602.4,339.3 L604.0,337.4 L605.7,335.5 L607.3,334.0 L608.9,332.6 L610.5,331.4 L612.1,330.4 L613.8,329.8 L615.4,329.0 L617.0,328.4 L618.6,328.3 L620.3,327.9 L621.9,327.8 L623.5,327.6 L625.2,327.6 L626.8,327.9 L628.4,328.0 L630.1,328.6 L631.7,329.2 L633.3,329.5 L635.0,329.7 L636.6,330.4 L638.2,330.7 L639.9,331.0 L641.5,331.4 L643.1,331.6 L644.8,331.8 L646.4,331.7 L648.0,332.1 L649.6,332.1 L651.2,331.6 L652.9,331.7 L654.5,331.5 L656.1,331.2 L657.7,330.9 L659.4,330.6 L661.0,330.4 L662.6,329.7 L664.3,329.4 L665.9,328.7 L667.5,328.5 L669.0,328.1 L670.5,327.4 L672.1,326.9 L673.8,326.5 L675.7,325.6 L677.7,324.6 L679.7,323.5 L681.8,322.5 L684.1,321.4 L686.8,319.8 L690.0,318.6 L694.0,316.5 L698.6,314.8 L703.7,312.3 L708.7,310.4 L713.4,307.9 L717.3,305.5 L720.4,303.2 L722.9,300.8 L725.0,298.3 L726.9,295.7 L728.9,293.2 L731.0,291.1 L733.3,289.1 L735.6,286.7 L737.9,284.2 L740.1,282.5 L742.4,280.6 L744.7,279.0 L747.0,277.3 L749.3,276.4 L751.6,275.1 L753.8,274.5 L756.1,273.4 L758.4,272.5 L760.7,271.8 L762.9,270.6 L765.2,269.9 L767.5,269.2 L769.7,267.7 L772.0,266.4 L774.3,265.0 L776.6,262.7 L778.8,260.7 L781.1,258.1 L783.4,256.1 L785.7,254.0 L788.0,252.5 L790.3,250.6 L792.6,249.5 L794.8,247.6 L797.1,246.4 L799.4,244.4 L801.6,242.7 L803.8,241.2 L806.0,239.0 L808.2,237.1 L810.5,235.6 L813.0,233.6 L815.7,231.8 L818.5,230.5 L821.4,228.4 L824.3,226.7 L827.2,225.4 L830.0,224.2 L832.5,223.0 L834.9,221.6 L837.2,220.8 L839.6,219.7 L842.3,219.1 L845.5,218.4 L849.3,217.6 L853.5,217.0 L858.0,216.2 L862.6,215.6 L867.3,215.0 L871.8,214.4 L876.2,213.9 L880.6,213.9 L885.0,213.5 L889.4,213.3 L893.8,213.2 L898.2,213.2 L902.6,212.5 L907.0,212.3 L911.4,211.8 L915.7,211.4 L920.1,210.7 L924.5,210.6 L928.9,209.7 L933.3,209.3 L937.7,208.6 L942.1,207.7 L946.5,207.3 L950.9,206.3 L955.3,205.5 L959.8,204.6 L964.2,203.7 L968.6,202.8 L973.0,202.1 L977.3,201.2 L981.8,200.6 L986.6,199.6 L991.4,198.7 L995.8,197.5 L999.5,196.9 L1002.2,196.3"/>
<path stroke="#30d030" d="M579.6,344.4 L580.5,344.4 L581.7,344.1 L583.2,343.9 L584.8,343.6 L586.4,343.1 L588.0,342.8 L589.5,342.9 L591.1,342.5 L592.7,342.3 L594.3,342.4 L595.9,341.8 L597.5,341.5 L599.1,340.6 L600.7,339.7 L602.4,338.5 L604.0,337.7 L605.7,336.7 L607.3,335.5 L608.9,334.6 L610.5,333.5 L612.1,332.1 L613.8,331.4 L615.4,330.4 L617.0,329.5 L618.6,328.8 L620.3,328.8 L621.9,328.3 L623.5,328.2 L625.2,328.2 L626.8,328.1 L628.4,328.3 L630.1,328.4 L631.7,328.9 L633.3,329.2 L635.0,329.9 L636.6,330.2 L638.2,330.1 L639.9,330.5 L641.5,330.9 L643.1,331.6 L644.8,331.6 L646.4,331.9 L648.0,331.8 L649.6,331.9 L651.2,331.8 L652.9,331.8 L654.5,331.7 L656.1,331.5 L657.7,331.4 L659.4,331.0 L661.0,330.7 L662.6,330.3 L664.3,329.9 L665.9,329.3 L667.5,328.6 L669.0,328.5 L670.5,328.1 L672.1,327.6 L673.8,326.8 L675.7,326.1 L677.7,325.0 L679.7,324.3 L681.8,323.2 L684.1,321.8 L686.8,320.4 L690.0,319.3 L694.0,317.6 L698.6,315.2 L703.7,313.5 L708.7,311.1 L713.4,308.8 L717.3,306.7 L720.4,304.8 L722.9,302.7 L725.0,300.1 L726.9,298.2 L728.9,295.7 L731.0,293.9 L733.3,291.6 L735.6,289.6 L737.9,287.5 L740.1,285.1 L742.4,283.4 L744.7,281.4 L747.0,279.9 L749.3,279.1 L751.6,277.9 L753.8,277.2 L756.1,276.4 L758.4,275.5 L760.7,274.1 L762.9,273.0 L765.2,272.2 L767.5,270.7 L769.7,269.7 L772.0,268.1 L774.3,266.1 L776.6,264.2 L778.8,262.2 L781.1,260.1 L783.4,257.8 L785.7,255.5 L787.9,253.3 L790.0,251.1 L792.1,248.5 L794.3,246.0 L796.7,243.5 L799.4,240.4 L802.4,237.3 L805.5,234.2 L808.9,230.4 L812.4,226.8 L816.1,223.1 L819.9,220.0 L823.9,216.8 L828.0,213.2 L832.3,210.3 L836.7,207.3 L841.1,204.4 L845.5,202.6 L849.8,201.0 L854.2,200.2 L858.6,199.5 L863.0,199.3 L867.4,199.0 L871.8,198.3 L876.2,197.8 L880.6,197.7 L885.0,197.4 L889.4,196.7 L893.8,196.4 L898.2,195.9 L902.6,195.3 L907.0,194.7 L911.4,194.1 L915.7,193.5 L920.1,192.9 L924.5,191.9 L928.9,191.0 L933.3,190.1 L937.7,188.6 L942.1,187.7 L946.5,186.6 L950.9,185.3 L955.3,184.2 L959.8,183.3 L964.2,181.9 L968.6,180.8 L973.0,179.8 L977.3,178.9 L981.8,177.5 L986.6,176.4 L991.4,175.3 L995.8,174.4 L999.5,173.3 L1002.2,172.9"/>
<path stroke="#1a1ab8" d="M579.6,349.4 L580.5,349.1 L581.7,349.0 L583.2,348.6 L584.8,348.2 L586.4,348.0 L588.0,347.7 L589.5,347.1 L591.1,346.5 L592.7,345.6 L594.3,345.0 L595.9,344.0 L597.5,342.8 L599.1,341.4 L600.7,339.8 L602.4,338.3 L604.0,336.4 L605.7,334.6 L607.3,333.2 L608.9,331.6 L610.5,330.5 L612.1,329.7 L613.8,328.9 L615.4,328.2 L617.0,327.7 L618.6,326.9 L620.3,327.0 L621.9,327.0 L623.5,327.0 L625.2,327.0 L626.8,327.3 L628.4,327.3 L630.1,328.1 L631.7,328.5 L633.3,328.7 L635.0,329.0 L636.6,329.7 L638.2,329.9 L639.9,330.4 L641.5,330.7 L643.1,330.8 L644.8,331.0 L646.4,331.2 L648.0,331.2 L649.6,331.0 L651.2,331.0 L652.9,331.1 L654.5,330.5 L656.1,330.3 L657.7,330.3 L659.4,329.7 L661.0,329.4 L662.6,328.9 L664.3,328.4 L665.9,328.2 L667.5,327.4 L669.0,327.1 L670.5,326.5 L672.1,326.2 L673.8,325.4 L675.7,324.7 L677.7,324.1 L679.7,322.9 L681.8,322.0 L684.1,321.0 L686.8,319.2 L690.0,317.6 L694.0,315.8 L698.6,313.9 L703.7,311.5 L708.7,308.8 L713.4,306.4 L717.3,303.9 L720.4,301.7 L722.9,299.0 L725.0,296.9 L726.9,294.6 L728.9,292.2 L731.0,289.8 L733.3,287.7 L735.6,285.0 L737.9,282.9 L740.1,281.2 L742.4,279.2 L744.7,277.4 L747.0,276.3 L749.3,275.0 L751.6,274.2 L753.8,273.1 L756.1,272.2 L758.4,271.3 L760.7,270.0 L762.9,269.0 L765.2,268.1 L767.5,266.5 L769.7,265.0 L772.0,263.6 L774.3,262.1 L776.6,260.7 L778.8,258.7 L781.1,256.8 L783.4,254.7 L785.7,253.0 L788.0,250.5 L790.4,248.1 L792.7,245.5 L795.0,242.9 L797.3,240.3 L799.4,237.9 L801.4,234.7 L803.3,231.6 L805.2,228.6 L806.9,225.4 L808.6,222.9 L810.3,219.8 L811.7,217.8 L812.7,216.0 L813.7,214.2 L814.9,212.8 L816.5,210.9 L819.0,208.9 L822.4,206.8 L826.5,204.2 L831.1,202.0 L836.0,199.5 L840.9,197.8 L845.5,196.1 L849.9,194.7 L854.3,193.6 L858.7,193.1 L863.0,192.6 L867.4,192.3 L871.8,191.9 L876.2,191.8 L880.6,191.2 L885.0,191.0 L889.4,191.3 L893.8,190.9 L898.2,190.8 L902.6,190.2 L907.0,190.0 L911.4,189.4 L915.7,189.0 L920.1,188.3 L924.5,187.5 L928.9,186.5 L933.3,185.6 L937.7,184.9 L942.1,183.8 L946.5,182.7 L950.9,181.3 L955.3,180.3 L959.8,179.2 L964.2,177.9 L968.6,176.7 L973.0,175.4 L977.3,174.4 L981.8,173.3 L986.6,172.0 L991.4,171.3 L995.8,170.4 L999.5,169.2 L1002.2,169.0"/>
<path stroke="#38e4f0" d="M579.6,347.6 L580.5,347.4 L581.7,347.2 L583.2,347.0 L584.8,346.5 L586.4,346.2 L588.0,345.3 L589.5,345.0 L591.1,344.8 L592.7,344.1 L594.3,343.5 L595.9,342.3 L597.5,341.5 L599.1,340.0 L600.7,338.5 L602.4,336.6 L604.0,334.5 L605.7,332.9 L607.3,331.5 L608.9,330.6 L610.5,329.5 L612.1,328.4 L613.8,327.9 L615.4,327.0 L617.0,326.8 L618.6,326.2 L620.3,326.0 L621.9,326.5 L623.5,326.2 L625.2,326.4 L626.8,326.9 L628.4,327.1 L630.1,327.1 L631.7,327.8 L633.3,328.0 L635.0,328.4 L636.6,328.5 L638.2,329.1 L639.9,329.3 L641.5,329.7 L643.1,329.9 L644.8,329.8 L646.4,329.9 L648.0,329.8 L649.6,329.8 L651.2,329.6 L652.9,329.6 L654.5,329.5 L656.1,329.0 L657.7,329.0 L659.4,328.4 L661.0,328.0 L662.6,327.8 L664.3,327.2 L665.9,326.6 L667.5,326.2 L669.0,325.9 L670.5,325.2 L672.1,325.1 L673.8,324.0 L675.7,323.5 L677.8,322.5 L680.2,320.9 L682.6,319.9 L685.1,318.2 L687.6,317.0 L690.0,315.5 L692.3,314.4 L694.6,313.4 L696.9,312.9 L699.2,311.5 L701.4,310.8 L703.7,309.8 L706.0,308.7 L708.3,307.3 L710.7,306.2 L713.0,305.0 L715.2,303.8 L717.3,301.8 L719.3,300.2 L721.2,298.0 L723.0,295.6 L724.8,292.7 L726.6,290.8 L728.3,288.2 L730.0,286.3 L731.7,284.4 L733.4,282.6 L735.0,280.5 L736.5,279.1 L737.9,277.4 L739.1,276.0 L740.2,274.9 L741.2,273.8 L742.2,272.9 L743.4,272.0 L744.7,271.4 L746.3,270.6 L748.0,269.2 L749.9,268.2 L751.8,267.8 L753.7,266.7 L755.6,265.8 L757.4,264.9 L759.3,264.3 L761.1,263.7 L762.9,262.8 L764.8,261.9 L766.6,260.8 L768.5,260.1 L770.3,258.3 L772.2,257.2 L774.1,255.9 L775.8,254.1 L777.5,252.9 L779.0,251.6 L780.4,250.0 L781.8,248.6 L783.1,246.7 L784.4,245.1 L785.7,243.0 L787.1,241.1 L788.5,238.2 L790.0,235.6 L791.4,233.1 L792.7,230.5 L793.9,228.4 L794.8,226.6 L795.4,225.5 L795.9,224.8 L796.6,223.6 L797.7,222.1 L799.4,220.0 L801.8,216.6 L804.6,212.8 L807.9,208.6 L811.4,204.1 L815.2,199.7 L819.0,196.0 L823.0,192.8 L827.3,189.9 L831.8,187.4 L836.4,185.3 L841.0,183.3 L845.5,181.3 L849.9,180.2 L854.3,179.2 L858.7,178.4 L863.0,177.9 L867.4,177.5 L871.8,176.8 L876.2,176.6 L880.6,176.1 L885.0,176.0 L889.4,176.0 L893.8,175.7 L898.2,175.2 L902.6,175.1 L907.0,174.6 L911.4,174.2 L915.7,173.4 L920.1,173.0 L924.5,172.1 L928.9,171.2 L933.3,169.9 L937.7,168.7 L942.1,167.2 L946.5,165.8 L950.9,164.2 L955.3,163.0 L959.8,161.7 L964.2,160.4 L968.6,158.8 L973.0,157.7 L977.3,156.6 L981.8,155.4 L986.6,154.5 L991.4,153.5 L995.8,152.4 L999.5,151.7 L1002.2,150.9"/>
<path stroke="#8b1414" d="M579.6,352.5 L580.7,352.4 L582.3,352.2 L584.2,352.7 L586.2,352.1 L588.2,352.4 L590.0,352.6 L591.7,352.0 L593.4,352.3 L595.0,352.3 L596.7,351.8 L598.3,351.9 L600.0,351.9 L601.7,351.5 L603.5,351.4 L605.2,350.6 L606.9,350.3 L608.5,349.8 L610.0,349.6 L611.3,349.5 L612.5,348.8 L613.5,348.5 L614.6,347.7 L615.6,347.3 L616.7,346.1 L617.8,345.4 L619.0,344.7 L620.2,343.7 L621.4,342.3 L622.5,340.8 L623.5,339.3 L624.4,337.5 L625.3,335.6 L626.1,333.8 L626.9,331.1 L627.7,329.2 L628.5,326.8 L629.3,323.6 L630.2,321.1 L631.0,318.4 L631.9,315.2 L632.8,312.5 L633.6,309.8 L634.4,306.2 L635.3,303.4 L636.1,299.9 L636.9,297.0 L637.8,293.8 L638.6,289.8 L639.4,286.0 L640.3,282.2 L641.2,278.5 L642.0,274.1 L642.9,269.9 L643.7,266.0 L644.5,262.0 L645.4,257.3 L646.2,252.8 L647.0,248.4 L647.9,243.4 L648.7,239.1 L649.6,233.9 L650.5,229.0 L651.4,224.1 L652.2,218.3 L653.1,213.7 L653.8,209.1 L654.5,204.5 L655.0,200.7 L655.6,197.4 L656.1,193.8 L656.6,189.5 L657.1,186.1 L657.6,182.5 L658.2,178.1 L658.7,174.5 L659.2,170.3 L659.7,166.7 L660.3,163.1 L660.9,159.3 L661.4,155.8 L662.0,151.6 L662.7,148.2 L663.3,144.9 L664.0,141.1 L664.8,137.3 L665.6,133.6 L666.4,130.3 L667.3,126.3 L668.2,122.3 L669.0,119.2 L669.8,115.2 L670.7,111.6 L671.5,107.7 L672.3,104.3 L673.2,100.9 L674.0,97.7 L674.8,95.5 L675.6,92.8 L676.4,91.2 L677.2,88.7 L678.1,87.4 L679.0,85.7 L680.0,83.8 L681.1,82.4 L682.2,80.6 L683.3,79.6 L684.6,78.1 L685.8,76.8 L687.1,76.3 L688.5,75.0 L689.9,74.1 L691.3,73.7 L692.8,72.6 L694.2,72.1 L695.6,71.0 L697.1,70.8 L698.5,69.7 L700.0,68.9 L701.5,68.9 L703.0,67.8 L704.4,67.8 L705.6,67.3 L706.9,66.6 L708.3,65.7 L710.0,65.1 L712.3,64.6 L715.1,64.0 L718.5,63.3 L722.1,62.6 L726.0,61.2 L729.9,60.2 L733.9,59.5 L737.9,58.4 L742.1,57.4 L746.3,56.9 L750.6,56.1 L754.9,54.8 L759.2,54.3 L763.3,53.7 L767.2,53.0 L771.2,52.0 L775.3,51.7 L779.7,50.5 L784.5,50.2 L789.9,49.4 L795.7,48.7 L801.9,47.6 L808.2,46.6 L814.5,45.7 L820.6,45.3 L826.6,44.3 L832.7,43.9 L838.7,42.7 L844.7,42.5 L850.8,41.4 L856.8,40.7 L862.8,40.2 L868.8,39.8 L874.9,39.4 L880.9,38.8 L886.9,38.2 L892.9,38.1 L899.0,38.1 L905.2,37.7 L911.4,38.3 L917.5,36.5 L923.4,38.1 L929.0,37.7 L934.3,36.8 L939.4,36.6 L944.4,36.3 L949.1,36.7 L953.6,35.0 L957.9,35.9 L961.9,35.6 L965.6,35.0 L969.1,35.8 L972.6,35.7 L976.0,34.6 L979.6,35.8 L983.6,35.4 L987.9,35.6 L992.3,36.1 L996.3,35.2 L999.7,36.4 L1002.2,36.1"/>
</g>
<rect x="579.6" y="15.8" width="422.6" height="338.5" fill="none" stroke="#222" stroke-width="1.4"/>
<path d="M579.6,354.3 H572.3 M579.6,320.4 H576.0 M579.6,286.6 H572.3 M579.6,252.8 H576.0 M579.6,218.9 H572.3 M579.6,185.1 H576.0 M579.6,151.2 H572.3 M579.6,117.4 H576.0 M579.6,83.5 H572.3 M579.6,49.7 H576.0 M579.6,15.8 H572.3 M579.6,354.3 V361.0 M621.9,354.3 V358.0 M664.1,354.3 V361.0 M706.4,354.3 V358.0 M748.6,354.3 V361.0 M790.9,354.3 V358.0 M833.2,354.3 V361.0 M875.4,354.3 V358.0 M917.7,354.3 V361.0 M959.9,354.3 V358.0 M1002.2,354.3 V361.0" stroke="#222" stroke-width="1.4" fill="none"/>
<text x="568.3" y="361.9" font-size="22.5" font-family='"Liberation Serif", serif' text-anchor="end" fill="#111">0</text>
<text x="568.3" y="294.2" font-size="22.5" font-family='"Liberation Serif", serif' text-anchor="end" fill="#111">20</text>
<text x="568.3" y="226.5" font-size="22.5" font-family='"Liberation Serif", serif' text-anchor="end" fill="#111">40</text>
<text x="568.3" y="158.8" font-size="22.5" font-family='"Liberation Serif", serif' text-anchor="end" fill="#111">60</text>
<text x="568.3" y="91.1" font-size="22.5" font-family='"Liberation Serif", serif' text-anchor="end" fill="#111">80</text>
<text x="568.3" y="23.4" font-size="22.5" font-family='"Liberation Serif", serif' text-anchor="end" fill="#111">100</text>
<text x="579.6" y="382.3" font-size="22.5" font-family='"Liberation Serif", serif' text-anchor="middle" fill="#111">300</text>
<text x="664.1" y="382.3" font-size="22.5" font-family='"Liberation Serif", serif' text-anchor="middle" fill="#111">400</text>
<text x="748.6" y="382.3" font-size="22.5" font-family='"Liberation Serif", serif' text-anchor="middle" fill="#111">500</text>
<text x="833.2" y="382.3" font-size="22.5" font-family='"Liberation Serif", serif' text-anchor="middle" fill="#111">600</text>
<text x="917.7" y="382.3" font-size="22.5" font-family='"Liberation Serif", serif' text-anchor="middle" fill="#111">700</text>
<text x="1002.2" y="382.3" font-size="22.5" font-family='"Liberation Serif", serif' text-anchor="middle" fill="#111">800</text>
<text x="585.2" y="36.5" font-size="17.0" font-family='"Liberation Serif", serif' font-weight="bold" text-anchor="start" fill="#111">B</text>
<text x="698.0" y="402.8" font-size="25.5" font-family='"Liberation Serif", serif' font-weight="bold" text-anchor="start" fill="#111" textLength="188" lengthAdjust="spacingAndGlyphs">Wavelength (nm)</text>
<text transform="translate(531.6,345.5) rotate(-90)" font-size="27.5" font-weight="bold" font-family='"Liberation Serif", serif' fill="#111" textLength="324.5" lengthAdjust="spacingAndGlyphs">UV-vis diffuse reflectance/ %</text>
<path d="M678.9,108.9 H714.8" stroke="#8b1414" stroke-width="2"/>
<path d="M678.9,141.2 H714.8" stroke="#38e4f0" stroke-width="2"/>
<path d="M678.9,165.8 H714.8" stroke="#1a1ab8" stroke-width="2"/>
<path d="M678.9,190.6 H714.8" stroke="#30d030" stroke-width="2"/>
<path d="M678.9,215.2 H714.8" stroke="#e53030" stroke-width="2"/>
<path d="M678.9,239.9 H714.8" stroke="#000000" stroke-width="2"/>
<text x="720.5" y="114.6" font-size="19.5" font-family='"Liberation Serif", serif' text-anchor="start" fill="#111">TiO</text>
<text x="752.6" y="123.4" font-size="11.5" font-family='"Liberation Serif", serif' text-anchor="start" fill="#111">2</text>
<text x="720.8" y="146.8" font-size="19.5" font-family='"Liberation Serif", serif' text-anchor="start" fill="#111">12T/P-LFO</text>
<text x="720.8" y="172.2" font-size="19.5" font-family='"Liberation Serif", serif' text-anchor="start" fill="#111">9T/P-LFO</text>
<text x="720.8" y="197.0" font-size="19.5" font-family='"Liberation Serif", serif' text-anchor="start" fill="#111">6T/P-LFO</text>
<text x="720.8" y="221.6" font-size="19.5" font-family='"Liberation Serif", serif' text-anchor="start" fill="#111">3T/P-LFO</text>
<text x="720.8" y="246.3" font-size="19.5" font-family='"Liberation Serif", serif' text-anchor="start" fill="#111">P-LFO</text>
<path d="M674.4,239.5 V113" stroke="#111" stroke-width="1.1"/>
<path d="M671.2,116 L674.4,106.5 L677.6,116 Z" fill="#111"/>
</svg>
</body></html>
